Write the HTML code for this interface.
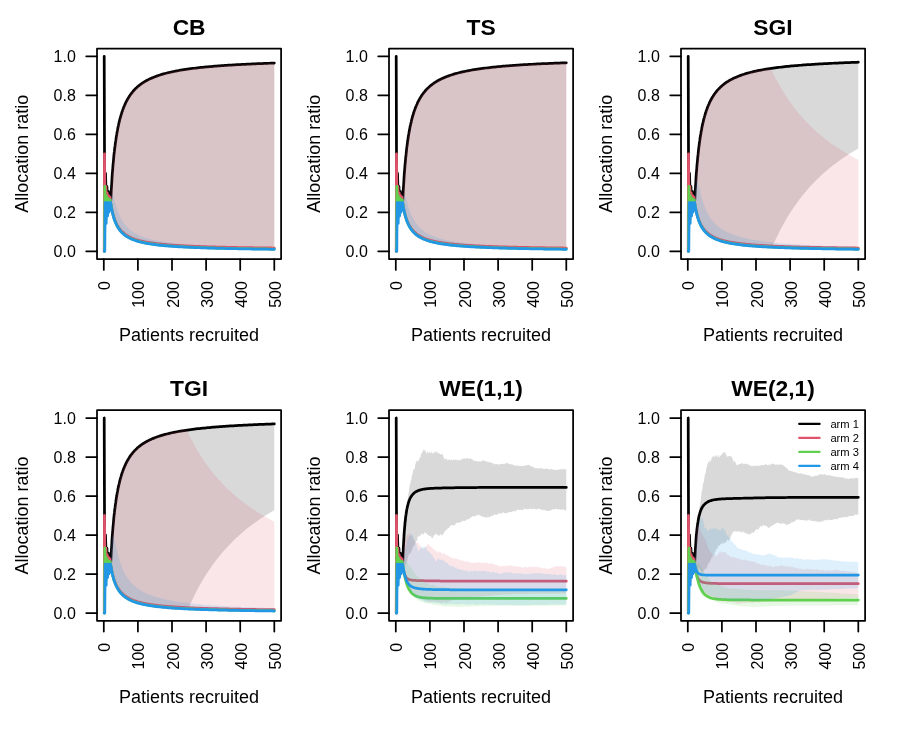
<!DOCTYPE html>
<html><head><meta charset="utf-8"><title>Allocation ratio</title>
<style>
html,body{margin:0;padding:0;background:#fff;}
svg{display:block;will-change:transform;}
text{font-family:"Liberation Sans",sans-serif;fill:#000;}
.ax{font-size:18px;}
.tk{font-size:16px;}
.ti{font-size:22.8px;font-weight:bold;}
.lg{font-size:11.2px;}
.tkl{stroke:#000;stroke-width:1.75;stroke-linecap:round;}
</style></head><body>
<svg width="897" height="734" viewBox="0 0 897 734">
<rect width="897" height="734" fill="#fff"/>
<g>
<clipPath id="cp0"><rect x="97" y="48.5" width="184.1" height="210.6"/></clipPath>
<g clip-path="url(#cp0)">
<polyline points="104.2,56.3 104.5,153.8 104.8,186.3 105.2,202.55 105.5,173.3 105.9,186.3 106.2,195.59 106.5,202.55 106.9,186.3 107.2,192.8 107.6,198.12 107.9,202.55 108.3,191.3 108.6,195.59 108.9,199.3 109.3,202.55 109.6,193.95 110,197.13 110.3,199.98 110.6,202.55 111,195.72 111.3,189.5 111.7,183.81 112,178.6 112.3,173.79 112.7,169.35 113,165.23 113.4,161.41 113.7,157.85 114,154.52 114.4,151.4 114.7,148.48 115.1,145.73 115.4,143.14 115.8,140.7 116.1,138.39 116.4,136.21 116.8,134.14 117.1,132.17 117.5,130.3 117.8,128.53 118.1,126.84 118.5,125.22 118.8,123.68 119.2,122.21 119.5,120.8 119.8,119.45 120.2,118.15 120.5,116.91 120.9,115.72 121.2,114.58 121.6,113.47 121.9,112.41 122.2,111.39 122.6,110.41 122.9,109.46 123.3,108.54 123.6,107.66 123.9,106.81 124.3,105.98 125,104.41 125.6,102.93 126.3,101.55 127,100.25 127.7,99.02 128.4,97.86 129.1,96.76 129.7,95.72 130.4,94.73 131.1,93.79 131.8,92.9 132.5,92.05 133.1,91.24 133.8,90.47 134.5,89.73 135.2,89.02 135.9,88.35 136.6,87.7 137.2,87.08 137.9,86.48 138.6,85.9 139.3,85.35 140,84.82 140.6,84.31 141.3,83.82 142,83.34 142.7,82.88 143.4,82.44 144.1,82.01 144.7,81.6 145.4,81.2 146.1,80.81 146.8,80.44 147.5,80.08 148.2,79.73 148.8,79.38 149.5,79.05 150.2,78.73 150.9,78.42 151.6,78.12 153.3,77.4 155,76.72 156.7,76.1 158.4,75.51 160.1,74.95 161.8,74.43 163.5,73.94 165.2,73.47 166.9,73.03 168.6,72.62 170.3,72.22 172,71.85 173.7,71.49 175.4,71.15 177.1,70.83 178.8,70.52 180.5,70.22 182.2,69.94 184,69.67 185.7,69.41 187.4,69.16 189.1,68.92 190.8,68.69 192.5,68.47 194.2,68.26 195.9,68.05 197.6,67.86 199.3,67.67 201,67.48 202.7,67.31 204.4,67.14 206.1,66.97 207.8,66.81 209.5,66.66 211.2,66.51 212.9,66.36 214.6,66.22 216.4,66.08 218.1,65.95 219.8,65.82 221.5,65.7 223.2,65.58 224.9,65.46 226.6,65.34 228.3,65.23 230,65.13 231.7,65.02 233.4,64.92 235.1,64.82 236.8,64.72 238.5,64.62 240.2,64.53 241.9,64.44 243.6,64.35 245.3,64.27 247,64.18 248.7,64.1 250.5,64.02 252.2,63.94 253.9,63.87 255.6,63.79 257.3,63.72 259,63.65 260.7,63.58 262.4,63.51 264.1,63.44 265.8,63.38 267.5,63.31 269.2,63.25 270.9,63.19 272.6,63.13 274.3,63.07" fill="none" stroke="#000000" stroke-width="2.75" stroke-linecap="round" stroke-linejoin="round"/>
<polygon points="110.6,202.6 111,195.7 111.3,189.5 111.7,183.8 112,178.6 112.3,173.8 112.7,169.3 113,165.2 113.4,161.4 113.7,157.8 114,154.5 114.4,151.4 114.7,148.5 115.1,145.7 115.4,143.1 115.8,140.7 116.1,138.4 116.4,136.2 116.8,134.1 117.1,132.2 117.5,130.3 117.8,128.5 118.1,126.8 118.5,125.2 118.8,123.7 119.2,122.2 119.5,120.8 119.8,119.4 120.2,118.2 120.5,116.9 120.9,115.7 121.2,114.6 121.6,113.5 121.9,112.4 122.2,111.4 122.6,110.4 122.9,109.5 123.3,108.5 123.6,107.7 123.9,106.8 124.3,106 125,104.4 125.6,102.9 126.3,101.5 127,100.2 127.7,99 128.4,97.9 129.1,96.8 129.7,95.7 130.4,94.7 131.1,93.8 131.8,92.9 132.5,92.1 133.1,91.2 133.8,90.5 134.5,89.7 135.2,89 135.9,88.3 136.6,87.7 137.2,87.1 137.9,86.5 138.6,85.9 139.3,85.4 140,84.8 140.6,84.3 141.3,83.8 142,83.3 142.7,82.9 143.4,82.4 144.1,82 144.7,81.6 145.4,81.2 146.1,80.8 146.8,80.4 147.5,80.1 148.2,79.7 148.8,79.4 149.5,79.1 150.2,78.7 150.9,78.4 151.6,78.1 153.3,77.4 155,76.7 156.7,76.1 158.4,75.5 160.1,75 161.8,74.4 163.5,73.9 165.2,73.5 166.9,73 168.6,72.6 170.3,72.2 172,71.8 173.7,71.5 175.4,71.2 177.1,70.8 178.8,70.5 180.5,70.2 182.2,69.9 184,69.7 185.7,69.4 187.4,69.2 189.1,68.9 190.8,68.7 192.5,68.5 194.2,68.3 195.9,68.1 197.6,67.9 199.3,67.7 201,67.5 202.7,67.3 204.4,67.1 206.1,67 207.8,66.8 209.5,66.7 211.2,66.5 212.9,66.4 214.6,66.2 216.4,66.1 218.1,66 219.8,65.8 221.5,65.7 223.2,65.6 224.9,65.5 226.6,65.3 228.3,65.2 230,65.1 231.7,65 233.4,64.9 235.1,64.8 236.8,64.7 238.5,64.6 240.2,64.5 241.9,64.4 243.6,64.4 245.3,64.3 247,64.2 248.7,64.1 250.5,64 252.2,63.9 253.9,63.9 255.6,63.8 257.3,63.7 259,63.6 260.7,63.6 262.4,63.5 264.1,63.4 265.8,63.4 267.5,63.3 269.2,63.2 270.9,63.2 272.6,63.1 274.3,63.1 274.3,249.4 272.6,249.3 270.9,249.3 269.2,249.3 267.5,249.3 265.8,249.2 264.1,249.2 262.4,249.2 260.7,249.2 259,249.2 257.3,249.1 255.6,249.1 253.9,249.1 252.2,249.1 250.5,249 248.7,249 247,249 245.3,249 243.6,248.9 241.9,248.9 240.2,248.9 238.5,248.8 236.8,248.8 235.1,248.8 233.4,248.7 231.7,248.7 230,248.7 228.3,248.6 226.6,248.6 224.9,248.6 223.2,248.5 221.5,248.5 219.8,248.4 218.1,248.4 216.4,248.3 214.6,248.3 212.9,248.3 211.2,248.2 209.5,248.2 207.8,248.1 206.1,248.1 204.4,248 202.7,247.9 201,247.9 199.3,247.8 197.6,247.8 195.9,247.7 194.2,247.6 192.5,247.6 190.8,247.5 189.1,247.4 187.4,247.3 185.7,247.2 184,247.2 182.2,247.1 180.5,247 178.8,246.9 177.1,246.8 175.4,246.7 173.7,246.5 172,246.4 170.3,246.3 168.6,246.2 166.9,246 165.2,245.9 163.5,245.7 161.8,245.6 160.1,245.4 158.4,245.2 156.7,245 155,244.8 153.3,244.6 151.6,244.3 150.9,244.2 150.2,244.1 149.5,244 148.8,243.9 148.2,243.8 147.5,243.7 146.8,243.6 146.1,243.4 145.4,243.3 144.7,243.2 144.1,243 143.4,242.9 142.7,242.7 142,242.6 141.3,242.4 140.6,242.3 140,242.1 139.3,241.9 138.6,241.7 137.9,241.6 137.2,241.4 136.6,241.1 135.9,240.9 135.2,240.7 134.5,240.5 133.8,240.2 133.1,240 132.5,239.7 131.8,239.4 131.1,239.1 130.4,238.8 129.7,238.5 129.1,238.1 128.4,237.8 127.7,237.4 127,237 126.3,236.5 125.6,236.1 125,235.6 124.3,235.1 123.9,234.8 123.6,234.5 123.3,234.2 122.9,233.9 122.6,233.6 122.2,233.2 121.9,232.9 121.6,232.6 121.2,232.2 120.9,231.8 120.5,231.4 120.2,231 119.8,230.6 119.5,230.1 119.2,229.6 118.8,229.1 118.5,228.6 118.1,228.1 117.8,227.5 117.5,226.9 117.1,226.3 116.8,225.6 116.4,224.9 116.1,224.2 115.8,223.4 115.4,222.6 115.1,221.8 114.7,220.8 114.4,219.8 114,218.8 113.7,217.7 113.4,216.5 113,215.2 112.7,213.8 112.3,212.3 112,210.7 111.7,208.9 111.3,207 111,204.9 110.6,202.6" fill="#000000" fill-opacity="0.15"/>
<polyline points="104.2,251.3 104.5,153.8 104.8,186.3 105.2,202.55 105.5,212.3 105.9,186.3 106.2,195.59 106.5,202.55 106.9,207.97 107.2,192.8 107.6,198.12 107.9,202.55 108.3,206.3 108.6,195.59 108.9,199.3 109.3,202.55 109.6,205.42 110,197.13 110.3,199.98 110.6,202.55 111,204.71 111.3,206.68 111.7,208.48 112,210.13 112.3,211.65 112.7,213.06 113,214.36 113.4,215.58 113.7,216.71 114,217.77 114.4,218.77 114.7,219.7 115.1,220.58 115.4,221.41 115.8,222.19 116.1,222.93 116.4,223.64 116.8,224.3 117.1,224.94 117.5,225.54 117.8,226.12 118.1,226.67 118.5,227.19 118.8,227.7 119.2,228.18 119.5,228.64 119.8,229.08 120.2,229.51 120.5,229.91 120.9,230.3 121.2,230.68 121.6,231.04 121.9,231.39 122.2,231.73 122.6,232.06 122.9,232.37 123.3,232.68 123.6,232.97 123.9,233.25 124.3,233.53 125,234.05 125.6,234.54 126.3,235 127,235.44 127.7,235.85 128.4,236.24 129.1,236.61 129.7,236.96 130.4,237.29 131.1,237.61 131.8,237.91 132.5,238.19 133.1,238.47 133.8,238.73 134.5,238.98 135.2,239.22 135.9,239.44 136.6,239.66 137.2,239.87 137.9,240.08 138.6,240.27 139.3,240.46 140,240.64 140.6,240.81 141.3,240.98 142,241.14 142.7,241.29 143.4,241.44 144.1,241.59 144.7,241.73 145.4,241.86 146.1,242 146.8,242.12 147.5,242.25 148.2,242.36 148.8,242.48 149.5,242.59 150.2,242.7 150.9,242.81 151.6,242.91 153.3,243.16 155,243.38 156.7,243.6 158.4,243.8 160.1,243.99 161.8,244.16 163.5,244.33 165.2,244.49 166.9,244.64 168.6,244.78 170.3,244.91 172,245.04 173.7,245.16 175.4,245.28 177.1,245.39 178.8,245.49 180.5,245.59 182.2,245.69 184,245.78 185.7,245.87 187.4,245.95 189.1,246.04 190.8,246.11 192.5,246.19 194.2,246.26 195.9,246.33 197.6,246.4 199.3,246.46 201,246.52 202.7,246.58 204.4,246.64 206.1,246.7 207.8,246.75 209.5,246.8 211.2,246.86 212.9,246.91 214.6,246.95 216.4,247 218.1,247.04 219.8,247.09 221.5,247.13 223.2,247.17 224.9,247.21 226.6,247.25 228.3,247.29 230,247.33 231.7,247.36 233.4,247.4 235.1,247.43 236.8,247.46 238.5,247.5 240.2,247.53 241.9,247.56 243.6,247.59 245.3,247.62 247,247.65 248.7,247.67 250.5,247.7 252.2,247.73 253.9,247.75 255.6,247.78 257.3,247.8 259,247.83 260.7,247.85 262.4,247.87 264.1,247.9 265.8,247.92 267.5,247.94 269.2,247.96 270.9,247.98 272.6,248 274.3,248.02" fill="none" stroke="#DF536B" stroke-width="2.75" stroke-linecap="round" stroke-linejoin="round"/>
<polygon points="110.6,202.6 111,195.7 111.3,189.5 111.7,183.8 112,178.6 112.3,173.8 112.7,169.3 113,165.2 113.4,161.4 113.7,157.8 114,154.5 114.4,151.4 114.7,148.5 115.1,145.7 115.4,143.1 115.8,140.7 116.1,138.4 116.4,136.2 116.8,134.1 117.1,132.2 117.5,130.3 117.8,128.5 118.1,126.8 118.5,125.2 118.8,123.7 119.2,122.2 119.5,120.8 119.8,119.4 120.2,118.2 120.5,116.9 120.9,115.7 121.2,114.6 121.6,113.5 121.9,112.4 122.2,111.4 122.6,110.4 122.9,109.5 123.3,108.5 123.6,107.7 123.9,106.8 124.3,106 125,104.4 125.6,102.9 126.3,101.5 127,100.2 127.7,99 128.4,97.9 129.1,96.8 129.7,95.7 130.4,94.7 131.1,93.8 131.8,92.9 132.5,92.1 133.1,91.2 133.8,90.5 134.5,89.7 135.2,89 135.9,88.3 136.6,87.7 137.2,87.1 137.9,86.5 138.6,85.9 139.3,85.4 140,84.8 140.6,84.3 141.3,83.8 142,83.3 142.7,82.9 143.4,82.4 144.1,82 144.7,81.6 145.4,81.2 146.1,80.8 146.8,80.4 147.5,80.1 148.2,79.7 148.8,79.4 149.5,79.1 150.2,78.7 150.9,78.4 151.6,78.1 153.3,77.4 155,76.7 156.7,76.1 158.4,75.5 160.1,75 161.8,74.4 163.5,73.9 165.2,73.5 166.9,73 168.6,72.6 170.3,72.2 172,71.8 173.7,71.5 175.4,71.2 177.1,70.8 178.8,70.5 180.5,70.2 182.2,69.9 184,69.7 185.7,69.4 187.4,69.2 189.1,68.9 190.8,68.7 192.5,68.5 194.2,68.3 195.9,68.1 197.6,67.9 199.3,67.7 201,67.5 202.7,67.3 204.4,67.1 206.1,67 207.8,66.8 209.5,66.7 211.2,66.5 212.9,66.4 214.6,66.2 216.4,66.1 218.1,66 219.8,65.8 221.5,65.7 223.2,65.6 224.9,65.5 226.6,65.3 228.3,65.2 230,65.1 231.7,65 233.4,64.9 235.1,64.8 236.8,64.7 238.5,64.6 240.2,64.5 241.9,64.4 243.6,64.4 245.3,64.3 247,64.2 248.7,64.1 250.5,64 252.2,63.9 253.9,63.9 255.6,63.8 257.3,63.7 259,63.6 260.7,63.6 262.4,63.5 264.1,63.4 265.8,63.4 267.5,63.3 269.2,63.2 270.9,63.2 272.6,63.1 274.3,63.1 274.3,249.4 272.6,249.3 270.9,249.3 269.2,249.3 267.5,249.3 265.8,249.2 264.1,249.2 262.4,249.2 260.7,249.2 259,249.2 257.3,249.1 255.6,249.1 253.9,249.1 252.2,249.1 250.5,249 248.7,249 247,249 245.3,249 243.6,248.9 241.9,248.9 240.2,248.9 238.5,248.8 236.8,248.8 235.1,248.8 233.4,248.7 231.7,248.7 230,248.7 228.3,248.6 226.6,248.6 224.9,248.6 223.2,248.5 221.5,248.5 219.8,248.4 218.1,248.4 216.4,248.3 214.6,248.3 212.9,248.3 211.2,248.2 209.5,248.2 207.8,248.1 206.1,248.1 204.4,248 202.7,247.9 201,247.9 199.3,247.8 197.6,247.8 195.9,247.7 194.2,247.6 192.5,247.6 190.8,247.5 189.1,247.4 187.4,247.3 185.7,247.2 184,247.2 182.2,247.1 180.5,247 178.8,246.9 177.1,246.8 175.4,246.7 173.7,246.5 172,246.4 170.3,246.3 168.6,246.2 166.9,246 165.2,245.9 163.5,245.7 161.8,245.6 160.1,245.4 158.4,245.2 156.7,245 155,244.8 153.3,244.6 151.6,244.3 150.9,244.2 150.2,244.1 149.5,244 148.8,243.9 148.2,243.8 147.5,243.7 146.8,243.6 146.1,243.4 145.4,243.3 144.7,243.2 144.1,243 143.4,242.9 142.7,242.7 142,242.6 141.3,242.4 140.6,242.3 140,242.1 139.3,241.9 138.6,241.7 137.9,241.6 137.2,241.4 136.6,241.1 135.9,240.9 135.2,240.7 134.5,240.5 133.8,240.2 133.1,240 132.5,239.7 131.8,239.4 131.1,239.1 130.4,238.8 129.7,238.5 129.1,238.1 128.4,237.8 127.7,237.4 127,237 126.3,236.5 125.6,236.1 125,235.6 124.3,235.1 123.9,234.8 123.6,234.5 123.3,234.2 122.9,233.9 122.6,233.6 122.2,233.2 121.9,232.9 121.6,232.6 121.2,232.2 120.9,231.8 120.5,231.4 120.2,231 119.8,230.6 119.5,230.1 119.2,229.6 118.8,229.1 118.5,228.6 118.1,228.1 117.8,227.5 117.5,226.9 117.1,226.3 116.8,225.6 116.4,224.9 116.1,224.2 115.8,223.4 115.4,222.6 115.1,221.8 114.7,220.8 114.4,219.8 114,218.8 113.7,217.7 113.4,216.5 113,215.2 112.7,213.8 112.3,212.3 112,210.7 111.7,208.9 111.3,207 111,204.9 110.6,202.6" fill="#DF536B" fill-opacity="0.15"/>
<polyline points="104.2,251.3 104.5,251.3 104.8,186.3 105.2,202.55 105.5,212.3 105.9,218.8 106.2,195.59 106.5,202.55 106.9,207.97 107.2,212.3 107.6,198.12 107.9,202.55 108.3,206.3 108.6,209.51 108.9,199.3 109.3,202.55 109.6,205.42 110,207.97 110.3,199.98 110.6,202.55 111,204.81 111.3,206.87 111.7,208.75 112,210.48 112.3,212.07 112.7,213.53 113,214.89 113.4,216.16 113.7,217.34 114,218.44 114.4,219.47 114.7,220.44 115.1,221.34 115.4,222.2 115.8,223.01 116.1,223.77 116.4,224.5 116.8,225.18 117.1,225.83 117.5,226.45 117.8,227.04 118.1,227.61 118.5,228.14 118.8,228.65 119.2,229.14 119.5,229.61 119.8,230.06 120.2,230.49 120.5,230.91 120.9,231.31 121.2,231.69 121.6,232.05 121.9,232.41 122.2,232.75 122.6,233.08 122.9,233.4 123.3,233.7 123.6,234 123.9,234.28 124.3,234.56 125,235.09 125.6,235.58 126.3,236.05 127,236.48 127.7,236.9 128.4,237.29 129.1,237.66 129.7,238.01 130.4,238.34 131.1,238.66 131.8,238.96 132.5,239.25 133.1,239.52 133.8,239.78 134.5,240.03 135.2,240.27 135.9,240.5 136.6,240.72 137.2,240.93 137.9,241.13 138.6,241.32 139.3,241.51 140,241.69 140.6,241.86 141.3,242.03 142,242.19 142.7,242.35 143.4,242.5 144.1,242.64 144.7,242.78 145.4,242.92 146.1,243.05 146.8,243.18 147.5,243.3 148.2,243.42 148.8,243.53 149.5,243.65 150.2,243.75 150.9,243.86 151.6,243.96 153.3,244.21 155,244.44 156.7,244.65 158.4,244.85 160.1,245.04 161.8,245.22 163.5,245.38 165.2,245.54 166.9,245.69 168.6,245.83 170.3,245.97 172,246.09 173.7,246.21 175.4,246.33 177.1,246.44 178.8,246.55 180.5,246.65 182.2,246.74 184,246.83 185.7,246.92 187.4,247.01 189.1,247.09 190.8,247.17 192.5,247.24 194.2,247.31 195.9,247.38 197.6,247.45 199.3,247.51 201,247.58 202.7,247.64 204.4,247.69 206.1,247.75 207.8,247.81 209.5,247.86 211.2,247.91 212.9,247.96 214.6,248.01 216.4,248.05 218.1,248.1 219.8,248.14 221.5,248.18 223.2,248.22 224.9,248.26 226.6,248.3 228.3,248.34 230,248.38 231.7,248.41 233.4,248.45 235.1,248.48 236.8,248.52 238.5,248.55 240.2,248.58 241.9,248.61 243.6,248.64 245.3,248.67 247,248.7 248.7,248.73 250.5,248.75 252.2,248.78 253.9,248.81 255.6,248.83 257.3,248.86 259,248.88 260.7,248.9 262.4,248.93 264.1,248.95 265.8,248.97 267.5,248.99 269.2,249.02 270.9,249.04 272.6,249.06 274.3,249.08" fill="none" stroke="#61D04F" stroke-width="2.75" stroke-linecap="round" stroke-linejoin="round"/>
<polygon points="110.6,202.6 111,203.9 111.3,205.2 111.7,206.6 112,208 112.3,209.3 112.7,210.7 113,211.9 113.4,213.1 113.7,214.3 114,215.4 114.4,216.5 114.7,217.5 115.1,218.5 115.4,219.4 115.8,220.3 116.1,221.1 116.4,221.9 116.8,222.6 117.1,223.4 117.5,224.1 117.8,224.7 118.1,225.3 118.5,225.9 118.8,226.5 119.2,227.1 119.5,227.6 119.8,228.1 120.2,228.6 120.5,229 120.9,229.5 121.2,229.9 121.6,230.3 121.9,230.7 122.2,231.1 122.6,231.4 122.9,231.8 123.3,232.1 123.6,232.5 123.9,232.8 124.3,233.1 125,233.7 125.6,234.2 126.3,234.8 127,235.2 127.7,235.7 128.4,236.1 129.1,236.5 129.7,236.9 130.4,237.3 131.1,237.7 131.8,238 132.5,238.3 133.1,238.6 133.8,238.9 134.5,239.2 135.2,239.4 135.9,239.7 136.6,239.9 137.2,240.2 137.9,240.4 138.6,240.6 139.3,240.8 140,241 140.6,241.2 141.3,241.4 142,241.6 142.7,241.7 143.4,241.9 144.1,242 144.7,242.2 145.4,242.3 146.1,242.5 146.8,242.6 147.5,242.8 148.2,242.9 148.8,243 149.5,243.2 150.2,243.3 150.9,243.4 151.6,243.5 153.3,243.8 155,244 156.7,244.3 158.4,244.5 160.1,244.7 161.8,244.9 163.5,245.1 165.2,245.2 166.9,245.4 168.6,245.6 170.3,245.7 172,245.8 173.7,246 175.4,246.1 177.1,246.2 178.8,246.3 180.5,246.4 182.2,246.6 184,246.7 185.7,246.8 187.4,246.8 189.1,246.9 190.8,247 192.5,247.1 194.2,247.2 195.9,247.3 197.6,247.3 199.3,247.4 201,247.5 202.7,247.5 204.4,247.6 206.1,247.7 207.8,247.7 209.5,247.8 211.2,247.8 212.9,247.9 214.6,247.9 216.4,248 218.1,248 219.8,248.1 221.5,248.1 223.2,248.2 224.9,248.2 226.6,248.3 228.3,248.3 230,248.3 231.7,248.4 233.4,248.4 235.1,248.5 236.8,248.5 238.5,248.5 240.2,248.6 241.9,248.6 243.6,248.6 245.3,248.7 247,248.7 248.7,248.7 250.5,248.8 252.2,248.8 253.9,248.8 255.6,248.8 257.3,248.9 259,248.9 260.7,248.9 262.4,249 264.1,249 265.8,249 267.5,249 269.2,249 270.9,249.1 272.6,249.1 274.3,249.1 274.3,249.4 272.6,249.3 270.9,249.3 269.2,249.3 267.5,249.3 265.8,249.2 264.1,249.2 262.4,249.2 260.7,249.2 259,249.2 257.3,249.1 255.6,249.1 253.9,249.1 252.2,249.1 250.5,249 248.7,249 247,249 245.3,249 243.6,248.9 241.9,248.9 240.2,248.9 238.5,248.8 236.8,248.8 235.1,248.8 233.4,248.7 231.7,248.7 230,248.7 228.3,248.6 226.6,248.6 224.9,248.6 223.2,248.5 221.5,248.5 219.8,248.4 218.1,248.4 216.4,248.3 214.6,248.3 212.9,248.3 211.2,248.2 209.5,248.2 207.8,248.1 206.1,248.1 204.4,248 202.7,247.9 201,247.9 199.3,247.8 197.6,247.8 195.9,247.7 194.2,247.6 192.5,247.6 190.8,247.5 189.1,247.4 187.4,247.3 185.7,247.2 184,247.2 182.2,247.1 180.5,247 178.8,246.9 177.1,246.8 175.4,246.7 173.7,246.5 172,246.4 170.3,246.3 168.6,246.2 166.9,246 165.2,245.9 163.5,245.7 161.8,245.6 160.1,245.4 158.4,245.2 156.7,245 155,244.8 153.3,244.6 151.6,244.3 150.9,244.2 150.2,244.1 149.5,244 148.8,243.9 148.2,243.8 147.5,243.7 146.8,243.6 146.1,243.4 145.4,243.3 144.7,243.2 144.1,243 143.4,242.9 142.7,242.7 142,242.6 141.3,242.4 140.6,242.3 140,242.1 139.3,241.9 138.6,241.7 137.9,241.6 137.2,241.4 136.6,241.1 135.9,240.9 135.2,240.7 134.5,240.5 133.8,240.2 133.1,240 132.5,239.7 131.8,239.4 131.1,239.1 130.4,238.8 129.7,238.5 129.1,238.1 128.4,237.8 127.7,237.4 127,237 126.3,236.5 125.6,236.1 125,235.6 124.3,235.1 123.9,234.8 123.6,234.5 123.3,234.2 122.9,233.9 122.6,233.6 122.2,233.2 121.9,232.9 121.6,232.6 121.2,232.2 120.9,231.8 120.5,231.4 120.2,231 119.8,230.6 119.5,230.1 119.2,229.6 118.8,229.1 118.5,228.6 118.1,228.1 117.8,227.5 117.5,226.9 117.1,226.3 116.8,225.6 116.4,224.9 116.1,224.2 115.8,223.4 115.4,222.6 115.1,221.8 114.7,220.8 114.4,219.8 114,218.8 113.7,217.7 113.4,216.5 113,215.2 112.7,213.8 112.3,212.3 112,210.7 111.7,208.9 111.3,207 111,204.9 110.6,202.6" fill="#61D04F" fill-opacity="0.15"/>
<polyline points="104.2,251.3 104.5,251.3 104.8,251.3 105.2,202.55 105.5,212.3 105.9,218.8 106.2,223.44 106.5,202.55 106.9,207.97 107.2,212.3 107.6,215.85 107.9,202.55 108.3,206.3 108.6,209.51 108.9,212.3 109.3,202.55 109.6,205.42 110,207.97 110.3,210.25 110.6,202.55 111,204.84 111.3,206.91 111.7,208.81 112,210.55 112.3,212.16 112.7,213.64 113,215.01 113.4,216.29 113.7,217.48 114,218.59 114.4,219.62 114.7,220.6 115.1,221.51 115.4,222.38 115.8,223.19 116.1,223.96 116.4,224.69 116.8,225.38 117.1,226.03 117.5,226.66 117.8,227.25 118.1,227.81 118.5,228.35 118.8,228.87 119.2,229.36 119.5,229.83 119.8,230.28 120.2,230.71 120.5,231.13 120.9,231.53 121.2,231.91 121.6,232.28 121.9,232.63 122.2,232.98 122.6,233.31 122.9,233.62 123.3,233.93 123.6,234.23 123.9,234.51 124.3,234.79 125,235.32 125.6,235.81 126.3,236.28 127,236.72 127.7,237.13 128.4,237.52 129.1,237.89 129.7,238.24 130.4,238.57 131.1,238.89 131.8,239.19 132.5,239.48 133.1,239.75 133.8,240.01 134.5,240.26 135.2,240.5 135.9,240.73 136.6,240.95 137.2,241.16 137.9,241.36 138.6,241.56 139.3,241.74 140,241.92 140.6,242.1 141.3,242.26 142,242.42 142.7,242.58 143.4,242.73 144.1,242.88 144.7,243.02 145.4,243.15 146.1,243.28 146.8,243.41 147.5,243.53 148.2,243.65 148.8,243.77 149.5,243.88 150.2,243.99 150.9,244.09 151.6,244.2 153.3,244.44 155,244.67 156.7,244.88 158.4,245.08 160.1,245.27 161.8,245.45 163.5,245.62 165.2,245.78 166.9,245.92 168.6,246.07 170.3,246.2 172,246.33 173.7,246.45 175.4,246.56 177.1,246.67 178.8,246.78 180.5,246.88 182.2,246.98 184,247.07 185.7,247.16 187.4,247.24 189.1,247.32 190.8,247.4 192.5,247.48 194.2,247.55 195.9,247.62 197.6,247.68 199.3,247.75 201,247.81 202.7,247.87 204.4,247.93 206.1,247.99 207.8,248.04 209.5,248.09 211.2,248.14 212.9,248.19 214.6,248.24 216.4,248.29 218.1,248.33 219.8,248.38 221.5,248.42 223.2,248.46 224.9,248.5 226.6,248.54 228.3,248.58 230,248.61 231.7,248.65 233.4,248.68 235.1,248.72 236.8,248.75 238.5,248.78 240.2,248.81 241.9,248.84 243.6,248.87 245.3,248.9 247,248.93 248.7,248.96 250.5,248.99 252.2,249.01 253.9,249.04 255.6,249.07 257.3,249.09 259,249.11 260.7,249.14 262.4,249.16 264.1,249.18 265.8,249.21 267.5,249.23 269.2,249.25 270.9,249.27 272.6,249.29 274.3,249.31" fill="none" stroke="#2297E6" stroke-width="2.75" stroke-linecap="round" stroke-linejoin="round"/>
<polygon points="110.6,202.6 111,199 111.3,196.8 111.7,195.5 112,195 112.3,195 112.7,195.5 113,196.1 113.4,197 113.7,198 114,199.1 114.4,200.3 114.7,201.4 115.1,202.6 115.4,203.8 115.8,204.9 116.1,206 116.4,207.1 116.8,208.2 117.1,209.2 117.5,210.2 117.8,211.1 118.1,212 118.5,212.9 118.8,213.8 119.2,214.6 119.5,215.3 119.8,216.1 120.2,216.8 120.5,217.5 120.9,218.2 121.2,218.8 121.6,219.4 121.9,220 122.2,220.6 122.6,221.2 122.9,221.7 123.3,222.2 123.6,222.7 123.9,223.2 124.3,223.7 125,224.6 125.6,225.4 126.3,226.2 127,226.9 127.7,227.6 128.4,228.3 129.1,228.9 129.7,229.5 130.4,230.1 131.1,230.6 131.8,231.1 132.5,231.6 133.1,232 133.8,232.5 134.5,232.9 135.2,233.3 135.9,233.7 136.6,234 137.2,234.4 137.9,234.7 138.6,235.1 139.3,235.4 140,235.7 140.6,236 141.3,236.2 142,236.5 142.7,236.8 143.4,237 144.1,237.3 144.7,237.5 145.4,237.7 146.1,237.9 146.8,238.1 147.5,238.4 148.2,238.6 148.8,238.7 149.5,238.9 150.2,239.1 150.9,239.3 151.6,239.5 153.3,239.9 155,240.3 156.7,240.6 158.4,240.9 160.1,241.3 161.8,241.6 163.5,241.8 165.2,242.1 166.9,242.3 168.6,242.6 170.3,242.8 172,243 173.7,243.2 175.4,243.4 177.1,243.6 178.8,243.8 180.5,243.9 182.2,244.1 184,244.2 185.7,244.4 187.4,244.5 189.1,244.7 190.8,244.8 192.5,244.9 194.2,245 195.9,245.2 197.6,245.3 199.3,245.4 201,245.5 202.7,245.6 204.4,245.7 206.1,245.8 207.8,245.9 209.5,246 211.2,246 212.9,246.1 214.6,246.2 216.4,246.3 218.1,246.4 219.8,246.4 221.5,246.5 223.2,246.6 224.9,246.6 226.6,246.7 228.3,246.8 230,246.8 231.7,246.9 233.4,246.9 235.1,247 236.8,247.1 238.5,247.1 240.2,247.2 241.9,247.2 243.6,247.3 245.3,247.3 247,247.4 248.7,247.4 250.5,247.4 252.2,247.5 253.9,247.5 255.6,247.6 257.3,247.6 259,247.7 260.7,247.7 262.4,247.7 264.1,247.8 265.8,247.8 267.5,247.8 269.2,247.9 270.9,247.9 272.6,248 274.3,248 274.3,249.4 272.6,249.3 270.9,249.3 269.2,249.3 267.5,249.3 265.8,249.2 264.1,249.2 262.4,249.2 260.7,249.2 259,249.2 257.3,249.1 255.6,249.1 253.9,249.1 252.2,249.1 250.5,249 248.7,249 247,249 245.3,249 243.6,248.9 241.9,248.9 240.2,248.9 238.5,248.8 236.8,248.8 235.1,248.8 233.4,248.7 231.7,248.7 230,248.7 228.3,248.6 226.6,248.6 224.9,248.6 223.2,248.5 221.5,248.5 219.8,248.4 218.1,248.4 216.4,248.3 214.6,248.3 212.9,248.3 211.2,248.2 209.5,248.2 207.8,248.1 206.1,248.1 204.4,248 202.7,247.9 201,247.9 199.3,247.8 197.6,247.8 195.9,247.7 194.2,247.6 192.5,247.6 190.8,247.5 189.1,247.4 187.4,247.3 185.7,247.2 184,247.2 182.2,247.1 180.5,247 178.8,246.9 177.1,246.8 175.4,246.7 173.7,246.5 172,246.4 170.3,246.3 168.6,246.2 166.9,246 165.2,245.9 163.5,245.7 161.8,245.6 160.1,245.4 158.4,245.2 156.7,245 155,244.8 153.3,244.6 151.6,244.3 150.9,244.2 150.2,244.1 149.5,244 148.8,243.9 148.2,243.8 147.5,243.7 146.8,243.6 146.1,243.4 145.4,243.3 144.7,243.2 144.1,243 143.4,242.9 142.7,242.7 142,242.6 141.3,242.4 140.6,242.3 140,242.1 139.3,241.9 138.6,241.7 137.9,241.6 137.2,241.4 136.6,241.1 135.9,240.9 135.2,240.7 134.5,240.5 133.8,240.2 133.1,240 132.5,239.7 131.8,239.4 131.1,239.1 130.4,238.8 129.7,238.5 129.1,238.1 128.4,237.8 127.7,237.4 127,237 126.3,236.5 125.6,236.1 125,235.6 124.3,235.1 123.9,234.8 123.6,234.5 123.3,234.2 122.9,233.9 122.6,233.6 122.2,233.2 121.9,232.9 121.6,232.6 121.2,232.2 120.9,231.8 120.5,231.4 120.2,231 119.8,230.6 119.5,230.1 119.2,229.6 118.8,229.1 118.5,228.6 118.1,228.1 117.8,227.5 117.5,226.9 117.1,226.3 116.8,225.6 116.4,224.9 116.1,224.2 115.8,223.4 115.4,222.6 115.1,221.8 114.7,220.8 114.4,219.8 114,218.8 113.7,217.7 113.4,216.5 113,215.2 112.7,213.8 112.3,212.3 112,210.7 111.7,208.9 111.3,207 111,204.9 110.6,202.6" fill="#2297E6" fill-opacity="0.15"/>
</g>
<rect x="97" y="48.5" width="184.1" height="210.6" fill="none" stroke="#000" stroke-width="1.75" stroke-linejoin="round"/>
<line x1="97" y1="251.3" x2="86.2" y2="251.3" class="tkl"/>
<text x="75.8" y="257.4" text-anchor="end" class="tk">0.0</text>
<line x1="97" y1="212.3" x2="86.2" y2="212.3" class="tkl"/>
<text x="75.8" y="218.4" text-anchor="end" class="tk">0.2</text>
<line x1="97" y1="173.3" x2="86.2" y2="173.3" class="tkl"/>
<text x="75.8" y="179.4" text-anchor="end" class="tk">0.4</text>
<line x1="97" y1="134.3" x2="86.2" y2="134.3" class="tkl"/>
<text x="75.8" y="140.4" text-anchor="end" class="tk">0.6</text>
<line x1="97" y1="95.3" x2="86.2" y2="95.3" class="tkl"/>
<text x="75.8" y="101.4" text-anchor="end" class="tk">0.8</text>
<line x1="97" y1="56.3" x2="86.2" y2="56.3" class="tkl"/>
<text x="75.8" y="62.4" text-anchor="end" class="tk">1.0</text>
<line x1="103.8" y1="259.1" x2="103.8" y2="269.9" class="tkl"/>
<text transform="translate(110.3,281.1) rotate(-90)" text-anchor="end" class="tk">0</text>
<line x1="137.9" y1="259.1" x2="137.9" y2="269.9" class="tkl"/>
<text transform="translate(144.4,281.1) rotate(-90)" text-anchor="end" class="tk">100</text>
<line x1="172" y1="259.1" x2="172" y2="269.9" class="tkl"/>
<text transform="translate(178.5,281.1) rotate(-90)" text-anchor="end" class="tk">200</text>
<line x1="206.1" y1="259.1" x2="206.1" y2="269.9" class="tkl"/>
<text transform="translate(212.6,281.1) rotate(-90)" text-anchor="end" class="tk">300</text>
<line x1="240.2" y1="259.1" x2="240.2" y2="269.9" class="tkl"/>
<text transform="translate(246.7,281.1) rotate(-90)" text-anchor="end" class="tk">400</text>
<line x1="274.3" y1="259.1" x2="274.3" y2="269.9" class="tkl"/>
<text transform="translate(280.8,281.1) rotate(-90)" text-anchor="end" class="tk">500</text>
<text x="189.1" y="34.5" text-anchor="middle" class="ti">CB</text>
<text x="189.1" y="341.3" text-anchor="middle" class="ax">Patients recruited</text>
<text transform="translate(27.6,153.8) rotate(-90)" text-anchor="middle" class="ax">Allocation ratio</text>
</g>
<g>
<clipPath id="cp1"><rect x="389" y="48.5" width="184.1" height="210.6"/></clipPath>
<g clip-path="url(#cp1)">
<polyline points="396.2,56.3 396.5,153.8 396.8,186.3 397.2,202.55 397.5,173.3 397.9,186.3 398.2,195.59 398.5,202.55 398.9,186.3 399.2,192.8 399.6,198.12 399.9,202.55 400.3,191.3 400.6,195.59 400.9,199.3 401.3,202.55 401.6,193.95 402,197.13 402.3,199.98 402.6,202.55 403,195.7 403.3,189.47 403.7,183.78 404,178.55 404.3,173.73 404.7,169.28 405,165.16 405.4,161.33 405.7,157.75 406.1,154.42 406.4,151.3 406.7,148.37 407.1,145.61 407.4,143.02 407.8,140.57 408.1,138.26 408.4,136.07 408.8,134 409.1,132.03 409.5,130.16 409.8,128.38 410.1,126.68 410.5,125.07 410.8,123.52 411.2,122.04 411.5,120.63 411.8,119.28 412.2,117.98 412.5,116.74 412.9,115.54 413.2,114.4 413.6,113.29 413.9,112.23 414.2,111.21 414.6,110.22 414.9,109.27 415.3,108.35 415.6,107.47 415.9,106.61 416.3,105.79 417,104.21 417.6,102.73 418.3,101.35 419,100.04 419.7,98.81 420.4,97.65 421.1,96.54 421.7,95.5 422.4,94.51 423.1,93.57 423.8,92.68 424.5,91.83 425.1,91.02 425.8,90.24 426.5,89.5 427.2,88.79 427.9,88.12 428.6,87.47 429.2,86.84 429.9,86.24 430.6,85.67 431.3,85.12 432,84.58 432.6,84.07 433.3,83.58 434,83.1 434.7,82.64 435.4,82.2 436.1,81.77 436.7,81.36 437.4,80.96 438.1,80.57 438.8,80.19 439.5,79.83 440.1,79.48 440.8,79.14 441.5,78.8 442.2,78.48 442.9,78.17 443.6,77.87 445.3,77.14 447,76.47 448.7,75.84 450.4,75.25 452.1,74.69 453.8,74.17 455.5,73.68 457.2,73.21 458.9,72.77 460.6,72.36 462.3,71.96 464,71.58 465.7,71.23 467.4,70.89 469.1,70.56 470.8,70.25 472.5,69.96 474.2,69.67 476,69.4 477.7,69.14 479.4,68.89 481.1,68.65 482.8,68.42 484.5,68.2 486.2,67.99 487.9,67.78 489.6,67.59 491.3,67.4 493,67.21 494.7,67.03 496.4,66.86 498.1,66.7 499.8,66.54 501.5,66.38 503.2,66.23 504.9,66.09 506.6,65.95 508.4,65.81 510.1,65.68 511.8,65.55 513.5,65.42 515.2,65.3 516.9,65.18 518.6,65.07 520.3,64.96 522,64.85 523.7,64.74 525.4,64.64 527.1,64.54 528.8,64.44 530.5,64.35 532.2,64.25 533.9,64.16 535.6,64.08 537.3,63.99 539,63.91 540.7,63.82 542.5,63.74 544.2,63.66 545.9,63.59 547.6,63.51 549.3,63.44 551,63.37 552.7,63.3 554.4,63.23 556.1,63.16 557.8,63.1 559.5,63.03 561.2,62.97 562.9,62.91 564.6,62.85 566.3,62.79" fill="none" stroke="#000000" stroke-width="2.75" stroke-linecap="round" stroke-linejoin="round"/>
<polygon points="402.6,202.6 403,195.7 403.3,189.5 403.7,183.8 404,178.5 404.3,173.7 404.7,169.3 405,165.2 405.4,161.3 405.7,157.8 406.1,154.4 406.4,151.3 406.7,148.4 407.1,145.6 407.4,143 407.8,140.6 408.1,138.3 408.4,136.1 408.8,134 409.1,132 409.5,130.2 409.8,128.4 410.1,126.7 410.5,125.1 410.8,123.5 411.2,122 411.5,120.6 411.8,119.3 412.2,118 412.5,116.7 412.9,115.5 413.2,114.4 413.6,113.3 413.9,112.2 414.2,111.2 414.6,110.2 414.9,109.3 415.3,108.4 415.6,107.5 415.9,106.6 416.3,105.8 417,104.2 417.6,102.7 418.3,101.3 419,100 419.7,98.8 420.4,97.6 421.1,96.5 421.7,95.5 422.4,94.5 423.1,93.6 423.8,92.7 424.5,91.8 425.1,91 425.8,90.2 426.5,89.5 427.2,88.8 427.9,88.1 428.6,87.5 429.2,86.8 429.9,86.2 430.6,85.7 431.3,85.1 432,84.6 432.6,84.1 433.3,83.6 434,83.1 434.7,82.6 435.4,82.2 436.1,81.8 436.7,81.4 437.4,81 438.1,80.6 438.8,80.2 439.5,79.8 440.1,79.5 440.8,79.1 441.5,78.8 442.2,78.5 442.9,78.2 443.6,77.9 445.3,77.1 447,76.5 448.7,75.8 450.4,75.2 452.1,74.7 453.8,74.2 455.5,73.7 457.2,73.2 458.9,72.8 460.6,72.4 462.3,72 464,71.6 465.7,71.2 467.4,70.9 469.1,70.6 470.8,70.3 472.5,70 474.2,69.7 476,69.4 477.7,69.1 479.4,68.9 481.1,68.7 482.8,68.4 484.5,68.2 486.2,68 487.9,67.8 489.6,67.6 491.3,67.4 493,67.2 494.7,67 496.4,66.9 498.1,66.7 499.8,66.5 501.5,66.4 503.2,66.2 504.9,66.1 506.6,65.9 508.4,65.8 510.1,65.7 511.8,65.5 513.5,65.4 515.2,65.3 516.9,65.2 518.6,65.1 520.3,65 522,64.8 523.7,64.7 525.4,64.6 527.1,64.5 528.8,64.4 530.5,64.3 532.2,64.3 533.9,64.2 535.6,64.1 537.3,64 539,63.9 540.7,63.8 542.5,63.7 544.2,63.7 545.9,63.6 547.6,63.5 549.3,63.4 551,63.4 552.7,63.3 554.4,63.2 556.1,63.2 557.8,63.1 559.5,63 561.2,63 562.9,62.9 564.6,62.8 566.3,62.8 566.3,249.4 564.6,249.3 562.9,249.3 561.2,249.3 559.5,249.3 557.8,249.2 556.1,249.2 554.4,249.2 552.7,249.2 551,249.2 549.3,249.1 547.6,249.1 545.9,249.1 544.2,249.1 542.5,249 540.7,249 539,249 537.3,249 535.6,248.9 533.9,248.9 532.2,248.9 530.5,248.8 528.8,248.8 527.1,248.8 525.4,248.7 523.7,248.7 522,248.7 520.3,248.6 518.6,248.6 516.9,248.6 515.2,248.5 513.5,248.5 511.8,248.4 510.1,248.4 508.4,248.3 506.6,248.3 504.9,248.3 503.2,248.2 501.5,248.2 499.8,248.1 498.1,248.1 496.4,248 494.7,247.9 493,247.9 491.3,247.8 489.6,247.8 487.9,247.7 486.2,247.6 484.5,247.6 482.8,247.5 481.1,247.4 479.4,247.3 477.7,247.2 476,247.2 474.2,247.1 472.5,247 470.8,246.9 469.1,246.8 467.4,246.7 465.7,246.5 464,246.4 462.3,246.3 460.6,246.2 458.9,246 457.2,245.9 455.5,245.7 453.8,245.6 452.1,245.4 450.4,245.2 448.7,245 447,244.8 445.3,244.6 443.6,244.3 442.9,244.2 442.2,244.1 441.5,244 440.8,243.9 440.1,243.8 439.5,243.7 438.8,243.6 438.1,243.4 437.4,243.3 436.7,243.2 436.1,243 435.4,242.9 434.7,242.7 434,242.6 433.3,242.4 432.6,242.3 432,242.1 431.3,241.9 430.6,241.7 429.9,241.6 429.2,241.4 428.6,241.1 427.9,240.9 427.2,240.7 426.5,240.5 425.8,240.2 425.1,240 424.5,239.7 423.8,239.4 423.1,239.1 422.4,238.8 421.7,238.5 421.1,238.1 420.4,237.8 419.7,237.4 419,237 418.3,236.5 417.6,236.1 417,235.6 416.3,235.1 415.9,234.8 415.6,234.5 415.3,234.2 414.9,233.9 414.6,233.6 414.2,233.2 413.9,232.9 413.6,232.6 413.2,232.2 412.9,231.8 412.5,231.4 412.2,231 411.8,230.6 411.5,230.1 411.2,229.6 410.8,229.1 410.5,228.6 410.1,228.1 409.8,227.5 409.5,226.9 409.1,226.3 408.8,225.6 408.4,224.9 408.1,224.2 407.8,223.4 407.4,222.6 407.1,221.8 406.7,220.8 406.4,219.8 406.1,218.8 405.7,217.7 405.4,216.5 405,215.2 404.7,213.8 404.3,212.3 404,210.7 403.7,208.9 403.3,207 403,204.9 402.6,202.6" fill="#000000" fill-opacity="0.15"/>
<polyline points="396.2,251.3 396.5,153.8 396.8,186.3 397.2,202.55 397.5,212.3 397.9,186.3 398.2,195.59 398.5,202.55 398.9,207.97 399.2,192.8 399.6,198.12 399.9,202.55 400.3,206.3 400.6,195.59 400.9,199.3 401.3,202.55 401.6,205.42 402,197.13 402.3,199.98 402.6,202.55 403,204.71 403.3,206.68 403.7,208.48 404,210.13 404.3,211.65 404.7,213.06 405,214.36 405.4,215.58 405.7,216.71 406.1,217.77 406.4,218.77 406.7,219.7 407.1,220.58 407.4,221.41 407.8,222.19 408.1,222.93 408.4,223.64 408.8,224.3 409.1,224.94 409.5,225.54 409.8,226.12 410.1,226.67 410.5,227.19 410.8,227.7 411.2,228.18 411.5,228.64 411.8,229.08 412.2,229.51 412.5,229.91 412.9,230.3 413.2,230.68 413.6,231.04 413.9,231.39 414.2,231.73 414.6,232.06 414.9,232.37 415.3,232.68 415.6,232.97 415.9,233.25 416.3,233.53 417,234.05 417.6,234.54 418.3,235 419,235.44 419.7,235.85 420.4,236.24 421.1,236.61 421.7,236.96 422.4,237.29 423.1,237.61 423.8,237.91 424.5,238.19 425.1,238.47 425.8,238.73 426.5,238.98 427.2,239.22 427.9,239.44 428.6,239.66 429.2,239.87 429.9,240.08 430.6,240.27 431.3,240.46 432,240.64 432.6,240.81 433.3,240.98 434,241.14 434.7,241.29 435.4,241.44 436.1,241.59 436.7,241.73 437.4,241.86 438.1,242 438.8,242.12 439.5,242.25 440.1,242.36 440.8,242.48 441.5,242.59 442.2,242.7 442.9,242.81 443.6,242.91 445.3,243.16 447,243.38 448.7,243.6 450.4,243.8 452.1,243.99 453.8,244.16 455.5,244.33 457.2,244.49 458.9,244.64 460.6,244.78 462.3,244.91 464,245.04 465.7,245.16 467.4,245.28 469.1,245.39 470.8,245.49 472.5,245.59 474.2,245.69 476,245.78 477.7,245.87 479.4,245.95 481.1,246.04 482.8,246.11 484.5,246.19 486.2,246.26 487.9,246.33 489.6,246.4 491.3,246.46 493,246.52 494.7,246.58 496.4,246.64 498.1,246.7 499.8,246.75 501.5,246.8 503.2,246.86 504.9,246.91 506.6,246.95 508.4,247 510.1,247.04 511.8,247.09 513.5,247.13 515.2,247.17 516.9,247.21 518.6,247.25 520.3,247.29 522,247.33 523.7,247.36 525.4,247.4 527.1,247.43 528.8,247.46 530.5,247.5 532.2,247.53 533.9,247.56 535.6,247.59 537.3,247.62 539,247.65 540.7,247.67 542.5,247.7 544.2,247.73 545.9,247.75 547.6,247.78 549.3,247.8 551,247.83 552.7,247.85 554.4,247.87 556.1,247.9 557.8,247.92 559.5,247.94 561.2,247.96 562.9,247.98 564.6,248 566.3,248.02" fill="none" stroke="#DF536B" stroke-width="2.75" stroke-linecap="round" stroke-linejoin="round"/>
<polygon points="402.6,202.6 403,195.7 403.3,189.5 403.7,183.8 404,178.5 404.3,173.7 404.7,169.3 405,165.2 405.4,161.3 405.7,157.8 406.1,154.4 406.4,151.3 406.7,148.4 407.1,145.6 407.4,143 407.8,140.6 408.1,138.3 408.4,136.1 408.8,134 409.1,132 409.5,130.2 409.8,128.4 410.1,126.7 410.5,125.1 410.8,123.5 411.2,122 411.5,120.6 411.8,119.3 412.2,118 412.5,116.7 412.9,115.5 413.2,114.4 413.6,113.3 413.9,112.2 414.2,111.2 414.6,110.2 414.9,109.3 415.3,108.4 415.6,107.5 415.9,106.6 416.3,105.8 417,104.2 417.6,102.7 418.3,101.3 419,100 419.7,98.8 420.4,97.6 421.1,96.5 421.7,95.5 422.4,94.5 423.1,93.6 423.8,92.7 424.5,91.8 425.1,91 425.8,90.2 426.5,89.5 427.2,88.8 427.9,88.1 428.6,87.5 429.2,86.8 429.9,86.2 430.6,85.7 431.3,85.1 432,84.6 432.6,84.1 433.3,83.6 434,83.1 434.7,82.6 435.4,82.2 436.1,81.8 436.7,81.4 437.4,81 438.1,80.6 438.8,80.2 439.5,79.8 440.1,79.5 440.8,79.1 441.5,78.8 442.2,78.5 442.9,78.2 443.6,77.9 445.3,77.1 447,76.5 448.7,75.8 450.4,75.2 452.1,74.7 453.8,74.2 455.5,73.7 457.2,73.2 458.9,72.8 460.6,72.4 462.3,72 464,71.6 465.7,71.2 467.4,70.9 469.1,70.6 470.8,70.3 472.5,70 474.2,69.7 476,69.4 477.7,69.1 479.4,68.9 481.1,68.7 482.8,68.4 484.5,68.2 486.2,68 487.9,67.8 489.6,67.6 491.3,67.4 493,67.2 494.7,67 496.4,66.9 498.1,66.7 499.8,66.5 501.5,66.4 503.2,66.2 504.9,66.1 506.6,65.9 508.4,65.8 510.1,65.7 511.8,65.5 513.5,65.4 515.2,65.3 516.9,65.2 518.6,65.1 520.3,65 522,64.8 523.7,64.7 525.4,64.6 527.1,64.5 528.8,64.4 530.5,64.3 532.2,64.3 533.9,64.2 535.6,64.1 537.3,64 539,63.9 540.7,63.8 542.5,63.7 544.2,63.7 545.9,63.6 547.6,63.5 549.3,63.4 551,63.4 552.7,63.3 554.4,63.2 556.1,63.2 557.8,63.1 559.5,63 561.2,63 562.9,62.9 564.6,62.8 566.3,62.8 566.3,249.4 564.6,249.3 562.9,249.3 561.2,249.3 559.5,249.3 557.8,249.2 556.1,249.2 554.4,249.2 552.7,249.2 551,249.2 549.3,249.1 547.6,249.1 545.9,249.1 544.2,249.1 542.5,249 540.7,249 539,249 537.3,249 535.6,248.9 533.9,248.9 532.2,248.9 530.5,248.8 528.8,248.8 527.1,248.8 525.4,248.7 523.7,248.7 522,248.7 520.3,248.6 518.6,248.6 516.9,248.6 515.2,248.5 513.5,248.5 511.8,248.4 510.1,248.4 508.4,248.3 506.6,248.3 504.9,248.3 503.2,248.2 501.5,248.2 499.8,248.1 498.1,248.1 496.4,248 494.7,247.9 493,247.9 491.3,247.8 489.6,247.8 487.9,247.7 486.2,247.6 484.5,247.6 482.8,247.5 481.1,247.4 479.4,247.3 477.7,247.2 476,247.2 474.2,247.1 472.5,247 470.8,246.9 469.1,246.8 467.4,246.7 465.7,246.5 464,246.4 462.3,246.3 460.6,246.2 458.9,246 457.2,245.9 455.5,245.7 453.8,245.6 452.1,245.4 450.4,245.2 448.7,245 447,244.8 445.3,244.6 443.6,244.3 442.9,244.2 442.2,244.1 441.5,244 440.8,243.9 440.1,243.8 439.5,243.7 438.8,243.6 438.1,243.4 437.4,243.3 436.7,243.2 436.1,243 435.4,242.9 434.7,242.7 434,242.6 433.3,242.4 432.6,242.3 432,242.1 431.3,241.9 430.6,241.7 429.9,241.6 429.2,241.4 428.6,241.1 427.9,240.9 427.2,240.7 426.5,240.5 425.8,240.2 425.1,240 424.5,239.7 423.8,239.4 423.1,239.1 422.4,238.8 421.7,238.5 421.1,238.1 420.4,237.8 419.7,237.4 419,237 418.3,236.5 417.6,236.1 417,235.6 416.3,235.1 415.9,234.8 415.6,234.5 415.3,234.2 414.9,233.9 414.6,233.6 414.2,233.2 413.9,232.9 413.6,232.6 413.2,232.2 412.9,231.8 412.5,231.4 412.2,231 411.8,230.6 411.5,230.1 411.2,229.6 410.8,229.1 410.5,228.6 410.1,228.1 409.8,227.5 409.5,226.9 409.1,226.3 408.8,225.6 408.4,224.9 408.1,224.2 407.8,223.4 407.4,222.6 407.1,221.8 406.7,220.8 406.4,219.8 406.1,218.8 405.7,217.7 405.4,216.5 405,215.2 404.7,213.8 404.3,212.3 404,210.7 403.7,208.9 403.3,207 403,204.9 402.6,202.6" fill="#DF536B" fill-opacity="0.15"/>
<polyline points="396.2,251.3 396.5,251.3 396.8,186.3 397.2,202.55 397.5,212.3 397.9,218.8 398.2,195.59 398.5,202.55 398.9,207.97 399.2,212.3 399.6,198.12 399.9,202.55 400.3,206.3 400.6,209.51 400.9,199.3 401.3,202.55 401.6,205.42 402,207.97 402.3,199.98 402.6,202.55 403,204.81 403.3,206.87 403.7,208.75 404,210.48 404.3,212.07 404.7,213.53 405,214.89 405.4,216.16 405.7,217.34 406.1,218.44 406.4,219.47 406.7,220.44 407.1,221.34 407.4,222.2 407.8,223.01 408.1,223.77 408.4,224.5 408.8,225.18 409.1,225.83 409.5,226.45 409.8,227.04 410.1,227.61 410.5,228.14 410.8,228.65 411.2,229.14 411.5,229.61 411.8,230.06 412.2,230.49 412.5,230.91 412.9,231.31 413.2,231.69 413.6,232.05 413.9,232.41 414.2,232.75 414.6,233.08 414.9,233.4 415.3,233.7 415.6,234 415.9,234.28 416.3,234.56 417,235.09 417.6,235.58 418.3,236.05 419,236.48 419.7,236.9 420.4,237.29 421.1,237.66 421.7,238.01 422.4,238.34 423.1,238.66 423.8,238.96 424.5,239.25 425.1,239.52 425.8,239.78 426.5,240.03 427.2,240.27 427.9,240.5 428.6,240.72 429.2,240.93 429.9,241.13 430.6,241.32 431.3,241.51 432,241.69 432.6,241.86 433.3,242.03 434,242.19 434.7,242.35 435.4,242.5 436.1,242.64 436.7,242.78 437.4,242.92 438.1,243.05 438.8,243.18 439.5,243.3 440.1,243.42 440.8,243.53 441.5,243.65 442.2,243.75 442.9,243.86 443.6,243.96 445.3,244.21 447,244.44 448.7,244.65 450.4,244.85 452.1,245.04 453.8,245.22 455.5,245.38 457.2,245.54 458.9,245.69 460.6,245.83 462.3,245.97 464,246.09 465.7,246.21 467.4,246.33 469.1,246.44 470.8,246.55 472.5,246.65 474.2,246.74 476,246.83 477.7,246.92 479.4,247.01 481.1,247.09 482.8,247.17 484.5,247.24 486.2,247.31 487.9,247.38 489.6,247.45 491.3,247.51 493,247.58 494.7,247.64 496.4,247.69 498.1,247.75 499.8,247.81 501.5,247.86 503.2,247.91 504.9,247.96 506.6,248.01 508.4,248.05 510.1,248.1 511.8,248.14 513.5,248.18 515.2,248.22 516.9,248.26 518.6,248.3 520.3,248.34 522,248.38 523.7,248.41 525.4,248.45 527.1,248.48 528.8,248.52 530.5,248.55 532.2,248.58 533.9,248.61 535.6,248.64 537.3,248.67 539,248.7 540.7,248.73 542.5,248.75 544.2,248.78 545.9,248.81 547.6,248.83 549.3,248.86 551,248.88 552.7,248.9 554.4,248.93 556.1,248.95 557.8,248.97 559.5,248.99 561.2,249.02 562.9,249.04 564.6,249.06 566.3,249.08" fill="none" stroke="#61D04F" stroke-width="2.75" stroke-linecap="round" stroke-linejoin="round"/>
<polygon points="402.6,202.6 403,203.9 403.3,205.2 403.7,206.6 404,208 404.3,209.3 404.7,210.7 405,211.9 405.4,213.1 405.7,214.3 406.1,215.4 406.4,216.5 406.7,217.5 407.1,218.5 407.4,219.4 407.8,220.3 408.1,221.1 408.4,221.9 408.8,222.6 409.1,223.4 409.5,224.1 409.8,224.7 410.1,225.3 410.5,225.9 410.8,226.5 411.2,227.1 411.5,227.6 411.8,228.1 412.2,228.6 412.5,229 412.9,229.5 413.2,229.9 413.6,230.3 413.9,230.7 414.2,231.1 414.6,231.4 414.9,231.8 415.3,232.1 415.6,232.5 415.9,232.8 416.3,233.1 417,233.7 417.6,234.2 418.3,234.8 419,235.2 419.7,235.7 420.4,236.1 421.1,236.5 421.7,236.9 422.4,237.3 423.1,237.7 423.8,238 424.5,238.3 425.1,238.6 425.8,238.9 426.5,239.2 427.2,239.4 427.9,239.7 428.6,239.9 429.2,240.2 429.9,240.4 430.6,240.6 431.3,240.8 432,241 432.6,241.2 433.3,241.4 434,241.6 434.7,241.7 435.4,241.9 436.1,242 436.7,242.2 437.4,242.3 438.1,242.5 438.8,242.6 439.5,242.8 440.1,242.9 440.8,243 441.5,243.2 442.2,243.3 442.9,243.4 443.6,243.5 445.3,243.8 447,244 448.7,244.3 450.4,244.5 452.1,244.7 453.8,244.9 455.5,245.1 457.2,245.2 458.9,245.4 460.6,245.6 462.3,245.7 464,245.8 465.7,246 467.4,246.1 469.1,246.2 470.8,246.3 472.5,246.4 474.2,246.6 476,246.7 477.7,246.8 479.4,246.8 481.1,246.9 482.8,247 484.5,247.1 486.2,247.2 487.9,247.3 489.6,247.3 491.3,247.4 493,247.5 494.7,247.5 496.4,247.6 498.1,247.7 499.8,247.7 501.5,247.8 503.2,247.8 504.9,247.9 506.6,247.9 508.4,248 510.1,248 511.8,248.1 513.5,248.1 515.2,248.2 516.9,248.2 518.6,248.3 520.3,248.3 522,248.3 523.7,248.4 525.4,248.4 527.1,248.5 528.8,248.5 530.5,248.5 532.2,248.6 533.9,248.6 535.6,248.6 537.3,248.7 539,248.7 540.7,248.7 542.5,248.8 544.2,248.8 545.9,248.8 547.6,248.8 549.3,248.9 551,248.9 552.7,248.9 554.4,249 556.1,249 557.8,249 559.5,249 561.2,249 562.9,249.1 564.6,249.1 566.3,249.1 566.3,249.4 564.6,249.3 562.9,249.3 561.2,249.3 559.5,249.3 557.8,249.2 556.1,249.2 554.4,249.2 552.7,249.2 551,249.2 549.3,249.1 547.6,249.1 545.9,249.1 544.2,249.1 542.5,249 540.7,249 539,249 537.3,249 535.6,248.9 533.9,248.9 532.2,248.9 530.5,248.8 528.8,248.8 527.1,248.8 525.4,248.7 523.7,248.7 522,248.7 520.3,248.6 518.6,248.6 516.9,248.6 515.2,248.5 513.5,248.5 511.8,248.4 510.1,248.4 508.4,248.3 506.6,248.3 504.9,248.3 503.2,248.2 501.5,248.2 499.8,248.1 498.1,248.1 496.4,248 494.7,247.9 493,247.9 491.3,247.8 489.6,247.8 487.9,247.7 486.2,247.6 484.5,247.6 482.8,247.5 481.1,247.4 479.4,247.3 477.7,247.2 476,247.2 474.2,247.1 472.5,247 470.8,246.9 469.1,246.8 467.4,246.7 465.7,246.5 464,246.4 462.3,246.3 460.6,246.2 458.9,246 457.2,245.9 455.5,245.7 453.8,245.6 452.1,245.4 450.4,245.2 448.7,245 447,244.8 445.3,244.6 443.6,244.3 442.9,244.2 442.2,244.1 441.5,244 440.8,243.9 440.1,243.8 439.5,243.7 438.8,243.6 438.1,243.4 437.4,243.3 436.7,243.2 436.1,243 435.4,242.9 434.7,242.7 434,242.6 433.3,242.4 432.6,242.3 432,242.1 431.3,241.9 430.6,241.7 429.9,241.6 429.2,241.4 428.6,241.1 427.9,240.9 427.2,240.7 426.5,240.5 425.8,240.2 425.1,240 424.5,239.7 423.8,239.4 423.1,239.1 422.4,238.8 421.7,238.5 421.1,238.1 420.4,237.8 419.7,237.4 419,237 418.3,236.5 417.6,236.1 417,235.6 416.3,235.1 415.9,234.8 415.6,234.5 415.3,234.2 414.9,233.9 414.6,233.6 414.2,233.2 413.9,232.9 413.6,232.6 413.2,232.2 412.9,231.8 412.5,231.4 412.2,231 411.8,230.6 411.5,230.1 411.2,229.6 410.8,229.1 410.5,228.6 410.1,228.1 409.8,227.5 409.5,226.9 409.1,226.3 408.8,225.6 408.4,224.9 408.1,224.2 407.8,223.4 407.4,222.6 407.1,221.8 406.7,220.8 406.4,219.8 406.1,218.8 405.7,217.7 405.4,216.5 405,215.2 404.7,213.8 404.3,212.3 404,210.7 403.7,208.9 403.3,207 403,204.9 402.6,202.6" fill="#61D04F" fill-opacity="0.15"/>
<polyline points="396.2,251.3 396.5,251.3 396.8,251.3 397.2,202.55 397.5,212.3 397.9,218.8 398.2,223.44 398.5,202.55 398.9,207.97 399.2,212.3 399.6,215.85 399.9,202.55 400.3,206.3 400.6,209.51 400.9,212.3 401.3,202.55 401.6,205.42 402,207.97 402.3,210.25 402.6,202.55 403,204.84 403.3,206.91 403.7,208.81 404,210.55 404.3,212.16 404.7,213.64 405,215.01 405.4,216.29 405.7,217.48 406.1,218.59 406.4,219.62 406.7,220.6 407.1,221.51 407.4,222.38 407.8,223.19 408.1,223.96 408.4,224.69 408.8,225.38 409.1,226.03 409.5,226.66 409.8,227.25 410.1,227.81 410.5,228.35 410.8,228.87 411.2,229.36 411.5,229.83 411.8,230.28 412.2,230.71 412.5,231.13 412.9,231.53 413.2,231.91 413.6,232.28 413.9,232.63 414.2,232.98 414.6,233.31 414.9,233.62 415.3,233.93 415.6,234.23 415.9,234.51 416.3,234.79 417,235.32 417.6,235.81 418.3,236.28 419,236.72 419.7,237.13 420.4,237.52 421.1,237.89 421.7,238.24 422.4,238.57 423.1,238.89 423.8,239.19 424.5,239.48 425.1,239.75 425.8,240.01 426.5,240.26 427.2,240.5 427.9,240.73 428.6,240.95 429.2,241.16 429.9,241.36 430.6,241.56 431.3,241.74 432,241.92 432.6,242.1 433.3,242.26 434,242.42 434.7,242.58 435.4,242.73 436.1,242.88 436.7,243.02 437.4,243.15 438.1,243.28 438.8,243.41 439.5,243.53 440.1,243.65 440.8,243.77 441.5,243.88 442.2,243.99 442.9,244.09 443.6,244.2 445.3,244.44 447,244.67 448.7,244.88 450.4,245.08 452.1,245.27 453.8,245.45 455.5,245.62 457.2,245.78 458.9,245.92 460.6,246.07 462.3,246.2 464,246.33 465.7,246.45 467.4,246.56 469.1,246.67 470.8,246.78 472.5,246.88 474.2,246.98 476,247.07 477.7,247.16 479.4,247.24 481.1,247.32 482.8,247.4 484.5,247.48 486.2,247.55 487.9,247.62 489.6,247.68 491.3,247.75 493,247.81 494.7,247.87 496.4,247.93 498.1,247.99 499.8,248.04 501.5,248.09 503.2,248.14 504.9,248.19 506.6,248.24 508.4,248.29 510.1,248.33 511.8,248.38 513.5,248.42 515.2,248.46 516.9,248.5 518.6,248.54 520.3,248.58 522,248.61 523.7,248.65 525.4,248.68 527.1,248.72 528.8,248.75 530.5,248.78 532.2,248.81 533.9,248.84 535.6,248.87 537.3,248.9 539,248.93 540.7,248.96 542.5,248.99 544.2,249.01 545.9,249.04 547.6,249.07 549.3,249.09 551,249.11 552.7,249.14 554.4,249.16 556.1,249.18 557.8,249.21 559.5,249.23 561.2,249.25 562.9,249.27 564.6,249.29 566.3,249.31" fill="none" stroke="#2297E6" stroke-width="2.75" stroke-linecap="round" stroke-linejoin="round"/>
<polygon points="402.6,202.6 403,199 403.3,196.8 403.7,195.5 404,195 404.3,195 404.7,195.5 405,196.1 405.4,197 405.7,198 406.1,199.1 406.4,200.3 406.7,201.4 407.1,202.6 407.4,203.8 407.8,204.9 408.1,206 408.4,207.1 408.8,208.2 409.1,209.2 409.5,210.2 409.8,211.1 410.1,212 410.5,212.9 410.8,213.8 411.2,214.6 411.5,215.3 411.8,216.1 412.2,216.8 412.5,217.5 412.9,218.2 413.2,218.8 413.6,219.4 413.9,220 414.2,220.6 414.6,221.2 414.9,221.7 415.3,222.2 415.6,222.7 415.9,223.2 416.3,223.7 417,224.6 417.6,225.4 418.3,226.2 419,226.9 419.7,227.6 420.4,228.3 421.1,228.9 421.7,229.5 422.4,230.1 423.1,230.6 423.8,231.1 424.5,231.6 425.1,232 425.8,232.5 426.5,232.9 427.2,233.3 427.9,233.7 428.6,234 429.2,234.4 429.9,234.7 430.6,235.1 431.3,235.4 432,235.7 432.6,236 433.3,236.2 434,236.5 434.7,236.8 435.4,237 436.1,237.3 436.7,237.5 437.4,237.7 438.1,237.9 438.8,238.1 439.5,238.4 440.1,238.6 440.8,238.7 441.5,238.9 442.2,239.1 442.9,239.3 443.6,239.5 445.3,239.9 447,240.3 448.7,240.6 450.4,240.9 452.1,241.3 453.8,241.6 455.5,241.8 457.2,242.1 458.9,242.3 460.6,242.6 462.3,242.8 464,243 465.7,243.2 467.4,243.4 469.1,243.6 470.8,243.8 472.5,243.9 474.2,244.1 476,244.2 477.7,244.4 479.4,244.5 481.1,244.7 482.8,244.8 484.5,244.9 486.2,245 487.9,245.2 489.6,245.3 491.3,245.4 493,245.5 494.7,245.6 496.4,245.7 498.1,245.8 499.8,245.9 501.5,246 503.2,246 504.9,246.1 506.6,246.2 508.4,246.3 510.1,246.4 511.8,246.4 513.5,246.5 515.2,246.6 516.9,246.6 518.6,246.7 520.3,246.8 522,246.8 523.7,246.9 525.4,246.9 527.1,247 528.8,247.1 530.5,247.1 532.2,247.2 533.9,247.2 535.6,247.3 537.3,247.3 539,247.4 540.7,247.4 542.5,247.4 544.2,247.5 545.9,247.5 547.6,247.6 549.3,247.6 551,247.7 552.7,247.7 554.4,247.7 556.1,247.8 557.8,247.8 559.5,247.8 561.2,247.9 562.9,247.9 564.6,248 566.3,248 566.3,249.4 564.6,249.3 562.9,249.3 561.2,249.3 559.5,249.3 557.8,249.2 556.1,249.2 554.4,249.2 552.7,249.2 551,249.2 549.3,249.1 547.6,249.1 545.9,249.1 544.2,249.1 542.5,249 540.7,249 539,249 537.3,249 535.6,248.9 533.9,248.9 532.2,248.9 530.5,248.8 528.8,248.8 527.1,248.8 525.4,248.7 523.7,248.7 522,248.7 520.3,248.6 518.6,248.6 516.9,248.6 515.2,248.5 513.5,248.5 511.8,248.4 510.1,248.4 508.4,248.3 506.6,248.3 504.9,248.3 503.2,248.2 501.5,248.2 499.8,248.1 498.1,248.1 496.4,248 494.7,247.9 493,247.9 491.3,247.8 489.6,247.8 487.9,247.7 486.2,247.6 484.5,247.6 482.8,247.5 481.1,247.4 479.4,247.3 477.7,247.2 476,247.2 474.2,247.1 472.5,247 470.8,246.9 469.1,246.8 467.4,246.7 465.7,246.5 464,246.4 462.3,246.3 460.6,246.2 458.9,246 457.2,245.9 455.5,245.7 453.8,245.6 452.1,245.4 450.4,245.2 448.7,245 447,244.8 445.3,244.6 443.6,244.3 442.9,244.2 442.2,244.1 441.5,244 440.8,243.9 440.1,243.8 439.5,243.7 438.8,243.6 438.1,243.4 437.4,243.3 436.7,243.2 436.1,243 435.4,242.9 434.7,242.7 434,242.6 433.3,242.4 432.6,242.3 432,242.1 431.3,241.9 430.6,241.7 429.9,241.6 429.2,241.4 428.6,241.1 427.9,240.9 427.2,240.7 426.5,240.5 425.8,240.2 425.1,240 424.5,239.7 423.8,239.4 423.1,239.1 422.4,238.8 421.7,238.5 421.1,238.1 420.4,237.8 419.7,237.4 419,237 418.3,236.5 417.6,236.1 417,235.6 416.3,235.1 415.9,234.8 415.6,234.5 415.3,234.2 414.9,233.9 414.6,233.6 414.2,233.2 413.9,232.9 413.6,232.6 413.2,232.2 412.9,231.8 412.5,231.4 412.2,231 411.8,230.6 411.5,230.1 411.2,229.6 410.8,229.1 410.5,228.6 410.1,228.1 409.8,227.5 409.5,226.9 409.1,226.3 408.8,225.6 408.4,224.9 408.1,224.2 407.8,223.4 407.4,222.6 407.1,221.8 406.7,220.8 406.4,219.8 406.1,218.8 405.7,217.7 405.4,216.5 405,215.2 404.7,213.8 404.3,212.3 404,210.7 403.7,208.9 403.3,207 403,204.9 402.6,202.6" fill="#2297E6" fill-opacity="0.15"/>
</g>
<rect x="389" y="48.5" width="184.1" height="210.6" fill="none" stroke="#000" stroke-width="1.75" stroke-linejoin="round"/>
<line x1="389" y1="251.3" x2="378.2" y2="251.3" class="tkl"/>
<text x="367.8" y="257.4" text-anchor="end" class="tk">0.0</text>
<line x1="389" y1="212.3" x2="378.2" y2="212.3" class="tkl"/>
<text x="367.8" y="218.4" text-anchor="end" class="tk">0.2</text>
<line x1="389" y1="173.3" x2="378.2" y2="173.3" class="tkl"/>
<text x="367.8" y="179.4" text-anchor="end" class="tk">0.4</text>
<line x1="389" y1="134.3" x2="378.2" y2="134.3" class="tkl"/>
<text x="367.8" y="140.4" text-anchor="end" class="tk">0.6</text>
<line x1="389" y1="95.3" x2="378.2" y2="95.3" class="tkl"/>
<text x="367.8" y="101.4" text-anchor="end" class="tk">0.8</text>
<line x1="389" y1="56.3" x2="378.2" y2="56.3" class="tkl"/>
<text x="367.8" y="62.4" text-anchor="end" class="tk">1.0</text>
<line x1="395.8" y1="259.1" x2="395.8" y2="269.9" class="tkl"/>
<text transform="translate(402.3,281.1) rotate(-90)" text-anchor="end" class="tk">0</text>
<line x1="429.9" y1="259.1" x2="429.9" y2="269.9" class="tkl"/>
<text transform="translate(436.4,281.1) rotate(-90)" text-anchor="end" class="tk">100</text>
<line x1="464" y1="259.1" x2="464" y2="269.9" class="tkl"/>
<text transform="translate(470.5,281.1) rotate(-90)" text-anchor="end" class="tk">200</text>
<line x1="498.1" y1="259.1" x2="498.1" y2="269.9" class="tkl"/>
<text transform="translate(504.6,281.1) rotate(-90)" text-anchor="end" class="tk">300</text>
<line x1="532.2" y1="259.1" x2="532.2" y2="269.9" class="tkl"/>
<text transform="translate(538.7,281.1) rotate(-90)" text-anchor="end" class="tk">400</text>
<line x1="566.3" y1="259.1" x2="566.3" y2="269.9" class="tkl"/>
<text transform="translate(572.8,281.1) rotate(-90)" text-anchor="end" class="tk">500</text>
<text x="481.1" y="34.5" text-anchor="middle" class="ti">TS</text>
<text x="481.1" y="341.3" text-anchor="middle" class="ax">Patients recruited</text>
<text transform="translate(319.6,153.8) rotate(-90)" text-anchor="middle" class="ax">Allocation ratio</text>
</g>
<g>
<clipPath id="cp2"><rect x="681" y="48.5" width="184.1" height="210.6"/></clipPath>
<g clip-path="url(#cp2)">
<polyline points="688.2,56.3 688.5,153.8 688.8,186.3 689.2,202.55 689.5,173.3 689.9,186.3 690.2,195.59 690.5,202.55 690.9,186.3 691.2,192.8 691.6,198.12 691.9,202.55 692.3,191.3 692.6,195.59 692.9,199.3 693.3,202.55 693.6,193.95 694,197.13 694.3,199.98 694.6,202.55 695,195.72 695.3,189.5 695.7,183.8 696,178.58 696.3,173.76 696.7,169.31 697,165.18 697.4,161.34 697.7,157.76 698.1,154.42 698.4,151.28 698.7,148.35 699.1,145.58 699.4,142.98 699.8,140.52 700.1,138.2 700.4,136 700.8,133.92 701.1,131.94 701.5,130.06 701.8,128.27 702.1,126.56 702.5,124.94 702.8,123.38 703.2,121.9 703.5,120.48 703.8,119.11 704.2,117.81 704.5,116.56 704.9,115.36 705.2,114.2 705.6,113.09 705.9,112.02 706.2,110.99 706.6,110 706.9,109.04 707.3,108.12 707.6,107.22 707.9,106.36 708.3,105.53 709,103.94 709.6,102.45 710.3,101.06 711,99.74 711.7,98.5 712.4,97.33 713.1,96.22 713.7,95.17 714.4,94.17 715.1,93.23 715.8,92.33 716.5,91.47 717.1,90.65 717.8,89.87 718.5,89.12 719.2,88.41 719.9,87.73 720.6,87.07 721.2,86.45 721.9,85.84 722.6,85.26 723.3,84.71 724,84.17 724.6,83.65 725.3,83.16 726,82.68 726.7,82.21 727.4,81.77 728.1,81.34 728.7,80.92 729.4,80.52 730.1,80.12 730.8,79.75 731.5,79.38 732.2,79.02 732.8,78.68 733.5,78.35 734.2,78.02 734.9,77.71 735.6,77.4 737.3,76.67 739,75.99 740.7,75.36 742.4,74.76 744.1,74.2 745.8,73.68 747.5,73.18 749.2,72.71 750.9,72.27 752.6,71.85 754.3,71.45 756,71.07 757.7,70.71 759.4,70.37 761.1,70.04 762.8,69.73 764.5,69.43 766.2,69.14 768,68.87 769.7,68.61 771.4,68.36 773.1,68.12 774.8,67.89 776.5,67.66 778.2,67.45 779.9,67.24 781.6,67.04 783.3,66.85 785,66.67 786.7,66.49 788.4,66.31 790.1,66.15 791.8,65.99 793.5,65.83 795.2,65.68 796.9,65.53 798.6,65.39 800.4,65.25 802.1,65.12 803.8,64.99 805.5,64.86 807.2,64.74 808.9,64.62 810.6,64.51 812.3,64.39 814,64.28 815.7,64.18 817.4,64.07 819.1,63.97 820.8,63.88 822.5,63.78 824.2,63.69 825.9,63.59 827.6,63.51 829.3,63.42 831,63.33 832.7,63.25 834.5,63.17 836.2,63.09 837.9,63.01 839.6,62.94 841.3,62.87 843,62.79 844.7,62.72 846.4,62.65 848.1,62.59 849.8,62.52 851.5,62.45 853.2,62.39 854.9,62.33 856.6,62.27 858.3,62.21" fill="none" stroke="#000000" stroke-width="2.75" stroke-linecap="round" stroke-linejoin="round"/>
<polygon points="694.6,202.6 695,195.7 695.3,189.5 695.7,183.8 696,178.6 696.3,173.8 696.7,169.3 697,165.2 697.4,161.3 697.7,157.8 698.1,154.4 698.4,151.3 698.7,148.3 699.1,145.6 699.4,143 699.8,140.5 700.1,138.2 700.4,136 700.8,133.9 701.1,131.9 701.5,130.1 701.8,128.3 702.1,126.6 702.5,124.9 702.8,123.4 703.2,121.9 703.5,120.5 703.8,119.1 704.2,117.8 704.5,116.6 704.9,115.4 705.2,114.2 705.6,113.1 705.9,112 706.2,111 706.6,110 706.9,109 707.3,108.1 707.6,107.2 707.9,106.4 708.3,105.5 709,103.9 709.6,102.5 710.3,101.1 711,99.7 711.7,98.5 712.4,97.3 713.1,96.2 713.7,95.2 714.4,94.2 715.1,93.2 715.8,92.3 716.5,91.5 717.1,90.7 717.8,89.9 718.5,89.1 719.2,88.4 719.9,87.7 720.6,87.1 721.2,86.4 721.9,85.8 722.6,85.3 723.3,84.7 724,84.2 724.6,83.7 725.3,83.2 726,82.7 726.7,82.2 727.4,81.8 728.1,81.3 728.7,80.9 729.4,80.5 730.1,80.1 730.8,79.7 731.5,79.4 732.2,79 732.8,78.7 733.5,78.3 734.2,78 734.9,77.7 735.6,77.4 737.3,76.7 739,76 740.7,75.4 742.4,74.8 744.1,74.2 745.8,73.7 747.5,73.2 749.2,72.7 750.9,72.3 752.6,71.8 754.3,71.4 756,71.1 757.7,70.7 759.4,70.4 761.1,70 762.8,69.7 764.5,69.4 766.2,69.1 768,68.9 769.7,68.6 771.4,68.4 773.1,68.1 774.8,67.9 776.5,67.7 778.2,67.4 779.9,67.2 781.6,67 783.3,66.9 785,66.7 786.7,66.5 788.4,66.3 790.1,66.1 791.8,66 793.5,65.8 795.2,65.7 796.9,65.5 798.6,65.4 800.4,65.3 802.1,65.1 803.8,65 805.5,64.9 807.2,64.7 808.9,64.6 810.6,64.5 812.3,64.4 814,64.3 815.7,64.2 817.4,64.1 819.1,64 820.8,63.9 822.5,63.8 824.2,63.7 825.9,63.6 827.6,63.5 829.3,63.4 831,63.3 832.7,63.3 834.5,63.2 836.2,63.1 837.9,63 839.6,62.9 841.3,62.9 843,62.8 844.7,62.7 846.4,62.7 848.1,62.6 849.8,62.5 851.5,62.5 853.2,62.4 854.9,62.3 856.6,62.3 858.3,62.2 858.3,148.5 856.6,149.5 854.9,150.5 853.2,151.5 851.5,152.6 849.8,153.6 848.1,154.7 846.4,155.8 844.7,156.9 843,158.1 841.3,159.3 839.6,160.5 837.9,161.7 836.2,163 834.5,164.3 832.7,165.6 831,166.9 829.3,168.3 827.6,169.7 825.9,171.2 824.2,172.7 822.5,174.2 820.8,175.8 819.1,177.4 817.4,179 815.7,180.7 814,182.5 812.3,184.3 810.6,186.1 808.9,188 807.2,189.9 805.5,191.9 803.8,194 802.1,196.1 800.4,198.3 798.6,200.5 796.9,202.9 795.2,205.2 793.5,207.7 791.8,210.3 790.1,212.9 788.4,215.6 786.7,218.5 785,221.4 783.3,224.4 781.6,227.5 779.9,230.8 778.2,234.2 776.5,237.7 774.8,241.3 773.1,245.1 771.4,247.3 769.7,247.2 768,247.2 766.2,247.1 764.5,247 762.8,246.9 761.1,246.8 759.4,246.7 757.7,246.5 756,246.4 754.3,246.3 752.6,246.2 750.9,246 749.2,245.9 747.5,245.7 745.8,245.6 744.1,245.4 742.4,245.2 740.7,245 739,244.8 737.3,244.6 735.6,244.3 734.9,244.2 734.2,244.1 733.5,244 732.8,243.9 732.2,243.8 731.5,243.7 730.8,243.6 730.1,243.4 729.4,243.3 728.7,243.2 728.1,243 727.4,242.9 726.7,242.7 726,242.6 725.3,242.4 724.6,242.3 724,242.1 723.3,241.9 722.6,241.7 721.9,241.6 721.2,241.4 720.6,241.1 719.9,240.9 719.2,240.7 718.5,240.5 717.8,240.2 717.1,240 716.5,239.7 715.8,239.4 715.1,239.1 714.4,238.8 713.7,238.5 713.1,238.1 712.4,237.8 711.7,237.4 711,237 710.3,236.5 709.6,236.1 709,235.6 708.3,235.1 707.9,234.8 707.6,234.5 707.3,234.2 706.9,233.9 706.6,233.6 706.2,233.2 705.9,232.9 705.6,232.6 705.2,232.2 704.9,231.8 704.5,231.4 704.2,231 703.8,230.6 703.5,230.1 703.2,229.6 702.8,229.1 702.5,228.6 702.1,228.1 701.8,227.5 701.5,226.9 701.1,226.3 700.8,225.6 700.4,224.9 700.1,224.2 699.8,223.4 699.4,222.6 699.1,221.8 698.7,220.8 698.4,219.8 698.1,218.8 697.7,217.7 697.4,216.5 697,215.2 696.7,213.8 696.3,212.3 696,210.7 695.7,208.9 695.3,207 695,204.9 694.6,202.6" fill="#000000" fill-opacity="0.15"/>
<polyline points="688.2,251.3 688.5,153.8 688.8,186.3 689.2,202.55 689.5,212.3 689.9,186.3 690.2,195.59 690.5,202.55 690.9,207.97 691.2,192.8 691.6,198.12 691.9,202.55 692.3,206.3 692.6,195.59 692.9,199.3 693.3,202.55 693.6,205.42 694,197.13 694.3,199.98 694.6,202.55 695,204.71 695.3,206.68 695.7,208.48 696,210.13 696.3,211.65 696.7,213.06 697,214.36 697.4,215.58 697.7,216.71 698.1,217.77 698.4,218.77 698.7,219.7 699.1,220.58 699.4,221.41 699.8,222.19 700.1,222.93 700.4,223.64 700.8,224.3 701.1,224.94 701.5,225.54 701.8,226.12 702.1,226.67 702.5,227.19 702.8,227.7 703.2,228.18 703.5,228.64 703.8,229.08 704.2,229.51 704.5,229.91 704.9,230.3 705.2,230.68 705.6,231.04 705.9,231.39 706.2,231.73 706.6,232.06 706.9,232.37 707.3,232.68 707.6,232.97 707.9,233.25 708.3,233.53 709,234.05 709.6,234.54 710.3,235 711,235.44 711.7,235.85 712.4,236.24 713.1,236.61 713.7,236.96 714.4,237.29 715.1,237.61 715.8,237.91 716.5,238.19 717.1,238.47 717.8,238.73 718.5,238.98 719.2,239.22 719.9,239.44 720.6,239.66 721.2,239.87 721.9,240.08 722.6,240.27 723.3,240.46 724,240.64 724.6,240.81 725.3,240.98 726,241.14 726.7,241.29 727.4,241.44 728.1,241.59 728.7,241.73 729.4,241.86 730.1,242 730.8,242.12 731.5,242.25 732.2,242.36 732.8,242.48 733.5,242.59 734.2,242.7 734.9,242.81 735.6,242.91 737.3,243.16 739,243.38 740.7,243.6 742.4,243.8 744.1,243.99 745.8,244.16 747.5,244.33 749.2,244.49 750.9,244.64 752.6,244.78 754.3,244.91 756,245.04 757.7,245.16 759.4,245.28 761.1,245.39 762.8,245.49 764.5,245.59 766.2,245.69 768,245.78 769.7,245.87 771.4,245.95 773.1,246.04 774.8,246.11 776.5,246.19 778.2,246.26 779.9,246.33 781.6,246.4 783.3,246.46 785,246.52 786.7,246.58 788.4,246.64 790.1,246.7 791.8,246.75 793.5,246.8 795.2,246.86 796.9,246.91 798.6,246.95 800.4,247 802.1,247.04 803.8,247.09 805.5,247.13 807.2,247.17 808.9,247.21 810.6,247.25 812.3,247.29 814,247.33 815.7,247.36 817.4,247.4 819.1,247.43 820.8,247.46 822.5,247.5 824.2,247.53 825.9,247.56 827.6,247.59 829.3,247.62 831,247.65 832.7,247.67 834.5,247.7 836.2,247.73 837.9,247.75 839.6,247.78 841.3,247.8 843,247.83 844.7,247.85 846.4,247.87 848.1,247.9 849.8,247.92 851.5,247.94 853.2,247.96 854.9,247.98 856.6,248 858.3,248.02" fill="none" stroke="#DF536B" stroke-width="2.75" stroke-linecap="round" stroke-linejoin="round"/>
<polygon points="694.6,202.6 695,195.7 695.3,189.5 695.7,183.8 696,178.6 696.3,173.8 696.7,169.3 697,165.2 697.4,161.3 697.7,157.8 698.1,154.4 698.4,151.3 698.7,148.3 699.1,145.6 699.4,143 699.8,140.5 700.1,138.2 700.4,136 700.8,133.9 701.1,131.9 701.5,130.1 701.8,128.3 702.1,126.6 702.5,124.9 702.8,123.4 703.2,121.9 703.5,120.5 703.8,119.1 704.2,117.8 704.5,116.6 704.9,115.4 705.2,114.2 705.6,113.1 705.9,112 706.2,111 706.6,110 706.9,109 707.3,108.1 707.6,107.2 707.9,106.4 708.3,105.5 709,103.9 709.6,102.5 710.3,101.1 711,99.7 711.7,98.5 712.4,97.3 713.1,96.2 713.7,95.2 714.4,94.2 715.1,93.2 715.8,92.3 716.5,91.5 717.1,90.7 717.8,89.9 718.5,89.1 719.2,88.4 719.9,87.7 720.6,87.1 721.2,86.4 721.9,85.8 722.6,85.3 723.3,84.7 724,84.2 724.6,83.7 725.3,83.2 726,82.7 726.7,82.2 727.4,81.8 728.1,81.3 728.7,80.9 729.4,80.5 730.1,80.1 730.8,79.7 731.5,79.4 732.2,79 732.8,78.7 733.5,78.3 734.2,78 734.9,77.7 735.6,77.4 737.3,76.7 739,76 740.7,75.4 742.4,74.8 744.1,74.2 745.8,73.7 747.5,73.2 749.2,72.7 750.9,72.3 752.6,71.8 754.3,71.4 756,71.1 757.7,70.7 759.4,70.4 761.1,70 762.8,69.7 764.5,69.4 766.2,69.1 768,68.9 769.7,68.6 771.4,69.7 773.1,73.3 774.8,76.7 776.5,79.9 778.2,83.1 779.9,86.1 781.6,89 783.3,91.8 785,94.5 786.7,97.1 788.4,99.7 790.1,102.1 791.8,104.5 793.5,106.8 795.2,109 796.9,111.1 798.6,113.2 800.4,115.2 802.1,117.2 803.8,119.1 805.5,120.9 807.2,122.7 808.9,124.5 810.6,126.2 812.3,127.8 814,129.4 815.7,131 817.4,132.5 819.1,134 820.8,135.4 822.5,136.8 824.2,138.2 825.9,139.5 827.6,140.8 829.3,142.1 831,143.4 832.7,144.6 834.5,145.8 836.2,146.9 837.9,148 839.6,149.1 841.3,150.2 843,151.3 844.7,152.3 846.4,153.3 848.1,154.3 849.8,155.3 851.5,156.2 853.2,157.2 854.9,158.1 856.6,159 858.3,159.8 858.3,249.4 856.6,249.3 854.9,249.3 853.2,249.3 851.5,249.3 849.8,249.2 848.1,249.2 846.4,249.2 844.7,249.2 843,249.2 841.3,249.1 839.6,249.1 837.9,249.1 836.2,249.1 834.5,249 832.7,249 831,249 829.3,249 827.6,248.9 825.9,248.9 824.2,248.9 822.5,248.8 820.8,248.8 819.1,248.8 817.4,248.7 815.7,248.7 814,248.7 812.3,248.6 810.6,248.6 808.9,248.6 807.2,248.5 805.5,248.5 803.8,248.4 802.1,248.4 800.4,248.3 798.6,248.3 796.9,248.3 795.2,248.2 793.5,248.2 791.8,248.1 790.1,248.1 788.4,248 786.7,247.9 785,247.9 783.3,247.8 781.6,247.8 779.9,247.7 778.2,247.6 776.5,247.6 774.8,247.5 773.1,247.4 771.4,247.3 769.7,247.2 768,247.2 766.2,247.1 764.5,247 762.8,246.9 761.1,246.8 759.4,246.7 757.7,246.5 756,246.4 754.3,246.3 752.6,246.2 750.9,246 749.2,245.9 747.5,245.7 745.8,245.6 744.1,245.4 742.4,245.2 740.7,245 739,244.8 737.3,244.6 735.6,244.3 734.9,244.2 734.2,244.1 733.5,244 732.8,243.9 732.2,243.8 731.5,243.7 730.8,243.6 730.1,243.4 729.4,243.3 728.7,243.2 728.1,243 727.4,242.9 726.7,242.7 726,242.6 725.3,242.4 724.6,242.3 724,242.1 723.3,241.9 722.6,241.7 721.9,241.6 721.2,241.4 720.6,241.1 719.9,240.9 719.2,240.7 718.5,240.5 717.8,240.2 717.1,240 716.5,239.7 715.8,239.4 715.1,239.1 714.4,238.8 713.7,238.5 713.1,238.1 712.4,237.8 711.7,237.4 711,237 710.3,236.5 709.6,236.1 709,235.6 708.3,235.1 707.9,234.8 707.6,234.5 707.3,234.2 706.9,233.9 706.6,233.6 706.2,233.2 705.9,232.9 705.6,232.6 705.2,232.2 704.9,231.8 704.5,231.4 704.2,231 703.8,230.6 703.5,230.1 703.2,229.6 702.8,229.1 702.5,228.6 702.1,228.1 701.8,227.5 701.5,226.9 701.1,226.3 700.8,225.6 700.4,224.9 700.1,224.2 699.8,223.4 699.4,222.6 699.1,221.8 698.7,220.8 698.4,219.8 698.1,218.8 697.7,217.7 697.4,216.5 697,215.2 696.7,213.8 696.3,212.3 696,210.7 695.7,208.9 695.3,207 695,204.9 694.6,202.6" fill="#DF536B" fill-opacity="0.15"/>
<polyline points="688.2,251.3 688.5,251.3 688.8,186.3 689.2,202.55 689.5,212.3 689.9,218.8 690.2,195.59 690.5,202.55 690.9,207.97 691.2,212.3 691.6,198.12 691.9,202.55 692.3,206.3 692.6,209.51 692.9,199.3 693.3,202.55 693.6,205.42 694,207.97 694.3,199.98 694.6,202.55 695,204.81 695.3,206.87 695.7,208.75 696,210.48 696.3,212.07 696.7,213.53 697,214.89 697.4,216.16 697.7,217.34 698.1,218.44 698.4,219.47 698.7,220.44 699.1,221.34 699.4,222.2 699.8,223.01 700.1,223.77 700.4,224.5 700.8,225.18 701.1,225.83 701.5,226.45 701.8,227.04 702.1,227.61 702.5,228.14 702.8,228.65 703.2,229.14 703.5,229.61 703.8,230.06 704.2,230.49 704.5,230.91 704.9,231.31 705.2,231.69 705.6,232.05 705.9,232.41 706.2,232.75 706.6,233.08 706.9,233.4 707.3,233.7 707.6,234 707.9,234.28 708.3,234.56 709,235.09 709.6,235.58 710.3,236.05 711,236.48 711.7,236.9 712.4,237.29 713.1,237.66 713.7,238.01 714.4,238.34 715.1,238.66 715.8,238.96 716.5,239.25 717.1,239.52 717.8,239.78 718.5,240.03 719.2,240.27 719.9,240.5 720.6,240.72 721.2,240.93 721.9,241.13 722.6,241.32 723.3,241.51 724,241.69 724.6,241.86 725.3,242.03 726,242.19 726.7,242.35 727.4,242.5 728.1,242.64 728.7,242.78 729.4,242.92 730.1,243.05 730.8,243.18 731.5,243.3 732.2,243.42 732.8,243.53 733.5,243.65 734.2,243.75 734.9,243.86 735.6,243.96 737.3,244.21 739,244.44 740.7,244.65 742.4,244.85 744.1,245.04 745.8,245.22 747.5,245.38 749.2,245.54 750.9,245.69 752.6,245.83 754.3,245.97 756,246.09 757.7,246.21 759.4,246.33 761.1,246.44 762.8,246.55 764.5,246.65 766.2,246.74 768,246.83 769.7,246.92 771.4,247.01 773.1,247.09 774.8,247.17 776.5,247.24 778.2,247.31 779.9,247.38 781.6,247.45 783.3,247.51 785,247.58 786.7,247.64 788.4,247.69 790.1,247.75 791.8,247.81 793.5,247.86 795.2,247.91 796.9,247.96 798.6,248.01 800.4,248.05 802.1,248.1 803.8,248.14 805.5,248.18 807.2,248.22 808.9,248.26 810.6,248.3 812.3,248.34 814,248.38 815.7,248.41 817.4,248.45 819.1,248.48 820.8,248.52 822.5,248.55 824.2,248.58 825.9,248.61 827.6,248.64 829.3,248.67 831,248.7 832.7,248.73 834.5,248.75 836.2,248.78 837.9,248.81 839.6,248.83 841.3,248.86 843,248.88 844.7,248.9 846.4,248.93 848.1,248.95 849.8,248.97 851.5,248.99 853.2,249.02 854.9,249.04 856.6,249.06 858.3,249.08" fill="none" stroke="#61D04F" stroke-width="2.75" stroke-linecap="round" stroke-linejoin="round"/>
<polygon points="694.6,202.6 695,203.9 695.3,205.2 695.7,206.6 696,208 696.3,209.3 696.7,210.7 697,211.9 697.4,213.1 697.7,214.3 698.1,215.4 698.4,216.5 698.7,217.5 699.1,218.5 699.4,219.4 699.8,220.3 700.1,221.1 700.4,221.9 700.8,222.6 701.1,223.4 701.5,224.1 701.8,224.7 702.1,225.3 702.5,225.9 702.8,226.5 703.2,227.1 703.5,227.6 703.8,228.1 704.2,228.6 704.5,229 704.9,229.5 705.2,229.9 705.6,230.3 705.9,230.7 706.2,231.1 706.6,231.4 706.9,231.8 707.3,232.1 707.6,232.5 707.9,232.8 708.3,233.1 709,233.7 709.6,234.2 710.3,234.8 711,235.2 711.7,235.7 712.4,236.1 713.1,236.5 713.7,236.9 714.4,237.3 715.1,237.7 715.8,238 716.5,238.3 717.1,238.6 717.8,238.9 718.5,239.2 719.2,239.4 719.9,239.7 720.6,239.9 721.2,240.2 721.9,240.4 722.6,240.6 723.3,240.8 724,241 724.6,241.2 725.3,241.4 726,241.6 726.7,241.7 727.4,241.9 728.1,242 728.7,242.2 729.4,242.3 730.1,242.5 730.8,242.6 731.5,242.8 732.2,242.9 732.8,243 733.5,243.2 734.2,243.3 734.9,243.4 735.6,243.5 737.3,243.8 739,244 740.7,244.3 742.4,244.5 744.1,244.7 745.8,244.9 747.5,245.1 749.2,245.2 750.9,245.4 752.6,245.6 754.3,245.7 756,245.8 757.7,246 759.4,246.1 761.1,246.2 762.8,246.3 764.5,246.4 766.2,246.6 768,246.7 769.7,246.8 771.4,246.8 773.1,246.9 774.8,247 776.5,247.1 778.2,247.2 779.9,247.3 781.6,247.3 783.3,247.4 785,247.5 786.7,247.5 788.4,247.6 790.1,247.7 791.8,247.7 793.5,247.8 795.2,247.8 796.9,247.9 798.6,247.9 800.4,248 802.1,248 803.8,248.1 805.5,248.1 807.2,248.2 808.9,248.2 810.6,248.3 812.3,248.3 814,248.3 815.7,248.4 817.4,248.4 819.1,248.5 820.8,248.5 822.5,248.5 824.2,248.6 825.9,248.6 827.6,248.6 829.3,248.7 831,248.7 832.7,248.7 834.5,248.8 836.2,248.8 837.9,248.8 839.6,248.8 841.3,248.9 843,248.9 844.7,248.9 846.4,249 848.1,249 849.8,249 851.5,249 853.2,249 854.9,249.1 856.6,249.1 858.3,249.1 858.3,249.4 856.6,249.3 854.9,249.3 853.2,249.3 851.5,249.3 849.8,249.2 848.1,249.2 846.4,249.2 844.7,249.2 843,249.2 841.3,249.1 839.6,249.1 837.9,249.1 836.2,249.1 834.5,249 832.7,249 831,249 829.3,249 827.6,248.9 825.9,248.9 824.2,248.9 822.5,248.8 820.8,248.8 819.1,248.8 817.4,248.7 815.7,248.7 814,248.7 812.3,248.6 810.6,248.6 808.9,248.6 807.2,248.5 805.5,248.5 803.8,248.4 802.1,248.4 800.4,248.3 798.6,248.3 796.9,248.3 795.2,248.2 793.5,248.2 791.8,248.1 790.1,248.1 788.4,248 786.7,247.9 785,247.9 783.3,247.8 781.6,247.8 779.9,247.7 778.2,247.6 776.5,247.6 774.8,247.5 773.1,247.4 771.4,247.3 769.7,247.2 768,247.2 766.2,247.1 764.5,247 762.8,246.9 761.1,246.8 759.4,246.7 757.7,246.5 756,246.4 754.3,246.3 752.6,246.2 750.9,246 749.2,245.9 747.5,245.7 745.8,245.6 744.1,245.4 742.4,245.2 740.7,245 739,244.8 737.3,244.6 735.6,244.3 734.9,244.2 734.2,244.1 733.5,244 732.8,243.9 732.2,243.8 731.5,243.7 730.8,243.6 730.1,243.4 729.4,243.3 728.7,243.2 728.1,243 727.4,242.9 726.7,242.7 726,242.6 725.3,242.4 724.6,242.3 724,242.1 723.3,241.9 722.6,241.7 721.9,241.6 721.2,241.4 720.6,241.1 719.9,240.9 719.2,240.7 718.5,240.5 717.8,240.2 717.1,240 716.5,239.7 715.8,239.4 715.1,239.1 714.4,238.8 713.7,238.5 713.1,238.1 712.4,237.8 711.7,237.4 711,237 710.3,236.5 709.6,236.1 709,235.6 708.3,235.1 707.9,234.8 707.6,234.5 707.3,234.2 706.9,233.9 706.6,233.6 706.2,233.2 705.9,232.9 705.6,232.6 705.2,232.2 704.9,231.8 704.5,231.4 704.2,231 703.8,230.6 703.5,230.1 703.2,229.6 702.8,229.1 702.5,228.6 702.1,228.1 701.8,227.5 701.5,226.9 701.1,226.3 700.8,225.6 700.4,224.9 700.1,224.2 699.8,223.4 699.4,222.6 699.1,221.8 698.7,220.8 698.4,219.8 698.1,218.8 697.7,217.7 697.4,216.5 697,215.2 696.7,213.8 696.3,212.3 696,210.7 695.7,208.9 695.3,207 695,204.9 694.6,202.6" fill="#61D04F" fill-opacity="0.15"/>
<polyline points="688.2,251.3 688.5,251.3 688.8,251.3 689.2,202.55 689.5,212.3 689.9,218.8 690.2,223.44 690.5,202.55 690.9,207.97 691.2,212.3 691.6,215.85 691.9,202.55 692.3,206.3 692.6,209.51 692.9,212.3 693.3,202.55 693.6,205.42 694,207.97 694.3,210.25 694.6,202.55 695,204.84 695.3,206.91 695.7,208.81 696,210.55 696.3,212.16 696.7,213.64 697,215.01 697.4,216.29 697.7,217.48 698.1,218.59 698.4,219.62 698.7,220.6 699.1,221.51 699.4,222.38 699.8,223.19 700.1,223.96 700.4,224.69 700.8,225.38 701.1,226.03 701.5,226.66 701.8,227.25 702.1,227.81 702.5,228.35 702.8,228.87 703.2,229.36 703.5,229.83 703.8,230.28 704.2,230.71 704.5,231.13 704.9,231.53 705.2,231.91 705.6,232.28 705.9,232.63 706.2,232.98 706.6,233.31 706.9,233.62 707.3,233.93 707.6,234.23 707.9,234.51 708.3,234.79 709,235.32 709.6,235.81 710.3,236.28 711,236.72 711.7,237.13 712.4,237.52 713.1,237.89 713.7,238.24 714.4,238.57 715.1,238.89 715.8,239.19 716.5,239.48 717.1,239.75 717.8,240.01 718.5,240.26 719.2,240.5 719.9,240.73 720.6,240.95 721.2,241.16 721.9,241.36 722.6,241.56 723.3,241.74 724,241.92 724.6,242.1 725.3,242.26 726,242.42 726.7,242.58 727.4,242.73 728.1,242.88 728.7,243.02 729.4,243.15 730.1,243.28 730.8,243.41 731.5,243.53 732.2,243.65 732.8,243.77 733.5,243.88 734.2,243.99 734.9,244.09 735.6,244.2 737.3,244.44 739,244.67 740.7,244.88 742.4,245.08 744.1,245.27 745.8,245.45 747.5,245.62 749.2,245.78 750.9,245.92 752.6,246.07 754.3,246.2 756,246.33 757.7,246.45 759.4,246.56 761.1,246.67 762.8,246.78 764.5,246.88 766.2,246.98 768,247.07 769.7,247.16 771.4,247.24 773.1,247.32 774.8,247.4 776.5,247.48 778.2,247.55 779.9,247.62 781.6,247.68 783.3,247.75 785,247.81 786.7,247.87 788.4,247.93 790.1,247.99 791.8,248.04 793.5,248.09 795.2,248.14 796.9,248.19 798.6,248.24 800.4,248.29 802.1,248.33 803.8,248.38 805.5,248.42 807.2,248.46 808.9,248.5 810.6,248.54 812.3,248.58 814,248.61 815.7,248.65 817.4,248.68 819.1,248.72 820.8,248.75 822.5,248.78 824.2,248.81 825.9,248.84 827.6,248.87 829.3,248.9 831,248.93 832.7,248.96 834.5,248.99 836.2,249.01 837.9,249.04 839.6,249.07 841.3,249.09 843,249.11 844.7,249.14 846.4,249.16 848.1,249.18 849.8,249.21 851.5,249.23 853.2,249.25 854.9,249.27 856.6,249.29 858.3,249.31" fill="none" stroke="#2297E6" stroke-width="2.75" stroke-linecap="round" stroke-linejoin="round"/>
<polygon points="694.6,202.6 695,194.3 695.3,188.6 695.7,184.8 696,182.5 696.3,181.2 696.7,180.8 697,180.9 697.4,181.5 697.7,182.3 698.1,183.4 698.4,184.6 698.7,185.9 699.1,187.3 699.4,188.7 699.8,190.1 700.1,191.5 700.4,192.9 700.8,194.2 701.1,195.5 701.5,196.8 701.8,198 702.1,199.2 702.5,200.3 702.8,201.5 703.2,202.5 703.5,203.5 703.8,204.5 704.2,205.5 704.5,206.4 704.9,207.3 705.2,208.1 705.6,209 705.9,209.8 706.2,210.5 706.6,211.3 706.9,212 707.3,212.7 707.6,213.3 707.9,214 708.3,214.6 709,215.8 709.6,216.9 710.3,217.9 711,218.9 711.7,219.8 712.4,220.7 713.1,221.5 713.7,222.3 714.4,223.1 715.1,223.8 715.8,224.4 716.5,225.1 717.1,225.7 717.8,226.3 718.5,226.8 719.2,227.3 719.9,227.9 720.6,228.3 721.2,228.8 721.9,229.3 722.6,229.7 723.3,230.1 724,230.5 724.6,230.9 725.3,231.3 726,231.6 726.7,232 727.4,232.3 728.1,232.6 728.7,232.9 729.4,233.2 730.1,233.5 730.8,233.8 731.5,234.1 732.2,234.4 732.8,234.6 733.5,234.9 734.2,235.1 734.9,235.3 735.6,235.6 737.3,236.1 739,236.6 740.7,237.1 742.4,237.5 744.1,237.9 745.8,238.3 747.5,238.7 749.2,239.1 750.9,239.4 752.6,239.7 754.3,240 756,240.3 757.7,240.6 759.4,240.8 761.1,241.1 762.8,241.3 764.5,241.5 766.2,241.7 768,241.9 769.7,242.1 771.4,242.3 773.1,242.5 774.8,242.7 776.5,242.8 778.2,243 779.9,243.1 781.6,243.3 783.3,243.4 785,243.6 786.7,243.7 788.4,243.8 790.1,244 791.8,244.1 793.5,244.2 795.2,244.3 796.9,244.4 798.6,244.5 800.4,244.6 802.1,244.7 803.8,244.8 805.5,244.9 807.2,245 808.9,245.1 810.6,245.2 812.3,245.3 814,245.3 815.7,245.4 817.4,245.5 819.1,245.6 820.8,245.7 822.5,245.7 824.2,245.8 825.9,245.9 827.6,245.9 829.3,246 831,246.1 832.7,246.1 834.5,246.2 836.2,246.2 837.9,246.3 839.6,246.3 841.3,246.4 843,246.5 844.7,246.5 846.4,246.6 848.1,246.6 849.8,246.7 851.5,246.7 853.2,246.8 854.9,246.8 856.6,246.8 858.3,246.9 858.3,249.4 856.6,249.3 854.9,249.3 853.2,249.3 851.5,249.3 849.8,249.2 848.1,249.2 846.4,249.2 844.7,249.2 843,249.2 841.3,249.1 839.6,249.1 837.9,249.1 836.2,249.1 834.5,249 832.7,249 831,249 829.3,249 827.6,248.9 825.9,248.9 824.2,248.9 822.5,248.8 820.8,248.8 819.1,248.8 817.4,248.7 815.7,248.7 814,248.7 812.3,248.6 810.6,248.6 808.9,248.6 807.2,248.5 805.5,248.5 803.8,248.4 802.1,248.4 800.4,248.3 798.6,248.3 796.9,248.3 795.2,248.2 793.5,248.2 791.8,248.1 790.1,248.1 788.4,248 786.7,247.9 785,247.9 783.3,247.8 781.6,247.8 779.9,247.7 778.2,247.6 776.5,247.6 774.8,247.5 773.1,247.4 771.4,247.3 769.7,247.2 768,247.2 766.2,247.1 764.5,247 762.8,246.9 761.1,246.8 759.4,246.7 757.7,246.5 756,246.4 754.3,246.3 752.6,246.2 750.9,246 749.2,245.9 747.5,245.7 745.8,245.6 744.1,245.4 742.4,245.2 740.7,245 739,244.8 737.3,244.6 735.6,244.3 734.9,244.2 734.2,244.1 733.5,244 732.8,243.9 732.2,243.8 731.5,243.7 730.8,243.6 730.1,243.4 729.4,243.3 728.7,243.2 728.1,243 727.4,242.9 726.7,242.7 726,242.6 725.3,242.4 724.6,242.3 724,242.1 723.3,241.9 722.6,241.7 721.9,241.6 721.2,241.4 720.6,241.1 719.9,240.9 719.2,240.7 718.5,240.5 717.8,240.2 717.1,240 716.5,239.7 715.8,239.4 715.1,239.1 714.4,238.8 713.7,238.5 713.1,238.1 712.4,237.8 711.7,237.4 711,237 710.3,236.5 709.6,236.1 709,235.6 708.3,235.1 707.9,234.8 707.6,234.5 707.3,234.2 706.9,233.9 706.6,233.6 706.2,233.2 705.9,232.9 705.6,232.6 705.2,232.2 704.9,231.8 704.5,231.4 704.2,231 703.8,230.6 703.5,230.1 703.2,229.6 702.8,229.1 702.5,228.6 702.1,228.1 701.8,227.5 701.5,226.9 701.1,226.3 700.8,225.6 700.4,224.9 700.1,224.2 699.8,223.4 699.4,222.6 699.1,221.8 698.7,220.8 698.4,219.8 698.1,218.8 697.7,217.7 697.4,216.5 697,215.2 696.7,213.8 696.3,212.3 696,210.7 695.7,208.9 695.3,207 695,204.9 694.6,202.6" fill="#2297E6" fill-opacity="0.15"/>
</g>
<rect x="681" y="48.5" width="184.1" height="210.6" fill="none" stroke="#000" stroke-width="1.75" stroke-linejoin="round"/>
<line x1="681" y1="251.3" x2="670.2" y2="251.3" class="tkl"/>
<text x="659.8" y="257.4" text-anchor="end" class="tk">0.0</text>
<line x1="681" y1="212.3" x2="670.2" y2="212.3" class="tkl"/>
<text x="659.8" y="218.4" text-anchor="end" class="tk">0.2</text>
<line x1="681" y1="173.3" x2="670.2" y2="173.3" class="tkl"/>
<text x="659.8" y="179.4" text-anchor="end" class="tk">0.4</text>
<line x1="681" y1="134.3" x2="670.2" y2="134.3" class="tkl"/>
<text x="659.8" y="140.4" text-anchor="end" class="tk">0.6</text>
<line x1="681" y1="95.3" x2="670.2" y2="95.3" class="tkl"/>
<text x="659.8" y="101.4" text-anchor="end" class="tk">0.8</text>
<line x1="681" y1="56.3" x2="670.2" y2="56.3" class="tkl"/>
<text x="659.8" y="62.4" text-anchor="end" class="tk">1.0</text>
<line x1="687.8" y1="259.1" x2="687.8" y2="269.9" class="tkl"/>
<text transform="translate(694.3,281.1) rotate(-90)" text-anchor="end" class="tk">0</text>
<line x1="721.9" y1="259.1" x2="721.9" y2="269.9" class="tkl"/>
<text transform="translate(728.4,281.1) rotate(-90)" text-anchor="end" class="tk">100</text>
<line x1="756" y1="259.1" x2="756" y2="269.9" class="tkl"/>
<text transform="translate(762.5,281.1) rotate(-90)" text-anchor="end" class="tk">200</text>
<line x1="790.1" y1="259.1" x2="790.1" y2="269.9" class="tkl"/>
<text transform="translate(796.6,281.1) rotate(-90)" text-anchor="end" class="tk">300</text>
<line x1="824.2" y1="259.1" x2="824.2" y2="269.9" class="tkl"/>
<text transform="translate(830.7,281.1) rotate(-90)" text-anchor="end" class="tk">400</text>
<line x1="858.3" y1="259.1" x2="858.3" y2="269.9" class="tkl"/>
<text transform="translate(864.8,281.1) rotate(-90)" text-anchor="end" class="tk">500</text>
<text x="773" y="34.5" text-anchor="middle" class="ti">SGI</text>
<text x="773" y="341.3" text-anchor="middle" class="ax">Patients recruited</text>
<text transform="translate(611.6,153.8) rotate(-90)" text-anchor="middle" class="ax">Allocation ratio</text>
</g>
<g>
<clipPath id="cp3"><rect x="97" y="410.2" width="184.1" height="210.6"/></clipPath>
<g clip-path="url(#cp3)">
<polyline points="104.2,418 104.5,515.5 104.8,548 105.2,564.25 105.5,535 105.9,548 106.2,557.29 106.5,564.25 106.9,548 107.2,554.5 107.6,559.82 107.9,564.25 108.3,553 108.6,557.29 108.9,561 109.3,564.25 109.6,555.65 110,558.83 110.3,561.68 110.6,564.25 111,557.42 111.3,551.2 111.7,545.5 112,540.28 112.3,535.46 112.7,531.01 113,526.88 113.4,523.04 113.7,519.46 114,516.12 114.4,512.98 114.7,510.05 115.1,507.28 115.4,504.68 115.8,502.22 116.1,499.9 116.4,497.7 116.8,495.62 117.1,493.64 117.5,491.76 117.8,489.97 118.1,488.26 118.5,486.64 118.8,485.08 119.2,483.6 119.5,482.18 119.8,480.81 120.2,479.51 120.5,478.26 120.9,477.06 121.2,475.9 121.6,474.79 121.9,473.72 122.2,472.69 122.6,471.7 122.9,470.74 123.3,469.82 123.6,468.92 123.9,468.06 124.3,467.23 125,465.64 125.6,464.15 126.3,462.76 127,461.44 127.7,460.2 128.4,459.03 129.1,457.92 129.7,456.87 130.4,455.87 131.1,454.93 131.8,454.03 132.5,453.17 133.1,452.35 133.8,451.57 134.5,450.82 135.2,450.11 135.9,449.43 136.6,448.77 137.2,448.15 137.9,447.54 138.6,446.96 139.3,446.41 140,445.87 140.6,445.35 141.3,444.86 142,444.38 142.7,443.91 143.4,443.47 144.1,443.04 144.7,442.62 145.4,442.22 146.1,441.82 146.8,441.45 147.5,441.08 148.2,440.72 148.8,440.38 149.5,440.05 150.2,439.72 150.9,439.41 151.6,439.1 153.3,438.37 155,437.69 156.7,437.06 158.4,436.46 160.1,435.9 161.8,435.38 163.5,434.88 165.2,434.41 166.9,433.97 168.6,433.55 170.3,433.15 172,432.77 173.7,432.41 175.4,432.07 177.1,431.74 178.8,431.43 180.5,431.13 182.2,430.84 184,430.57 185.7,430.31 187.4,430.06 189.1,429.82 190.8,429.59 192.5,429.36 194.2,429.15 195.9,428.94 197.6,428.74 199.3,428.55 201,428.37 202.7,428.19 204.4,428.01 206.1,427.85 207.8,427.69 209.5,427.53 211.2,427.38 212.9,427.23 214.6,427.09 216.4,426.95 218.1,426.82 219.8,426.69 221.5,426.56 223.2,426.44 224.9,426.32 226.6,426.21 228.3,426.09 230,425.98 231.7,425.88 233.4,425.77 235.1,425.67 236.8,425.58 238.5,425.48 240.2,425.39 241.9,425.29 243.6,425.21 245.3,425.12 247,425.03 248.7,424.95 250.5,424.87 252.2,424.79 253.9,424.71 255.6,424.64 257.3,424.56 259,424.49 260.7,424.42 262.4,424.35 264.1,424.29 265.8,424.22 267.5,424.15 269.2,424.09 270.9,424.03 272.6,423.97 274.3,423.91" fill="none" stroke="#000000" stroke-width="2.75" stroke-linecap="round" stroke-linejoin="round"/>
<polygon points="110.6,564.2 111,557.4 111.3,551.2 111.7,545.5 112,540.3 112.3,535.5 112.7,531 113,526.9 113.4,523 113.7,519.5 114,516.1 114.4,513 114.7,510 115.1,507.3 115.4,504.7 115.8,502.2 116.1,499.9 116.4,497.7 116.8,495.6 117.1,493.6 117.5,491.8 117.8,490 118.1,488.3 118.5,486.6 118.8,485.1 119.2,483.6 119.5,482.2 119.8,480.8 120.2,479.5 120.5,478.3 120.9,477.1 121.2,475.9 121.6,474.8 121.9,473.7 122.2,472.7 122.6,471.7 122.9,470.7 123.3,469.8 123.6,468.9 123.9,468.1 124.3,467.2 125,465.6 125.6,464.2 126.3,462.8 127,461.4 127.7,460.2 128.4,459 129.1,457.9 129.7,456.9 130.4,455.9 131.1,454.9 131.8,454 132.5,453.2 133.1,452.4 133.8,451.6 134.5,450.8 135.2,450.1 135.9,449.4 136.6,448.8 137.2,448.1 137.9,447.5 138.6,447 139.3,446.4 140,445.9 140.6,445.4 141.3,444.9 142,444.4 142.7,443.9 143.4,443.5 144.1,443 144.7,442.6 145.4,442.2 146.1,441.8 146.8,441.4 147.5,441.1 148.2,440.7 148.8,440.4 149.5,440 150.2,439.7 150.9,439.4 151.6,439.1 153.3,438.4 155,437.7 156.7,437.1 158.4,436.5 160.1,435.9 161.8,435.4 163.5,434.9 165.2,434.4 166.9,434 168.6,433.5 170.3,433.1 172,432.8 173.7,432.4 175.4,432.1 177.1,431.7 178.8,431.4 180.5,431.1 182.2,430.8 184,430.6 185.7,430.3 187.4,430.1 189.1,429.8 190.8,429.6 192.5,429.4 194.2,429.1 195.9,428.9 197.6,428.7 199.3,428.6 201,428.4 202.7,428.2 204.4,428 206.1,427.8 207.8,427.7 209.5,427.5 211.2,427.4 212.9,427.2 214.6,427.1 216.4,427 218.1,426.8 219.8,426.7 221.5,426.6 223.2,426.4 224.9,426.3 226.6,426.2 228.3,426.1 230,426 231.7,425.9 233.4,425.8 235.1,425.7 236.8,425.6 238.5,425.5 240.2,425.4 241.9,425.3 243.6,425.2 245.3,425.1 247,425 248.7,425 250.5,424.9 252.2,424.8 253.9,424.7 255.6,424.6 257.3,424.6 259,424.5 260.7,424.4 262.4,424.4 264.1,424.3 265.8,424.2 267.5,424.2 269.2,424.1 270.9,424 272.6,424 274.3,423.9 274.3,510.2 272.6,511.2 270.9,512.2 269.2,513.2 267.5,514.3 265.8,515.3 264.1,516.4 262.4,517.5 260.7,518.6 259,519.8 257.3,521 255.6,522.2 253.9,523.4 252.2,524.7 250.5,526 248.7,527.3 247,528.6 245.3,530 243.6,531.4 241.9,532.9 240.2,534.4 238.5,535.9 236.8,537.5 235.1,539.1 233.4,540.7 231.7,542.4 230,544.2 228.3,546 226.6,547.8 224.9,549.7 223.2,551.6 221.5,553.6 219.8,555.7 218.1,557.8 216.4,560 214.6,562.2 212.9,564.6 211.2,566.9 209.5,569.4 207.8,572 206.1,574.6 204.4,577.3 202.7,580.2 201,583.1 199.3,586.1 197.6,589.2 195.9,592.5 194.2,595.9 192.5,599.4 190.8,603 189.1,606.8 187.4,609 185.7,608.9 184,608.9 182.2,608.8 180.5,608.7 178.8,608.6 177.1,608.5 175.4,608.4 173.7,608.2 172,608.1 170.3,608 168.6,607.9 166.9,607.7 165.2,607.6 163.5,607.4 161.8,607.3 160.1,607.1 158.4,606.9 156.7,606.7 155,606.5 153.3,606.3 151.6,606 150.9,605.9 150.2,605.8 149.5,605.7 148.8,605.6 148.2,605.5 147.5,605.4 146.8,605.3 146.1,605.1 145.4,605 144.7,604.9 144.1,604.7 143.4,604.6 142.7,604.4 142,604.3 141.3,604.1 140.6,604 140,603.8 139.3,603.6 138.6,603.4 137.9,603.2 137.2,603.1 136.6,602.8 135.9,602.6 135.2,602.4 134.5,602.2 133.8,601.9 133.1,601.7 132.5,601.4 131.8,601.1 131.1,600.8 130.4,600.5 129.7,600.2 129.1,599.8 128.4,599.5 127.7,599.1 127,598.7 126.3,598.2 125.6,597.8 125,597.3 124.3,596.8 123.9,596.5 123.6,596.2 123.3,595.9 122.9,595.6 122.6,595.3 122.2,594.9 121.9,594.6 121.6,594.2 121.2,593.9 120.9,593.5 120.5,593.1 120.2,592.7 119.8,592.3 119.5,591.8 119.2,591.3 118.8,590.8 118.5,590.3 118.1,589.8 117.8,589.2 117.5,588.6 117.1,588 116.8,587.3 116.4,586.6 116.1,585.9 115.8,585.1 115.4,584.3 115.1,583.5 114.7,582.5 114.4,581.5 114,580.5 113.7,579.4 113.4,578.2 113,576.9 112.7,575.5 112.3,574 112,572.4 111.7,570.6 111.3,568.7 111,566.6 110.6,564.2" fill="#000000" fill-opacity="0.15"/>
<polyline points="104.2,613 104.5,515.5 104.8,548 105.2,564.25 105.5,574 105.9,548 106.2,557.29 106.5,564.25 106.9,569.67 107.2,554.5 107.6,559.82 107.9,564.25 108.3,568 108.6,557.29 108.9,561 109.3,564.25 109.6,567.12 110,558.83 110.3,561.68 110.6,564.25 111,566.41 111.3,568.38 111.7,570.18 112,571.83 112.3,573.35 112.7,574.76 113,576.06 113.4,577.28 113.7,578.41 114,579.47 114.4,580.47 114.7,581.4 115.1,582.28 115.4,583.11 115.8,583.89 116.1,584.63 116.4,585.34 116.8,586 117.1,586.64 117.5,587.24 117.8,587.82 118.1,588.37 118.5,588.89 118.8,589.4 119.2,589.88 119.5,590.34 119.8,590.78 120.2,591.21 120.5,591.61 120.9,592 121.2,592.38 121.6,592.74 121.9,593.09 122.2,593.43 122.6,593.76 122.9,594.07 123.3,594.38 123.6,594.67 123.9,594.95 124.3,595.23 125,595.75 125.6,596.24 126.3,596.7 127,597.14 127.7,597.55 128.4,597.94 129.1,598.31 129.7,598.66 130.4,598.99 131.1,599.31 131.8,599.61 132.5,599.89 133.1,600.17 133.8,600.43 134.5,600.68 135.2,600.92 135.9,601.14 136.6,601.36 137.2,601.57 137.9,601.78 138.6,601.97 139.3,602.16 140,602.34 140.6,602.51 141.3,602.68 142,602.84 142.7,602.99 143.4,603.14 144.1,603.29 144.7,603.43 145.4,603.56 146.1,603.7 146.8,603.82 147.5,603.95 148.2,604.06 148.8,604.18 149.5,604.29 150.2,604.4 150.9,604.51 151.6,604.61 153.3,604.86 155,605.08 156.7,605.3 158.4,605.5 160.1,605.69 161.8,605.86 163.5,606.03 165.2,606.19 166.9,606.34 168.6,606.48 170.3,606.61 172,606.74 173.7,606.86 175.4,606.98 177.1,607.09 178.8,607.19 180.5,607.29 182.2,607.39 184,607.48 185.7,607.57 187.4,607.65 189.1,607.74 190.8,607.81 192.5,607.89 194.2,607.96 195.9,608.03 197.6,608.1 199.3,608.16 201,608.22 202.7,608.28 204.4,608.34 206.1,608.4 207.8,608.45 209.5,608.5 211.2,608.56 212.9,608.61 214.6,608.65 216.4,608.7 218.1,608.74 219.8,608.79 221.5,608.83 223.2,608.87 224.9,608.91 226.6,608.95 228.3,608.99 230,609.03 231.7,609.06 233.4,609.1 235.1,609.13 236.8,609.16 238.5,609.2 240.2,609.23 241.9,609.26 243.6,609.29 245.3,609.32 247,609.35 248.7,609.37 250.5,609.4 252.2,609.43 253.9,609.45 255.6,609.48 257.3,609.5 259,609.53 260.7,609.55 262.4,609.57 264.1,609.6 265.8,609.62 267.5,609.64 269.2,609.66 270.9,609.68 272.6,609.7 274.3,609.72" fill="none" stroke="#DF536B" stroke-width="2.75" stroke-linecap="round" stroke-linejoin="round"/>
<polygon points="110.6,564.2 111,557.4 111.3,551.2 111.7,545.5 112,540.3 112.3,535.5 112.7,531 113,526.9 113.4,523 113.7,519.5 114,516.1 114.4,513 114.7,510 115.1,507.3 115.4,504.7 115.8,502.2 116.1,499.9 116.4,497.7 116.8,495.6 117.1,493.6 117.5,491.8 117.8,490 118.1,488.3 118.5,486.6 118.8,485.1 119.2,483.6 119.5,482.2 119.8,480.8 120.2,479.5 120.5,478.3 120.9,477.1 121.2,475.9 121.6,474.8 121.9,473.7 122.2,472.7 122.6,471.7 122.9,470.7 123.3,469.8 123.6,468.9 123.9,468.1 124.3,467.2 125,465.6 125.6,464.2 126.3,462.8 127,461.4 127.7,460.2 128.4,459 129.1,457.9 129.7,456.9 130.4,455.9 131.1,454.9 131.8,454 132.5,453.2 133.1,452.4 133.8,451.6 134.5,450.8 135.2,450.1 135.9,449.4 136.6,448.8 137.2,448.1 137.9,447.5 138.6,447 139.3,446.4 140,445.9 140.6,445.4 141.3,444.9 142,444.4 142.7,443.9 143.4,443.5 144.1,443 144.7,442.6 145.4,442.2 146.1,441.8 146.8,441.4 147.5,441.1 148.2,440.7 148.8,440.4 149.5,440 150.2,439.7 150.9,439.4 151.6,439.1 153.3,438.4 155,437.7 156.7,437.1 158.4,436.5 160.1,435.9 161.8,435.4 163.5,434.9 165.2,434.4 166.9,434 168.6,433.5 170.3,433.1 172,432.8 173.7,432.4 175.4,432.1 177.1,431.7 178.8,431.4 180.5,431.1 182.2,430.8 184,430.6 185.7,430.3 187.4,431.4 189.1,435 190.8,438.4 192.5,441.6 194.2,444.8 195.9,447.8 197.6,450.7 199.3,453.5 201,456.2 202.7,458.8 204.4,461.4 206.1,463.8 207.8,466.2 209.5,468.5 211.2,470.7 212.9,472.8 214.6,474.9 216.4,476.9 218.1,478.9 219.8,480.8 221.5,482.6 223.2,484.4 224.9,486.2 226.6,487.9 228.3,489.5 230,491.1 231.7,492.7 233.4,494.2 235.1,495.7 236.8,497.1 238.5,498.5 240.2,499.9 241.9,501.2 243.6,502.5 245.3,503.8 247,505.1 248.7,506.3 250.5,507.5 252.2,508.6 253.9,509.7 255.6,510.8 257.3,511.9 259,513 260.7,514 262.4,515 264.1,516 265.8,517 267.5,517.9 269.2,518.9 270.9,519.8 272.6,520.7 274.3,521.5 274.3,611 272.6,611 270.9,611 269.2,611 267.5,611 265.8,610.9 264.1,610.9 262.4,610.9 260.7,610.9 259,610.9 257.3,610.8 255.6,610.8 253.9,610.8 252.2,610.8 250.5,610.7 248.7,610.7 247,610.7 245.3,610.7 243.6,610.6 241.9,610.6 240.2,610.6 238.5,610.5 236.8,610.5 235.1,610.5 233.4,610.4 231.7,610.4 230,610.4 228.3,610.3 226.6,610.3 224.9,610.3 223.2,610.2 221.5,610.2 219.8,610.1 218.1,610.1 216.4,610 214.6,610 212.9,610 211.2,609.9 209.5,609.9 207.8,609.8 206.1,609.8 204.4,609.7 202.7,609.6 201,609.6 199.3,609.5 197.6,609.5 195.9,609.4 194.2,609.3 192.5,609.2 190.8,609.2 189.1,609.1 187.4,609 185.7,608.9 184,608.9 182.2,608.8 180.5,608.7 178.8,608.6 177.1,608.5 175.4,608.4 173.7,608.2 172,608.1 170.3,608 168.6,607.9 166.9,607.7 165.2,607.6 163.5,607.4 161.8,607.3 160.1,607.1 158.4,606.9 156.7,606.7 155,606.5 153.3,606.3 151.6,606 150.9,605.9 150.2,605.8 149.5,605.7 148.8,605.6 148.2,605.5 147.5,605.4 146.8,605.3 146.1,605.1 145.4,605 144.7,604.9 144.1,604.7 143.4,604.6 142.7,604.4 142,604.3 141.3,604.1 140.6,604 140,603.8 139.3,603.6 138.6,603.4 137.9,603.2 137.2,603.1 136.6,602.8 135.9,602.6 135.2,602.4 134.5,602.2 133.8,601.9 133.1,601.7 132.5,601.4 131.8,601.1 131.1,600.8 130.4,600.5 129.7,600.2 129.1,599.8 128.4,599.5 127.7,599.1 127,598.7 126.3,598.2 125.6,597.8 125,597.3 124.3,596.8 123.9,596.5 123.6,596.2 123.3,595.9 122.9,595.6 122.6,595.3 122.2,594.9 121.9,594.6 121.6,594.2 121.2,593.9 120.9,593.5 120.5,593.1 120.2,592.7 119.8,592.3 119.5,591.8 119.2,591.3 118.8,590.8 118.5,590.3 118.1,589.8 117.8,589.2 117.5,588.6 117.1,588 116.8,587.3 116.4,586.6 116.1,585.9 115.8,585.1 115.4,584.3 115.1,583.5 114.7,582.5 114.4,581.5 114,580.5 113.7,579.4 113.4,578.2 113,576.9 112.7,575.5 112.3,574 112,572.4 111.7,570.6 111.3,568.7 111,566.6 110.6,564.2" fill="#DF536B" fill-opacity="0.15"/>
<polyline points="104.2,613 104.5,613 104.8,548 105.2,564.25 105.5,574 105.9,580.5 106.2,557.29 106.5,564.25 106.9,569.67 107.2,574 107.6,559.82 107.9,564.25 108.3,568 108.6,571.21 108.9,561 109.3,564.25 109.6,567.12 110,569.67 110.3,561.68 110.6,564.25 111,566.51 111.3,568.57 111.7,570.45 112,572.18 112.3,573.77 112.7,575.23 113,576.59 113.4,577.86 113.7,579.04 114,580.14 114.4,581.17 114.7,582.14 115.1,583.04 115.4,583.9 115.8,584.71 116.1,585.47 116.4,586.2 116.8,586.88 117.1,587.53 117.5,588.15 117.8,588.74 118.1,589.31 118.5,589.84 118.8,590.35 119.2,590.84 119.5,591.31 119.8,591.76 120.2,592.19 120.5,592.61 120.9,593.01 121.2,593.39 121.6,593.75 121.9,594.11 122.2,594.45 122.6,594.78 122.9,595.1 123.3,595.4 123.6,595.7 123.9,595.98 124.3,596.26 125,596.79 125.6,597.28 126.3,597.75 127,598.18 127.7,598.6 128.4,598.99 129.1,599.36 129.7,599.71 130.4,600.04 131.1,600.36 131.8,600.66 132.5,600.95 133.1,601.22 133.8,601.48 134.5,601.73 135.2,601.97 135.9,602.2 136.6,602.42 137.2,602.63 137.9,602.83 138.6,603.02 139.3,603.21 140,603.39 140.6,603.56 141.3,603.73 142,603.89 142.7,604.05 143.4,604.2 144.1,604.34 144.7,604.48 145.4,604.62 146.1,604.75 146.8,604.88 147.5,605 148.2,605.12 148.8,605.23 149.5,605.35 150.2,605.45 150.9,605.56 151.6,605.66 153.3,605.91 155,606.14 156.7,606.35 158.4,606.55 160.1,606.74 161.8,606.92 163.5,607.08 165.2,607.24 166.9,607.39 168.6,607.53 170.3,607.67 172,607.79 173.7,607.91 175.4,608.03 177.1,608.14 178.8,608.25 180.5,608.35 182.2,608.44 184,608.53 185.7,608.62 187.4,608.71 189.1,608.79 190.8,608.87 192.5,608.94 194.2,609.01 195.9,609.08 197.6,609.15 199.3,609.21 201,609.28 202.7,609.34 204.4,609.39 206.1,609.45 207.8,609.51 209.5,609.56 211.2,609.61 212.9,609.66 214.6,609.71 216.4,609.75 218.1,609.8 219.8,609.84 221.5,609.88 223.2,609.92 224.9,609.96 226.6,610 228.3,610.04 230,610.08 231.7,610.11 233.4,610.15 235.1,610.18 236.8,610.22 238.5,610.25 240.2,610.28 241.9,610.31 243.6,610.34 245.3,610.37 247,610.4 248.7,610.43 250.5,610.45 252.2,610.48 253.9,610.51 255.6,610.53 257.3,610.56 259,610.58 260.7,610.6 262.4,610.63 264.1,610.65 265.8,610.67 267.5,610.69 269.2,610.72 270.9,610.74 272.6,610.76 274.3,610.78" fill="none" stroke="#61D04F" stroke-width="2.75" stroke-linecap="round" stroke-linejoin="round"/>
<polygon points="110.6,564.2 111,565.6 111.3,566.9 111.7,568.3 112,569.7 112.3,571 112.7,572.4 113,573.6 113.4,574.8 113.7,576 114,577.1 114.4,578.2 114.7,579.2 115.1,580.2 115.4,581.1 115.8,582 116.1,582.8 116.4,583.6 116.8,584.3 117.1,585.1 117.5,585.8 117.8,586.4 118.1,587 118.5,587.6 118.8,588.2 119.2,588.8 119.5,589.3 119.8,589.8 120.2,590.3 120.5,590.7 120.9,591.2 121.2,591.6 121.6,592 121.9,592.4 122.2,592.8 122.6,593.1 122.9,593.5 123.3,593.8 123.6,594.2 123.9,594.5 124.3,594.8 125,595.4 125.6,595.9 126.3,596.5 127,596.9 127.7,597.4 128.4,597.8 129.1,598.2 129.7,598.6 130.4,599 131.1,599.4 131.8,599.7 132.5,600 133.1,600.3 133.8,600.6 134.5,600.9 135.2,601.1 135.9,601.4 136.6,601.6 137.2,601.9 137.9,602.1 138.6,602.3 139.3,602.5 140,602.7 140.6,602.9 141.3,603.1 142,603.3 142.7,603.4 143.4,603.6 144.1,603.7 144.7,603.9 145.4,604 146.1,604.2 146.8,604.3 147.5,604.5 148.2,604.6 148.8,604.7 149.5,604.9 150.2,605 150.9,605.1 151.6,605.2 153.3,605.5 155,605.7 156.7,606 158.4,606.2 160.1,606.4 161.8,606.6 163.5,606.8 165.2,606.9 166.9,607.1 168.6,607.3 170.3,607.4 172,607.5 173.7,607.7 175.4,607.8 177.1,607.9 178.8,608 180.5,608.1 182.2,608.3 184,608.4 185.7,608.5 187.4,608.5 189.1,608.6 190.8,608.7 192.5,608.8 194.2,608.9 195.9,609 197.6,609 199.3,609.1 201,609.2 202.7,609.2 204.4,609.3 206.1,609.4 207.8,609.4 209.5,609.5 211.2,609.5 212.9,609.6 214.6,609.6 216.4,609.7 218.1,609.7 219.8,609.8 221.5,609.8 223.2,609.9 224.9,609.9 226.6,610 228.3,610 230,610 231.7,610.1 233.4,610.1 235.1,610.2 236.8,610.2 238.5,610.2 240.2,610.3 241.9,610.3 243.6,610.3 245.3,610.4 247,610.4 248.7,610.4 250.5,610.5 252.2,610.5 253.9,610.5 255.6,610.5 257.3,610.6 259,610.6 260.7,610.6 262.4,610.7 264.1,610.7 265.8,610.7 267.5,610.7 269.2,610.7 270.9,610.8 272.6,610.8 274.3,610.8 274.3,611 272.6,611 270.9,611 269.2,611 267.5,611 265.8,610.9 264.1,610.9 262.4,610.9 260.7,610.9 259,610.9 257.3,610.8 255.6,610.8 253.9,610.8 252.2,610.8 250.5,610.7 248.7,610.7 247,610.7 245.3,610.7 243.6,610.6 241.9,610.6 240.2,610.6 238.5,610.5 236.8,610.5 235.1,610.5 233.4,610.4 231.7,610.4 230,610.4 228.3,610.3 226.6,610.3 224.9,610.3 223.2,610.2 221.5,610.2 219.8,610.1 218.1,610.1 216.4,610 214.6,610 212.9,610 211.2,609.9 209.5,609.9 207.8,609.8 206.1,609.8 204.4,609.7 202.7,609.6 201,609.6 199.3,609.5 197.6,609.5 195.9,609.4 194.2,609.3 192.5,609.2 190.8,609.2 189.1,609.1 187.4,609 185.7,608.9 184,608.9 182.2,608.8 180.5,608.7 178.8,608.6 177.1,608.5 175.4,608.4 173.7,608.2 172,608.1 170.3,608 168.6,607.9 166.9,607.7 165.2,607.6 163.5,607.4 161.8,607.3 160.1,607.1 158.4,606.9 156.7,606.7 155,606.5 153.3,606.3 151.6,606 150.9,605.9 150.2,605.8 149.5,605.7 148.8,605.6 148.2,605.5 147.5,605.4 146.8,605.3 146.1,605.1 145.4,605 144.7,604.9 144.1,604.7 143.4,604.6 142.7,604.4 142,604.3 141.3,604.1 140.6,604 140,603.8 139.3,603.6 138.6,603.4 137.9,603.2 137.2,603.1 136.6,602.8 135.9,602.6 135.2,602.4 134.5,602.2 133.8,601.9 133.1,601.7 132.5,601.4 131.8,601.1 131.1,600.8 130.4,600.5 129.7,600.2 129.1,599.8 128.4,599.5 127.7,599.1 127,598.7 126.3,598.2 125.6,597.8 125,597.3 124.3,596.8 123.9,596.5 123.6,596.2 123.3,595.9 122.9,595.6 122.6,595.3 122.2,594.9 121.9,594.6 121.6,594.2 121.2,593.9 120.9,593.5 120.5,593.1 120.2,592.7 119.8,592.3 119.5,591.8 119.2,591.3 118.8,590.8 118.5,590.3 118.1,589.8 117.8,589.2 117.5,588.6 117.1,588 116.8,587.3 116.4,586.6 116.1,585.9 115.8,585.1 115.4,584.3 115.1,583.5 114.7,582.5 114.4,581.5 114,580.5 113.7,579.4 113.4,578.2 113,576.9 112.7,575.5 112.3,574 112,572.4 111.7,570.6 111.3,568.7 111,566.6 110.6,564.2" fill="#61D04F" fill-opacity="0.15"/>
<polyline points="104.2,613 104.5,613 104.8,613 105.2,564.25 105.5,574 105.9,580.5 106.2,585.14 106.5,564.25 106.9,569.67 107.2,574 107.6,577.55 107.9,564.25 108.3,568 108.6,571.21 108.9,574 109.3,564.25 109.6,567.12 110,569.67 110.3,571.95 110.6,564.25 111,566.54 111.3,568.61 111.7,570.51 112,572.25 112.3,573.86 112.7,575.34 113,576.71 113.4,577.99 113.7,579.18 114,580.29 114.4,581.32 114.7,582.3 115.1,583.21 115.4,584.08 115.8,584.89 116.1,585.66 116.4,586.39 116.8,587.08 117.1,587.73 117.5,588.36 117.8,588.95 118.1,589.51 118.5,590.05 118.8,590.57 119.2,591.06 119.5,591.53 119.8,591.98 120.2,592.41 120.5,592.83 120.9,593.23 121.2,593.61 121.6,593.98 121.9,594.33 122.2,594.68 122.6,595.01 122.9,595.32 123.3,595.63 123.6,595.93 123.9,596.21 124.3,596.49 125,597.02 125.6,597.51 126.3,597.98 127,598.42 127.7,598.83 128.4,599.22 129.1,599.59 129.7,599.94 130.4,600.27 131.1,600.59 131.8,600.89 132.5,601.18 133.1,601.45 133.8,601.71 134.5,601.96 135.2,602.2 135.9,602.43 136.6,602.65 137.2,602.86 137.9,603.06 138.6,603.26 139.3,603.44 140,603.62 140.6,603.8 141.3,603.96 142,604.12 142.7,604.28 143.4,604.43 144.1,604.58 144.7,604.72 145.4,604.85 146.1,604.98 146.8,605.11 147.5,605.23 148.2,605.35 148.8,605.47 149.5,605.58 150.2,605.69 150.9,605.79 151.6,605.9 153.3,606.14 155,606.37 156.7,606.58 158.4,606.78 160.1,606.97 161.8,607.15 163.5,607.32 165.2,607.48 166.9,607.62 168.6,607.77 170.3,607.9 172,608.03 173.7,608.15 175.4,608.26 177.1,608.37 178.8,608.48 180.5,608.58 182.2,608.68 184,608.77 185.7,608.86 187.4,608.94 189.1,609.02 190.8,609.1 192.5,609.18 194.2,609.25 195.9,609.32 197.6,609.38 199.3,609.45 201,609.51 202.7,609.57 204.4,609.63 206.1,609.69 207.8,609.74 209.5,609.79 211.2,609.84 212.9,609.89 214.6,609.94 216.4,609.99 218.1,610.03 219.8,610.08 221.5,610.12 223.2,610.16 224.9,610.2 226.6,610.24 228.3,610.28 230,610.31 231.7,610.35 233.4,610.38 235.1,610.42 236.8,610.45 238.5,610.48 240.2,610.51 241.9,610.54 243.6,610.57 245.3,610.6 247,610.63 248.7,610.66 250.5,610.69 252.2,610.71 253.9,610.74 255.6,610.77 257.3,610.79 259,610.81 260.7,610.84 262.4,610.86 264.1,610.88 265.8,610.91 267.5,610.93 269.2,610.95 270.9,610.97 272.6,610.99 274.3,611.01" fill="none" stroke="#2297E6" stroke-width="2.75" stroke-linecap="round" stroke-linejoin="round"/>
<polygon points="110.6,564.2 111,553.9 111.3,546.8 111.7,541.9 112,538.8 112.3,537 112.7,536.2 113,536.1 113.4,536.5 113.7,537.3 114,538.3 114.4,539.6 114.7,541 115.1,542.4 115.4,543.9 115.8,545.4 116.1,546.9 116.4,548.4 116.8,549.9 117.1,551.3 117.5,552.7 117.8,554.1 118.1,555.4 118.5,556.7 118.8,557.9 119.2,559.1 119.5,560.2 119.8,561.3 120.2,562.3 120.5,563.3 120.9,564.3 121.2,565.3 121.6,566.2 121.9,567 122.2,567.9 122.6,568.7 122.9,569.5 123.3,570.3 123.6,571 123.9,571.7 124.3,572.4 125,573.7 125.6,574.9 126.3,576.1 127,577.2 127.7,578.2 128.4,579.1 129.1,580.1 129.7,580.9 130.4,581.8 131.1,582.5 131.8,583.3 132.5,584 133.1,584.7 133.8,585.3 134.5,585.9 135.2,586.5 135.9,587.1 136.6,587.6 137.2,588.1 137.9,588.6 138.6,589.1 139.3,589.6 140,590 140.6,590.4 141.3,590.8 142,591.2 142.7,591.6 143.4,592 144.1,592.3 144.7,592.7 145.4,593 146.1,593.3 146.8,593.7 147.5,594 148.2,594.3 148.8,594.5 149.5,594.8 150.2,595.1 150.9,595.3 151.6,595.6 153.3,596.2 155,596.8 156.7,597.3 158.4,597.8 160.1,598.2 161.8,598.7 163.5,599.1 165.2,599.5 166.9,599.8 168.6,600.2 170.3,600.5 172,600.8 173.7,601.1 175.4,601.4 177.1,601.7 178.8,601.9 180.5,602.2 182.2,602.4 184,602.6 185.7,602.8 187.4,603.1 189.1,603.2 190.8,603.4 192.5,603.6 194.2,603.8 195.9,604 197.6,604.1 199.3,604.3 201,604.4 202.7,604.6 204.4,604.7 206.1,604.9 207.8,605 209.5,605.1 211.2,605.3 212.9,605.4 214.6,605.5 216.4,605.6 218.1,605.7 219.8,605.8 221.5,605.9 223.2,606 224.9,606.1 226.6,606.2 228.3,606.3 230,606.4 231.7,606.5 233.4,606.6 235.1,606.7 236.8,606.8 238.5,606.8 240.2,606.9 241.9,607 243.6,607.1 245.3,607.1 247,607.2 248.7,607.3 250.5,607.3 252.2,607.4 253.9,607.5 255.6,607.5 257.3,607.6 259,607.6 260.7,607.7 262.4,607.8 264.1,607.8 265.8,607.9 267.5,607.9 269.2,608 270.9,608 272.6,608.1 274.3,608.1 274.3,611 272.6,611 270.9,611 269.2,611 267.5,611 265.8,610.9 264.1,610.9 262.4,610.9 260.7,610.9 259,610.9 257.3,610.8 255.6,610.8 253.9,610.8 252.2,610.8 250.5,610.7 248.7,610.7 247,610.7 245.3,610.7 243.6,610.6 241.9,610.6 240.2,610.6 238.5,610.5 236.8,610.5 235.1,610.5 233.4,610.4 231.7,610.4 230,610.4 228.3,610.3 226.6,610.3 224.9,610.3 223.2,610.2 221.5,610.2 219.8,610.1 218.1,610.1 216.4,610 214.6,610 212.9,610 211.2,609.9 209.5,609.9 207.8,609.8 206.1,609.8 204.4,609.7 202.7,609.6 201,609.6 199.3,609.5 197.6,609.5 195.9,609.4 194.2,609.3 192.5,609.2 190.8,609.2 189.1,609.1 187.4,609 185.7,608.9 184,608.9 182.2,608.8 180.5,608.7 178.8,608.6 177.1,608.5 175.4,608.4 173.7,608.2 172,608.1 170.3,608 168.6,607.9 166.9,607.7 165.2,607.6 163.5,607.4 161.8,607.3 160.1,607.1 158.4,606.9 156.7,606.7 155,606.5 153.3,606.3 151.6,606 150.9,605.9 150.2,605.8 149.5,605.7 148.8,605.6 148.2,605.5 147.5,605.4 146.8,605.3 146.1,605.1 145.4,605 144.7,604.9 144.1,604.7 143.4,604.6 142.7,604.4 142,604.3 141.3,604.1 140.6,604 140,603.8 139.3,603.6 138.6,603.4 137.9,603.2 137.2,603.1 136.6,602.8 135.9,602.6 135.2,602.4 134.5,602.2 133.8,601.9 133.1,601.7 132.5,601.4 131.8,601.1 131.1,600.8 130.4,600.5 129.7,600.2 129.1,599.8 128.4,599.5 127.7,599.1 127,598.7 126.3,598.2 125.6,597.8 125,597.3 124.3,596.8 123.9,596.5 123.6,596.2 123.3,595.9 122.9,595.6 122.6,595.3 122.2,594.9 121.9,594.6 121.6,594.2 121.2,593.9 120.9,593.5 120.5,593.1 120.2,592.7 119.8,592.3 119.5,591.8 119.2,591.3 118.8,590.8 118.5,590.3 118.1,589.8 117.8,589.2 117.5,588.6 117.1,588 116.8,587.3 116.4,586.6 116.1,585.9 115.8,585.1 115.4,584.3 115.1,583.5 114.7,582.5 114.4,581.5 114,580.5 113.7,579.4 113.4,578.2 113,576.9 112.7,575.5 112.3,574 112,572.4 111.7,570.6 111.3,568.7 111,566.6 110.6,564.2" fill="#2297E6" fill-opacity="0.15"/>
</g>
<rect x="97" y="410.2" width="184.1" height="210.6" fill="none" stroke="#000" stroke-width="1.75" stroke-linejoin="round"/>
<line x1="97" y1="613" x2="86.2" y2="613" class="tkl"/>
<text x="75.8" y="619.1" text-anchor="end" class="tk">0.0</text>
<line x1="97" y1="574" x2="86.2" y2="574" class="tkl"/>
<text x="75.8" y="580.1" text-anchor="end" class="tk">0.2</text>
<line x1="97" y1="535" x2="86.2" y2="535" class="tkl"/>
<text x="75.8" y="541.1" text-anchor="end" class="tk">0.4</text>
<line x1="97" y1="496" x2="86.2" y2="496" class="tkl"/>
<text x="75.8" y="502.1" text-anchor="end" class="tk">0.6</text>
<line x1="97" y1="457" x2="86.2" y2="457" class="tkl"/>
<text x="75.8" y="463.1" text-anchor="end" class="tk">0.8</text>
<line x1="97" y1="418" x2="86.2" y2="418" class="tkl"/>
<text x="75.8" y="424.1" text-anchor="end" class="tk">1.0</text>
<line x1="103.8" y1="620.8" x2="103.8" y2="631.6" class="tkl"/>
<text transform="translate(110.3,642.8) rotate(-90)" text-anchor="end" class="tk">0</text>
<line x1="137.9" y1="620.8" x2="137.9" y2="631.6" class="tkl"/>
<text transform="translate(144.4,642.8) rotate(-90)" text-anchor="end" class="tk">100</text>
<line x1="172" y1="620.8" x2="172" y2="631.6" class="tkl"/>
<text transform="translate(178.5,642.8) rotate(-90)" text-anchor="end" class="tk">200</text>
<line x1="206.1" y1="620.8" x2="206.1" y2="631.6" class="tkl"/>
<text transform="translate(212.6,642.8) rotate(-90)" text-anchor="end" class="tk">300</text>
<line x1="240.2" y1="620.8" x2="240.2" y2="631.6" class="tkl"/>
<text transform="translate(246.7,642.8) rotate(-90)" text-anchor="end" class="tk">400</text>
<line x1="274.3" y1="620.8" x2="274.3" y2="631.6" class="tkl"/>
<text transform="translate(280.8,642.8) rotate(-90)" text-anchor="end" class="tk">500</text>
<text x="189.1" y="396.2" text-anchor="middle" class="ti">TGI</text>
<text x="189.1" y="703" text-anchor="middle" class="ax">Patients recruited</text>
<text transform="translate(27.6,515.5) rotate(-90)" text-anchor="middle" class="ax">Allocation ratio</text>
</g>
<g>
<clipPath id="cp4"><rect x="389" y="410.2" width="184.1" height="210.6"/></clipPath>
<g clip-path="url(#cp4)">
<polyline points="396.2,418 396.5,515.5 396.8,548 397.2,564.25 397.5,535 397.9,548 398.2,557.29 398.5,564.25 398.9,548 399.2,554.5 399.6,559.82 399.9,564.25 400.3,553 400.6,557.29 400.9,561 401.3,564.25 401.6,555.65 402,558.83 402.3,561.68 402.6,564.25 403,555.6 403.3,548.12 403.7,541.63 404,535.99 404.3,531.07 404.7,526.78 405,523.03 405.4,519.73 405.7,516.83 406.1,514.27 406.4,512.01 406.7,509.99 407.1,508.2 407.4,506.6 407.8,505.17 408.1,503.88 408.4,502.71 408.8,501.66 409.1,500.71 409.5,499.84 409.8,499.05 410.1,498.33 410.5,497.66 410.8,497.05 411.2,496.49 411.5,495.97 411.8,495.49 412.2,495.05 412.5,494.64 412.9,494.25 413.2,493.9 413.6,493.56 413.9,493.25 414.2,492.96 414.6,492.69 414.9,492.43 415.3,492.19 415.6,491.97 415.9,491.75 416.3,491.55 417,491.19 417.6,490.87 418.3,490.58 419,490.33 419.7,490.1 420.4,489.89 421.1,489.71 421.7,489.55 422.4,489.4 423.1,489.27 423.8,489.15 424.5,489.04 425.1,488.94 425.8,488.86 426.5,488.78 427.2,488.7 427.9,488.64 428.6,488.58 429.2,488.52 429.9,488.48 430.6,488.43 431.3,488.39 432,488.35 432.6,488.31 433.3,488.28 434,488.25 434.7,488.22 435.4,488.19 436.1,488.17 436.7,488.15 437.4,488.12 438.1,488.1 438.8,488.08 439.5,488.06 440.1,488.04 440.8,488.02 441.5,488.01 442.2,487.99 442.9,487.97 443.6,487.96 445.3,487.92 447,487.89 448.7,487.85 450.4,487.82 452.1,487.79 453.8,487.76 455.5,487.74 457.2,487.71 458.9,487.69 460.6,487.66 462.3,487.64 464,487.62 465.7,487.6 467.4,487.58 469.1,487.57 470.8,487.55 472.5,487.54 474.2,487.53 476,487.51 477.7,487.5 479.4,487.49 481.1,487.48 482.8,487.48 484.5,487.47 486.2,487.46 487.9,487.46 489.6,487.45 491.3,487.45 493,487.44 494.7,487.44 496.4,487.44 498.1,487.43 499.8,487.43 501.5,487.43 503.2,487.43 504.9,487.43 506.6,487.43 508.4,487.42 510.1,487.42 511.8,487.42 513.5,487.42 515.2,487.42 516.9,487.42 518.6,487.42 520.3,487.42 522,487.42 523.7,487.42 525.4,487.42 527.1,487.42 528.8,487.42 530.5,487.42 532.2,487.42 533.9,487.42 535.6,487.42 537.3,487.42 539,487.42 540.7,487.42 542.5,487.42 544.2,487.42 545.9,487.42 547.6,487.42 549.3,487.42 551,487.42 552.7,487.42 554.4,487.42 556.1,487.42 557.8,487.42 559.5,487.42 561.2,487.42 562.9,487.42 564.6,487.42 566.3,487.42" fill="none" stroke="#000000" stroke-width="2.75" stroke-linecap="round" stroke-linejoin="round"/>
<polygon points="402.6,564.2 403,558.3 403.3,552.2 403.7,546.3 404,540.4 404.3,534 404.7,530 405,526.4 405.4,520.7 405.7,517.1 406.1,512.3 406.4,509.9 406.7,506.7 407.1,504.8 407.4,499.8 407.8,499 408.1,496.7 408.4,493.8 408.8,491.7 409.1,489.3 409.5,486.4 409.8,484 410.1,484.6 410.5,482.6 410.8,480.7 411.2,479.6 411.5,479.4 411.8,475.3 412.2,475 412.5,474.1 412.9,472 413.2,469.7 413.6,469.4 413.9,469.2 414.2,469.3 414.6,468.5 414.9,467 415.3,464.4 415.6,463.7 415.9,462.4 416.3,461.8 416.6,461 417,460 417.3,461.5 417.6,461.5 418,461.6 418.3,461 418.7,460.4 419,459.8 419.3,459.1 419.7,457.5 420,457 420.4,457.3 420.7,457 421.1,454.2 421.4,453.6 421.7,452.5 422.1,453.2 422.4,451.7 422.8,451.3 423.1,450.2 423.4,450 423.8,449.8 424.1,449.5 424.5,451.3 424.8,450.1 425.1,449.8 425.5,450.7 425.8,452.1 426.2,452.4 426.5,453.5 426.9,454.2 427.2,452.4 427.5,451.9 427.9,451.6 428.2,453.2 428.6,452.6 428.9,451.8 429.2,452.6 429.6,452.4 429.9,451.9 430.3,452.3 430.6,453 430.9,453.3 431.3,453.2 431.6,450.7 432,453 432.3,453.3 432.6,452.7 433,454 433.3,452.5 433.7,453.8 434,452 434.4,452.5 434.7,452 435,451.3 435.4,450.7 435.7,452.1 436.1,453.3 436.4,453 436.7,451.9 437.4,451.2 438.1,453.3 438.8,453.2 439.5,453.4 440.1,454 440.8,454.5 441.5,454.5 442.2,453.8 442.9,454.9 443.6,456.9 444.2,459.3 444.9,459.1 445.6,458.6 446.3,459.3 447,458.5 447.7,460.9 448.3,459.8 449,459.8 449.7,459.4 450.4,460 451.1,460.3 451.7,459.3 452.4,460.5 453.1,459.4 453.8,459.3 454.5,460.4 455.2,459.5 455.8,459.2 456.5,459.9 457.2,460 457.9,460.5 458.6,459.9 459.2,460.2 459.9,459.9 460.6,460.3 461.3,459.9 462,458.4 462.7,458.8 463.3,458.4 464,458.9 464.7,458 465.4,459.1 466.1,458.4 466.7,458.1 467.4,457.9 468.1,458.5 468.8,459.2 469.5,458.3 470.2,458.6 470.8,458.8 471.5,459.1 472.2,459.2 472.9,460.1 473.6,460.5 474.2,461 474.9,460.5 475.6,460.9 476.3,460.8 477,461.6 477.7,462 478.3,461 479,461.2 479.7,461.2 480.4,461.8 481.1,461.2 481.8,461.2 482.4,460.3 483.1,460.3 483.8,460.8 484.5,460.7 485.2,460.9 485.8,461.3 486.5,461.4 487.2,461.7 487.9,462 488.6,462.5 489.3,461.4 489.9,462.3 490.6,462.7 491.3,462.4 492,463.3 492.7,462.9 493.3,463.9 494,463.6 494.7,464.7 495.4,463.7 496.1,464 496.8,464 497.4,464.4 498.1,464 498.8,464.7 499.5,464.3 500.2,464.2 500.8,463.9 501.5,464.1 502.2,464 502.9,463.7 503.6,463.7 504.3,463.7 504.9,464.3 505.6,463.1 506.3,463.2 507,462.7 507.7,463.2 508.4,463.7 509,463.7 509.7,464.2 510.4,464 511.1,464.4 511.8,464.3 512.4,464.6 513.1,464.7 513.8,465.2 514.5,465.6 515.2,465.4 515.9,465.4 516.5,466 517.2,465.3 517.9,465.6 518.6,465.7 519.3,466 519.9,466.2 520.6,466.1 521.3,466.1 522,465.9 522.7,465.9 523.4,466.2 524,465.6 524.7,465.6 525.4,465.5 526.1,465.7 526.8,465.1 527.4,465.1 528.1,464.6 528.8,465 529.5,465.1 530.2,465.8 530.9,466.1 531.5,466.7 532.2,466.6 532.9,467.1 533.6,467 534.3,467.6 534.9,468.3 535.6,468.4 536.3,468.1 537,468.3 537.7,468.6 538.4,468.4 539,467.9 539.7,468.4 540.4,468.3 541.1,468.4 541.8,468.2 542.5,468.5 543.1,469.2 543.8,468.6 544.5,469 545.2,468.7 545.9,468.7 546.5,468.7 547.2,468.3 547.9,469 548.6,469.5 549.3,469.4 550,469 550.6,469.3 551.3,469 552,469.3 552.7,469.7 553.4,469.5 554,469.3 554.7,470 555.4,469.9 556.1,470.2 556.8,469.7 557.5,469.9 558.1,469.6 558.8,469.4 559.5,469.6 560.2,469.3 560.9,469.1 561.5,469.6 562.2,468.8 562.9,469.5 563.6,469.1 564.3,469.4 565,469 565.6,469.3 566.3,469.2 566.3,510 565.6,510.5 565,510.5 564.3,510.1 563.6,509.6 562.9,509.2 562.2,509.6 561.5,510.1 560.9,509.8 560.2,509.3 559.5,509.2 558.8,509.4 558.1,509.5 557.5,509.3 556.8,508.7 556.1,509.1 555.4,509 554.7,509.2 554,509.4 553.4,509.6 552.7,508.9 552,509.6 551.3,510.3 550.6,510.2 550,510.4 549.3,510.7 548.6,511 547.9,510.9 547.2,510.8 546.5,510.6 545.9,510.8 545.2,510.7 544.5,509.8 543.8,509.6 543.1,510.1 542.5,510.7 541.8,510 541.1,509.6 540.4,509.1 539.7,509.1 539,508.9 538.4,508.6 537.7,508.7 537,509.4 536.3,509.2 535.6,509.2 534.9,509.1 534.3,508.4 533.6,508.7 532.9,509.4 532.2,509.1 531.5,508.8 530.9,508.7 530.2,509 529.5,508.8 528.8,509.2 528.1,509.3 527.4,509.2 526.8,509 526.1,509.6 525.4,508.9 524.7,508.6 524,509 523.4,509.7 522.7,510.3 522,510.2 521.3,509.7 520.6,509.8 519.9,509.9 519.3,509.9 518.6,509.7 517.9,509.8 517.2,510.1 516.5,510.3 515.9,510.9 515.2,511.4 514.5,510.6 513.8,511.3 513.1,511.8 512.4,511.2 511.8,512 511.1,511.7 510.4,512.2 509.7,512.1 509,512.4 508.4,512.3 507.7,512.5 507,513.3 506.3,513.3 505.6,513 504.9,513.5 504.3,513.1 503.6,512.3 502.9,512.4 502.2,513.4 501.5,513.4 500.8,513.2 500.2,513.4 499.5,513.5 498.8,513.5 498.1,513.8 497.4,514.7 496.8,514.9 496.1,514.3 495.4,514.8 494.7,514.7 494,514.6 493.3,515.4 492.7,516 492,515.8 491.3,515.5 490.6,516.4 489.9,517 489.3,517.5 488.6,517.1 487.9,516.3 487.2,517.5 486.5,518 485.8,517.8 485.2,517 484.5,517.2 483.8,516.8 483.1,516.4 482.4,516.9 481.8,516.4 481.1,515.8 480.4,516.1 479.7,515.6 479,514.6 478.3,515.1 477.7,515.6 477,514.7 476.3,515.4 475.6,516.4 474.9,516.1 474.2,516.3 473.6,516.3 472.9,516.3 472.2,516.7 471.5,517.2 470.8,517.1 470.2,518.3 469.5,518.4 468.8,519.2 468.1,519.4 467.4,518.9 466.7,520 466.1,519.7 465.4,520.7 464.7,521.2 464,520.7 463.3,521.3 462.7,520.4 462,521.2 461.3,522.2 460.6,522.3 459.9,522.1 459.2,522.8 458.6,523.3 457.9,522.4 457.2,522.8 456.5,523 455.8,523.3 455.2,524.9 454.5,524.9 453.8,525.8 453.1,525 452.4,525.5 451.7,525.1 451.1,525.2 450.4,525.5 449.7,527 449,527.8 448.3,528.4 447.7,528.5 447,529.5 446.3,529.7 445.6,530.9 444.9,531.1 444.2,532 443.6,533.7 442.9,534.2 442.2,534.9 441.5,535.7 440.8,534.5 440.1,533.7 439.5,535.8 438.8,535.9 438.1,534.9 437.4,535.3 436.7,533.3 436.4,534.6 436.1,533.8 435.7,534.2 435.4,535.1 435,534.5 434.7,535.4 434.4,534.3 434,535 433.7,536.1 433.3,537.3 433,537.6 432.6,537 432.3,539 432,537.9 431.6,537.9 431.3,537.3 430.9,536.3 430.6,535.5 430.3,536 429.9,536.4 429.6,535.8 429.2,536 428.9,536.3 428.6,534.6 428.2,535.4 427.9,534.5 427.5,535.6 427.2,534.5 426.9,532.9 426.5,532.9 426.2,532.9 425.8,533.3 425.5,533 425.1,533.5 424.8,531.2 424.5,532.6 424.1,534.4 423.8,534.5 423.4,534.1 423.1,534.6 422.8,533.6 422.4,533.7 422.1,533.8 421.7,533.1 421.4,534.7 421.1,535.7 420.7,534.5 420.4,534.6 420,535.9 419.7,537.2 419.3,535.7 419,536.1 418.7,535.7 418.3,536.8 418,536.8 417.6,537.6 417.3,539.1 417,541.5 416.6,541.2 416.3,540.8 415.9,541.2 415.6,542.5 415.3,542.5 414.9,545.6 414.6,545.1 414.2,544.5 413.9,545 413.6,546.2 413.2,546.5 412.9,547.1 412.5,549 412.2,549.1 411.8,551.3 411.5,550.3 411.2,550.7 410.8,554 410.5,554 410.1,552.6 409.8,554.3 409.5,553.2 409.1,554 408.8,555.2 408.4,555.8 408.1,556.4 407.8,557.8 407.4,560.2 407.1,561.5 406.7,562.9 406.4,560.7 406.1,564.1 405.7,563.3 405.4,564.8 405,565.4 404.7,566.3 404.3,565.6 404,565.9 403.7,566 403.3,565.3 403,564.7 402.6,564.2" fill="#000000" fill-opacity="0.15"/>
<polyline points="396.2,613 396.5,515.5 396.8,548 397.2,564.25 397.5,574 397.9,548 398.2,557.29 398.5,564.25 398.9,569.67 399.2,554.5 399.6,559.82 399.9,564.25 400.3,568 400.6,557.29 400.9,561 401.3,564.25 401.6,567.12 402,558.83 402.3,561.68 402.6,564.25 403,566.67 403.3,568.72 403.7,570.46 404,571.93 404.3,573.18 404.7,574.25 405,575.15 405.4,575.91 405.7,576.56 406.1,577.12 406.4,577.59 406.7,577.99 407.1,578.33 407.4,578.63 407.8,578.88 408.1,579.09 408.4,579.27 408.8,579.43 409.1,579.57 409.5,579.69 409.8,579.79 410.1,579.88 410.5,579.95 410.8,580.02 411.2,580.08 411.5,580.13 411.8,580.18 412.2,580.22 412.5,580.25 412.9,580.29 413.2,580.32 413.6,580.34 413.9,580.37 414.2,580.39 414.6,580.41 414.9,580.43 415.3,580.45 415.6,580.47 415.9,580.48 416.3,580.5 417,580.53 417.6,580.55 418.3,580.58 419,580.6 419.7,580.62 420.4,580.64 421.1,580.66 421.7,580.68 422.4,580.7 423.1,580.72 423.8,580.73 424.5,580.75 425.1,580.76 425.8,580.78 426.5,580.79 427.2,580.81 427.9,580.82 428.6,580.83 429.2,580.85 429.9,580.86 430.6,580.87 431.3,580.88 432,580.89 432.6,580.9 433.3,580.91 434,580.92 434.7,580.93 435.4,580.94 436.1,580.95 436.7,580.96 437.4,580.97 438.1,580.98 438.8,580.98 439.5,580.99 440.1,581 440.8,581.01 441.5,581.01 442.2,581.02 442.9,581.03 443.6,581.03 445.3,581.05 447,581.06 448.7,581.07 450.4,581.08 452.1,581.09 453.8,581.1 455.5,581.11 457.2,581.12 458.9,581.13 460.6,581.14 462.3,581.14 464,581.15 465.7,581.15 467.4,581.16 469.1,581.16 470.8,581.17 472.5,581.17 474.2,581.17 476,581.18 477.7,581.18 479.4,581.18 481.1,581.19 482.8,581.19 484.5,581.19 486.2,581.19 487.9,581.19 489.6,581.2 491.3,581.2 493,581.2 494.7,581.2 496.4,581.2 498.1,581.2 499.8,581.2 501.5,581.2 503.2,581.21 504.9,581.21 506.6,581.21 508.4,581.21 510.1,581.21 511.8,581.21 513.5,581.21 515.2,581.21 516.9,581.21 518.6,581.21 520.3,581.21 522,581.21 523.7,581.21 525.4,581.21 527.1,581.21 528.8,581.21 530.5,581.21 532.2,581.21 533.9,581.21 535.6,581.21 537.3,581.21 539,581.21 540.7,581.21 542.5,581.21 544.2,581.21 545.9,581.21 547.6,581.21 549.3,581.21 551,581.21 552.7,581.21 554.4,581.21 556.1,581.21 557.8,581.21 559.5,581.21 561.2,581.21 562.9,581.21 564.6,581.21 566.3,581.21" fill="none" stroke="#DF536B" stroke-width="2.75" stroke-linecap="round" stroke-linejoin="round"/>
<polygon points="402.6,564.2 403,560 403.3,555.8 403.7,551.5 404,546.9 404.3,542.9 404.7,542.1 405,541.1 405.4,539.3 405.7,539.4 406.1,538.1 406.4,536.3 406.7,535.2 407.1,534.9 407.4,534.7 407.8,535.6 408.1,534.5 408.4,534.8 408.8,533.1 409.1,533.1 409.5,533.4 409.8,533.5 410.1,533.9 410.5,534.3 410.8,535.2 411.2,535.8 411.5,535.4 411.8,536.8 412.2,536.9 412.5,537.1 412.9,539 413.2,539.3 413.6,540.9 413.9,541.4 414.2,540.4 414.6,539.6 414.9,540.2 415.3,542.4 415.6,541.7 415.9,541.7 416.3,542.8 416.6,542.5 417,543 417.3,542.3 417.6,542.4 418,544 418.3,543.1 418.7,543.1 419,543.6 419.3,545.9 419.7,544.8 420,545.2 420.4,546 420.7,546.4 421.1,547.1 421.4,547.7 421.7,547.8 422.1,548.1 422.4,548.6 422.8,549.4 423.1,547.7 423.4,549.5 423.8,549.5 424.1,547.5 424.5,548.4 424.8,548 425.1,548.1 425.5,547.8 425.8,546.6 426.2,545.9 426.5,546.6 426.9,545.4 427.2,545.2 427.5,543.7 427.9,544.7 428.2,544.8 428.6,544.3 428.9,545.3 429.2,544.5 429.6,545.2 429.9,546.8 430.3,545.5 430.6,546.6 430.9,546.7 431.3,547.4 431.6,546.8 432,548.9 432.3,548.5 432.6,548.5 433,548.6 433.3,548.4 433.7,548.5 434,548.9 434.4,550.1 434.7,549.9 435,550.1 435.4,550.3 435.7,551.3 436.1,551.3 436.4,552 436.7,551.7 437.4,550.7 438.1,552.6 438.8,552.5 439.5,550.9 440.1,551.6 440.8,552.2 441.5,553.7 442.2,554 442.9,553.2 443.6,553.3 444.2,553.3 444.9,554 445.6,555.1 446.3,555.1 447,555.2 447.7,555.6 448.3,555.5 449,556.3 449.7,557.3 450.4,557.3 451.1,557.6 451.7,557.2 452.4,558.2 453.1,558.3 453.8,558.4 454.5,559.1 455.2,558.1 455.8,558.5 456.5,558.9 457.2,559.2 457.9,559.1 458.6,559.4 459.2,559.8 459.9,560.1 460.6,560.5 461.3,560.2 462,560.8 462.7,560.5 463.3,560.8 464,561.1 464.7,561.4 465.4,562 466.1,561.3 466.7,561.3 467.4,561.2 468.1,561.6 468.8,562 469.5,562.2 470.2,562.7 470.8,562 471.5,562.8 472.2,562.6 472.9,563.1 473.6,562.8 474.2,562.9 474.9,563.2 475.6,562.7 476.3,562.4 477,562.4 477.7,562.2 478.3,562.5 479,562.4 479.7,562.2 480.4,563.1 481.1,563.1 481.8,562.9 482.4,562.4 483.1,562.6 483.8,562.6 484.5,562.9 485.2,563.2 485.8,562.9 486.5,563.1 487.2,562.7 487.9,563.3 488.6,563.7 489.3,563.7 489.9,563.6 490.6,563.7 491.3,562.8 492,563.9 492.7,563.5 493.3,563.7 494,564.1 494.7,564.7 495.4,565 496.1,564.6 496.8,565 497.4,565.3 498.1,565.3 498.8,566.3 499.5,566.2 500.2,566.6 500.8,566.8 501.5,566.1 502.2,566.1 502.9,566.1 503.6,565.7 504.3,566.1 504.9,566.4 505.6,565.7 506.3,565.7 507,565.8 507.7,565.6 508.4,565.9 509,565.9 509.7,565.7 510.4,565.6 511.1,565.6 511.8,565.5 512.4,565.9 513.1,566.2 513.8,566.2 514.5,566.2 515.2,566.2 515.9,565.7 516.5,566.4 517.2,566.4 517.9,566.8 518.6,566.6 519.3,566.9 519.9,566.6 520.6,566.8 521.3,567.3 522,567.5 522.7,567.7 523.4,567.5 524,567.5 524.7,567 525.4,567.2 526.1,567.3 526.8,567.3 527.4,567.5 528.1,567.2 528.8,566.7 529.5,566.8 530.2,566.8 530.9,566.9 531.5,566.8 532.2,567 532.9,567.5 533.6,566.7 534.3,567 534.9,566.8 535.6,566.5 536.3,566.6 537,567 537.7,567.3 538.4,567.2 539,567.4 539.7,567.4 540.4,567.4 541.1,567.5 541.8,568 542.5,568.2 543.1,568.3 543.8,567.9 544.5,567.8 545.2,568.4 545.9,568.4 546.5,568.8 547.2,568.7 547.9,568.6 548.6,568.7 549.3,568.6 550,568.4 550.6,568 551.3,567.6 552,567.4 552.7,567.2 553.4,567.2 554,567.1 554.7,566.8 555.4,566.4 556.1,566.1 556.8,565.9 557.5,566.5 558.1,566.4 558.8,566.3 559.5,566.2 560.2,566.2 560.9,566.3 561.5,566.6 562.2,566.2 562.9,566.7 563.6,566.6 564.3,567.1 565,566.6 565.6,566.9 566.3,567 566.3,593.5 565.6,593.5 565,593.4 564.3,593.5 563.6,593.5 562.9,593.4 562.2,593.4 561.5,593.4 560.9,593.3 560.2,593.3 559.5,593.6 558.8,593.7 558.1,593.6 557.5,593.5 556.8,593.7 556.1,593.6 555.4,593.6 554.7,593.4 554,593.7 553.4,593.8 552.7,593.7 552,593.6 551.3,593.7 550.6,593.6 550,593.7 549.3,593.6 548.6,593.5 547.9,593.6 547.2,593.8 546.5,593.7 545.9,593.5 545.2,593.5 544.5,593.5 543.8,593.6 543.1,593.4 542.5,593.8 541.8,593.6 541.1,593.6 540.4,593.8 539.7,593.7 539,593.7 538.4,593.6 537.7,593.7 537,594 536.3,593.8 535.6,593.7 534.9,593.7 534.3,594 533.6,593.9 532.9,593.8 532.2,593.7 531.5,593.6 530.9,593.6 530.2,593.9 529.5,593.9 528.8,593.7 528.1,593.8 527.4,593.7 526.8,593.8 526.1,593.8 525.4,594 524.7,593.9 524,594.1 523.4,594.1 522.7,594.1 522,593.9 521.3,594 520.6,593.8 519.9,594 519.3,594.1 518.6,594 517.9,594.2 517.2,594.2 516.5,594.1 515.9,593.9 515.2,594 514.5,593.9 513.8,594 513.1,594.2 512.4,593.9 511.8,594 511.1,594.2 510.4,594.2 509.7,594.5 509,594.3 508.4,594.2 507.7,594.5 507,594.5 506.3,594.5 505.6,594.6 504.9,594.5 504.3,594.6 503.6,594.6 502.9,594.7 502.2,595.1 501.5,594.6 500.8,594.9 500.2,594.9 499.5,594.9 498.8,595.1 498.1,595 497.4,595.2 496.8,595.1 496.1,595.3 495.4,595.1 494.7,595.4 494,595.2 493.3,595.2 492.7,595.6 492,595.6 491.3,595.6 490.6,595.5 489.9,595.8 489.3,595.9 488.6,596 487.9,595.9 487.2,595.7 486.5,595.9 485.8,595.9 485.2,596.2 484.5,595.9 483.8,596.3 483.1,596.5 482.4,596.3 481.8,596.2 481.1,596.5 480.4,596.4 479.7,596.2 479,596.6 478.3,596.7 477.7,596.8 477,596.6 476.3,597 475.6,596.3 474.9,596.4 474.2,596.7 473.6,596.8 472.9,596.7 472.2,596.9 471.5,596.9 470.8,597 470.2,597 469.5,597.3 468.8,597 468.1,596.8 467.4,596.7 466.7,596.9 466.1,597.2 465.4,597.1 464.7,596.9 464,597.2 463.3,597.6 462.7,597.5 462,597.4 461.3,597.9 460.6,598.3 459.9,598.4 459.2,598.5 458.6,598.5 457.9,598.5 457.2,598.6 456.5,599 455.8,599.2 455.2,599.3 454.5,599.2 453.8,599.3 453.1,599.7 452.4,600.2 451.7,600.4 451.1,600.6 450.4,600.7 449.7,600.9 449,601.5 448.3,601.8 447.7,601.5 447,602.4 446.3,602.9 445.6,602.7 444.9,601.8 444.2,602 443.6,601.6 442.9,602.3 442.2,602.7 441.5,602.7 440.8,602.7 440.1,601.8 439.5,601.9 438.8,602.5 438.1,601.9 437.4,602.1 436.7,601.9 436.4,601.2 436.1,601.8 435.7,601.5 435.4,601.8 435,602.3 434.7,601.9 434.4,601.7 434,601.6 433.7,601.1 433.3,601.3 433,601 432.6,601.2 432.3,601.5 432,601.7 431.6,601.7 431.3,601.7 430.9,602.2 430.6,601.4 430.3,601.5 429.9,602.1 429.6,601.6 429.2,601.5 428.9,601.3 428.6,601.3 428.2,601.2 427.9,601.1 427.5,600.8 427.2,601.2 426.9,600.9 426.5,600.1 426.2,599.9 425.8,599.9 425.5,600.5 425.1,600.7 424.8,600.2 424.5,600.3 424.1,599.7 423.8,599.6 423.4,600 423.1,600.3 422.8,600 422.4,599.1 422.1,598.9 421.7,598.8 421.4,599.1 421.1,598.2 420.7,598.7 420.4,598.2 420,598.5 419.7,598 419.3,597.4 419,598.4 418.7,597.4 418.3,598 418,598.1 417.6,597.7 417.3,597 417,596.6 416.6,596.2 416.3,595.8 415.9,595.2 415.6,595.6 415.3,594.8 414.9,595 414.6,595.1 414.2,595.1 413.9,594.6 413.6,594.7 413.2,593.6 412.9,592.5 412.5,592.6 412.2,592.3 411.8,592.4 411.5,592.9 411.2,592.4 410.8,592.8 410.5,592.3 410.1,590.6 409.8,590 409.5,588.8 409.1,587.3 408.8,586.9 408.4,586.7 408.1,584.7 407.8,584 407.4,583.4 407.1,582.3 406.7,581.1 406.4,581 406.1,580.1 405.7,578.4 405.4,576.6 405,575.3 404.7,573.9 404.3,572.1 404,570.6 403.7,568.9 403.3,567.4 403,565.8 402.6,564.2" fill="#DF536B" fill-opacity="0.15"/>
<polyline points="396.2,613 396.5,613 396.8,548 397.2,564.25 397.5,574 397.9,580.5 398.2,557.29 398.5,564.25 398.9,569.67 399.2,574 399.6,559.82 399.9,564.25 400.3,568 400.6,571.21 400.9,561 401.3,564.25 401.6,567.12 402,569.67 402.3,561.68 402.6,564.25 403,566.64 403.3,568.86 403.7,570.92 404,572.83 404.3,574.61 404.7,576.26 405,577.79 405.4,579.21 405.7,580.52 406.1,581.75 406.4,582.89 406.7,583.94 407.1,584.92 407.4,585.83 407.8,586.68 408.1,587.47 408.4,588.2 408.8,588.88 409.1,589.51 409.5,590.1 409.8,590.65 410.1,591.16 410.5,591.63 410.8,592.07 411.2,592.48 411.5,592.87 411.8,593.22 412.2,593.55 412.5,593.86 412.9,594.15 413.2,594.42 413.6,594.67 413.9,594.9 414.2,595.12 414.6,595.32 414.9,595.51 415.3,595.69 415.6,595.85 415.9,596.01 416.3,596.15 417,596.41 417.6,596.64 418.3,596.84 419,597.01 419.7,597.17 420.4,597.3 421.1,597.42 421.7,597.53 422.4,597.62 423.1,597.7 423.8,597.78 424.5,597.84 425.1,597.9 425.8,597.95 426.5,598 427.2,598.04 427.9,598.08 428.6,598.11 429.2,598.14 429.9,598.17 430.6,598.19 431.3,598.22 432,598.24 432.6,598.25 433.3,598.27 434,598.29 434.7,598.3 435.4,598.31 436.1,598.33 436.7,598.34 437.4,598.35 438.1,598.36 438.8,598.36 439.5,598.37 440.1,598.38 440.8,598.39 441.5,598.39 442.2,598.4 442.9,598.4 443.6,598.41 445.3,598.42 447,598.43 448.7,598.43 450.4,598.44 452.1,598.44 453.8,598.45 455.5,598.45 457.2,598.46 458.9,598.46 460.6,598.46 462.3,598.46 464,598.46 465.7,598.47 467.4,598.47 469.1,598.47 470.8,598.47 472.5,598.47 474.2,598.47 476,598.47 477.7,598.47 479.4,598.47 481.1,598.47 482.8,598.47 484.5,598.47 486.2,598.47 487.9,598.47 489.6,598.47 491.3,598.47 493,598.47 494.7,598.47 496.4,598.47 498.1,598.47 499.8,598.47 501.5,598.47 503.2,598.47 504.9,598.47 506.6,598.47 508.4,598.47 510.1,598.47 511.8,598.47 513.5,598.47 515.2,598.47 516.9,598.47 518.6,598.47 520.3,598.47 522,598.47 523.7,598.47 525.4,598.47 527.1,598.47 528.8,598.47 530.5,598.47 532.2,598.47 533.9,598.47 535.6,598.47 537.3,598.47 539,598.47 540.7,598.47 542.5,598.47 544.2,598.47 545.9,598.47 547.6,598.47 549.3,598.47 551,598.47 552.7,598.47 554.4,598.47 556.1,598.47 557.8,598.47 559.5,598.47 561.2,598.47 562.9,598.47 564.6,598.47 566.3,598.47" fill="none" stroke="#61D04F" stroke-width="2.75" stroke-linecap="round" stroke-linejoin="round"/>
<polygon points="402.6,564.2 403,563.8 403.3,563.3 403.7,562.9 404,562.8 404.3,562.4 404.7,561.7 405,561.6 405.4,561.6 405.7,560.8 406.1,560.8 406.4,561.5 406.7,561.9 407.1,561.9 407.4,562.5 407.8,564 408.1,564 408.4,564.2 408.8,565.5 409.1,566.3 409.5,567.3 409.8,567.3 410.1,567.4 410.5,566.9 410.8,567.1 411.2,567.8 411.5,568 411.8,568.7 412.2,569.3 412.5,569.8 412.9,569.8 413.2,570.5 413.6,572.2 413.9,571.4 414.2,572.4 414.6,572.7 414.9,574.1 415.3,573.9 415.6,575.2 415.9,574.8 416.3,575.2 416.6,575.4 417,576.1 417.3,576.5 417.6,576.6 418,576.6 418.3,576.9 418.7,577.1 419,577.7 419.3,578.4 419.7,578.4 420,578.4 420.4,579.1 420.7,579 421.1,579.6 421.4,579.2 421.7,579.6 422.1,579.8 422.4,581.2 422.8,580.7 423.1,580.7 423.4,581 423.8,581.3 424.1,582.1 424.5,582.2 424.8,582.4 425.1,582.8 425.5,582.9 425.8,583 426.2,583.4 426.5,583.2 426.9,583.2 427.2,583.4 427.5,583.4 427.9,584.2 428.2,584.1 428.6,584.2 428.9,584 429.2,584.2 429.6,585.1 429.9,585.2 430.3,584.9 430.6,584.9 430.9,584.9 431.3,585.2 431.6,584.7 432,585.1 432.3,585 432.6,585.1 433,584.9 433.3,585 433.7,584.9 434,585.2 434.4,584.8 434.7,585.2 435,585.9 435.4,586.4 435.7,586.5 436.1,586.3 436.4,586.3 436.7,586.6 437.4,586.7 438.1,586.4 438.8,586.7 439.5,586.5 440.1,587.1 440.8,586.7 441.5,587.3 442.2,586.5 442.9,586.3 443.6,586.7 444.2,586.8 444.9,587.3 445.6,587.5 446.3,587.8 447,587.9 447.7,587.8 448.3,587.9 449,587.9 449.7,587.6 450.4,588 451.1,588.2 451.7,588.4 452.4,588.1 453.1,587.9 453.8,588.3 454.5,587.9 455.2,588 455.8,588.7 456.5,588.3 457.2,588.5 457.9,588.7 458.6,589 459.2,588.7 459.9,588.7 460.6,588.5 461.3,588.7 462,588.9 462.7,589.5 463.3,589.3 464,589.3 464.7,589.2 465.4,589.2 466.1,589.2 466.7,589.7 467.4,589.4 468.1,589.2 468.8,589.7 469.5,589.8 470.2,589.8 470.8,589.5 471.5,589.5 472.2,589.5 472.9,589.5 473.6,589.3 474.2,589.4 474.9,589.7 475.6,589.8 476.3,589.8 477,589.7 477.7,589.8 478.3,589.9 479,589.8 479.7,590 480.4,590.1 481.1,589.8 481.8,589.7 482.4,589.9 483.1,589.8 483.8,589.7 484.5,589.6 485.2,589.7 485.8,589.9 486.5,589.8 487.2,589.6 487.9,589.7 488.6,590.1 489.3,590.3 489.9,590.1 490.6,590.1 491.3,590.4 492,590.3 492.7,590 493.3,590.1 494,590.2 494.7,590 495.4,590.3 496.1,590.2 496.8,590.2 497.4,590.1 498.1,590.2 498.8,590.1 499.5,590.2 500.2,590.4 500.8,590.1 501.5,590 502.2,590 502.9,590.1 503.6,590.1 504.3,589.9 504.9,590 505.6,590.1 506.3,590.1 507,590 507.7,590 508.4,590.2 509,590 509.7,590 510.4,590.1 511.1,590 511.8,590.2 512.4,590.3 513.1,590.5 513.8,590.3 514.5,590.3 515.2,589.9 515.9,590.3 516.5,590.1 517.2,590.3 517.9,590.3 518.6,590.2 519.3,589.9 519.9,589.9 520.6,590.3 521.3,590.2 522,590.3 522.7,590.4 523.4,590.1 524,590.2 524.7,590.2 525.4,590.2 526.1,590.2 526.8,590.2 527.4,590.3 528.1,590 528.8,590 529.5,590 530.2,590.1 530.9,590 531.5,590 532.2,590.1 532.9,590.1 533.6,590.1 534.3,590.3 534.9,590.3 535.6,590.2 536.3,590.2 537,590.3 537.7,590.2 538.4,590.2 539,590.3 539.7,590.4 540.4,590.2 541.1,590.1 541.8,590.4 542.5,590.4 543.1,590.4 543.8,590.1 544.5,590.4 545.2,590.2 545.9,590.3 546.5,590.4 547.2,590.2 547.9,590.3 548.6,590.2 549.3,590.1 550,590.1 550.6,590.1 551.3,590.2 552,590.2 552.7,590.2 553.4,590.3 554,590.3 554.7,590.4 555.4,590.3 556.1,590.3 556.8,590.4 557.5,590.3 558.1,590 558.8,590.2 559.5,590.1 560.2,590 560.9,590.2 561.5,590.1 562.2,590.3 562.9,590.4 563.6,590.1 564.3,590.1 565,590.1 565.6,590.1 566.3,590.2 566.3,605.6 565.6,605.6 565,605.6 564.3,605.6 563.6,605.6 562.9,605.6 562.2,605.7 561.5,605.7 560.9,605.6 560.2,605.6 559.5,605.6 558.8,605.6 558.1,605.5 557.5,605.5 556.8,605.6 556.1,605.6 555.4,605.6 554.7,605.6 554,605.7 553.4,605.7 552.7,605.7 552,605.6 551.3,605.7 550.6,605.6 550,605.6 549.3,605.6 548.6,605.7 547.9,605.7 547.2,605.7 546.5,605.7 545.9,605.7 545.2,605.6 544.5,605.6 543.8,605.6 543.1,605.6 542.5,605.7 541.8,605.7 541.1,605.6 540.4,605.6 539.7,605.8 539,605.7 538.4,605.7 537.7,605.6 537,605.7 536.3,605.7 535.6,605.6 534.9,605.8 534.3,605.7 533.6,605.7 532.9,605.7 532.2,605.7 531.5,605.7 530.9,605.8 530.2,605.9 529.5,605.8 528.8,605.9 528.1,605.9 527.4,605.9 526.8,605.7 526.1,605.7 525.4,605.7 524.7,605.7 524,605.6 523.4,605.7 522.7,605.6 522,605.8 521.3,605.6 520.6,605.8 519.9,605.9 519.3,605.9 518.6,605.8 517.9,605.8 517.2,605.7 516.5,605.7 515.9,605.6 515.2,605.8 514.5,605.7 513.8,605.7 513.1,605.8 512.4,605.7 511.8,605.9 511.1,605.8 510.4,605.7 509.7,605.6 509,605.8 508.4,605.6 507.7,605.6 507,605.7 506.3,605.7 505.6,605.7 504.9,605.7 504.3,605.7 503.6,605.6 502.9,605.8 502.2,605.8 501.5,605.7 500.8,605.7 500.2,605.8 499.5,605.9 498.8,605.7 498.1,605.7 497.4,605.6 496.8,605.8 496.1,605.8 495.4,605.8 494.7,605.7 494,605.7 493.3,605.7 492.7,605.9 492,605.8 491.3,605.8 490.6,605.8 489.9,605.7 489.3,605.7 488.6,605.7 487.9,605.8 487.2,605.8 486.5,606 485.8,606 485.2,606.1 484.5,606 483.8,605.8 483.1,606 482.4,606.1 481.8,606 481.1,606.1 480.4,606.1 479.7,606.2 479,606.1 478.3,606.1 477.7,606.4 477,606.3 476.3,606.2 475.6,606.3 474.9,606.4 474.2,606.5 473.6,606.6 472.9,606.5 472.2,606.5 471.5,606.7 470.8,606.5 470.2,606.6 469.5,606.7 468.8,606.8 468.1,606.6 467.4,606.7 466.7,606.7 466.1,606.5 465.4,606.5 464.7,606.8 464,606.6 463.3,606.7 462.7,606.7 462,606.9 461.3,606.9 460.6,607.1 459.9,607 459.2,607 458.6,606.9 457.9,606.7 457.2,606.8 456.5,606.7 455.8,606.7 455.2,606.8 454.5,606.8 453.8,606.8 453.1,606.5 452.4,606.5 451.7,606.7 451.1,606.7 450.4,606.4 449.7,606.6 449,606.5 448.3,606.6 447.7,606.7 447,606.6 446.3,606.7 445.6,606.5 444.9,606.5 444.2,606.5 443.6,606.2 442.9,605.8 442.2,605.9 441.5,605.9 440.8,605.7 440.1,605.4 439.5,605.6 438.8,605.6 438.1,605.4 437.4,605.4 436.7,605.1 436.4,605.3 436.1,604.9 435.7,604.9 435.4,605 435,605 434.7,605 434.4,605 434,605 433.7,605 433.3,604.9 433,604.7 432.6,604.6 432.3,604.5 432,604.6 431.6,604.2 431.3,604.2 430.9,604.1 430.6,604.1 430.3,604.1 429.9,603.8 429.6,603.9 429.2,603.8 428.9,603.7 428.6,603.5 428.2,603.5 427.9,603.4 427.5,603.4 427.2,603.6 426.9,603.4 426.5,603.6 426.2,603.7 425.8,603.1 425.5,603.2 425.1,602.9 424.8,602.9 424.5,602.6 424.1,602.4 423.8,602.5 423.4,602.4 423.1,602 422.8,601.9 422.4,602.1 422.1,601.8 421.7,601.8 421.4,601.3 421.1,601.5 420.7,601.1 420.4,601.5 420,601.4 419.7,601.1 419.3,600.9 419,600.7 418.7,600.7 418.3,600.3 418,600.2 417.6,600 417.3,599.6 417,599.3 416.6,599.1 416.3,598.7 415.9,598.7 415.6,598.5 415.3,598 414.9,598 414.6,597.7 414.2,597.3 413.9,596.9 413.6,596.9 413.2,596.6 412.9,596.3 412.5,595.8 412.2,595.4 411.8,595.2 411.5,595.4 411.2,595 410.8,594.9 410.5,594.3 410.1,593.5 409.8,593.1 409.5,592.1 409.1,591.4 408.8,590.3 408.4,589.4 408.1,588.5 407.8,588 407.4,587.1 407.1,586.3 406.7,585.7 406.4,584.5 406.1,583.6 405.7,581.8 405.4,579.6 405,577.8 404.7,575.9 404.3,574 404,572.1 403.7,570.1 403.3,568.1 403,566.2 402.6,564.2" fill="#61D04F" fill-opacity="0.15"/>
<polyline points="396.2,613 396.5,613 396.8,613 397.2,564.25 397.5,574 397.9,580.5 398.2,585.14 398.5,564.25 398.9,569.67 399.2,574 399.6,577.55 399.9,564.25 400.3,568 400.6,571.21 400.9,574 401.3,564.25 401.6,567.12 402,569.67 402.3,571.95 402.6,564.25 403,566.57 403.3,568.65 403.7,570.53 404,572.22 404.3,573.75 404.7,575.12 405,576.36 405.4,577.48 405.7,578.49 406.1,579.41 406.4,580.23 406.7,580.98 407.1,581.66 407.4,582.28 407.8,582.84 408.1,583.34 408.4,583.81 408.8,584.23 409.1,584.61 409.5,584.96 409.8,585.28 410.1,585.57 410.5,585.83 410.8,586.08 411.2,586.3 411.5,586.51 411.8,586.7 412.2,586.88 412.5,587.04 412.9,587.19 413.2,587.32 413.6,587.45 413.9,587.57 414.2,587.68 414.6,587.79 414.9,587.88 415.3,587.97 415.6,588.06 415.9,588.13 416.3,588.21 417,588.34 417.6,588.46 418.3,588.57 419,588.66 419.7,588.75 420.4,588.83 421.1,588.9 421.7,588.96 422.4,589.02 423.1,589.08 423.8,589.13 424.5,589.17 425.1,589.22 425.8,589.25 426.5,589.29 427.2,589.32 427.9,589.36 428.6,589.38 429.2,589.41 429.9,589.44 430.6,589.46 431.3,589.48 432,589.5 432.6,589.52 433.3,589.54 434,589.56 434.7,589.57 435.4,589.59 436.1,589.6 436.7,589.61 437.4,589.62 438.1,589.64 438.8,589.65 439.5,589.66 440.1,589.66 440.8,589.67 441.5,589.68 442.2,589.69 442.9,589.69 443.6,589.7 445.3,589.72 447,589.73 448.7,589.74 450.4,589.75 452.1,589.75 453.8,589.76 455.5,589.77 457.2,589.77 458.9,589.77 460.6,589.78 462.3,589.78 464,589.78 465.7,589.78 467.4,589.79 469.1,589.79 470.8,589.79 472.5,589.79 474.2,589.79 476,589.79 477.7,589.79 479.4,589.79 481.1,589.79 482.8,589.79 484.5,589.79 486.2,589.79 487.9,589.79 489.6,589.79 491.3,589.79 493,589.79 494.7,589.79 496.4,589.79 498.1,589.79 499.8,589.79 501.5,589.79 503.2,589.79 504.9,589.79 506.6,589.79 508.4,589.79 510.1,589.79 511.8,589.79 513.5,589.79 515.2,589.79 516.9,589.79 518.6,589.79 520.3,589.79 522,589.79 523.7,589.79 525.4,589.79 527.1,589.79 528.8,589.79 530.5,589.79 532.2,589.79 533.9,589.79 535.6,589.79 537.3,589.79 539,589.79 540.7,589.79 542.5,589.79 544.2,589.79 545.9,589.79 547.6,589.79 549.3,589.79 551,589.79 552.7,589.79 554.4,589.79 556.1,589.79 557.8,589.79 559.5,589.79 561.2,589.79 562.9,589.79 564.6,589.79 566.3,589.79" fill="none" stroke="#2297E6" stroke-width="2.75" stroke-linecap="round" stroke-linejoin="round"/>
<polygon points="402.6,564.2 403,562 403.3,559.7 403.7,557.6 404,556 404.3,553.6 404.7,551.1 405,549.5 405.4,548.5 405.7,545.8 406.1,545.5 406.4,545 406.7,542.3 407.1,539.8 407.4,540.8 407.8,538.3 408.1,538.5 408.4,536.6 408.8,536.8 409.1,536.8 409.5,536.3 409.8,535.6 410.1,535.6 410.5,535.3 410.8,535.4 411.2,534.2 411.5,534.4 411.8,533.4 412.2,533.9 412.5,534.7 412.9,535.7 413.2,536.7 413.6,537 413.9,537.8 414.2,539.9 414.6,540.2 414.9,540.5 415.3,542.5 415.6,544.1 415.9,543.1 416.3,544.5 416.6,545.7 417,546.5 417.3,547.8 417.6,550 418,549.8 418.3,551.6 418.7,551.5 419,550.8 419.3,549.5 419.7,549.5 420,549.4 420.4,547.7 420.7,549 421.1,548 421.4,547.3 421.7,547.6 422.1,546.9 422.4,547.2 422.8,546.1 423.1,547 423.4,546.7 423.8,547.9 424.1,546.8 424.5,546 424.8,547 425.1,546 425.5,546.7 425.8,548 426.2,547.4 426.5,548.2 426.9,549.5 427.2,550.7 427.5,551 427.9,550.6 428.2,551.2 428.6,551.7 428.9,551.6 429.2,552.5 429.6,552.2 429.9,552.6 430.3,553.2 430.6,552.9 430.9,553.3 431.3,554.5 431.6,553.9 432,555.3 432.3,554.4 432.6,556.3 433,557.3 433.3,557.3 433.7,557.9 434,558.1 434.4,558.9 434.7,558.7 435,560.4 435.4,559.6 435.7,561.2 436.1,561.9 436.4,561.4 436.7,561.2 437.4,559.4 438.1,558.6 438.8,558.2 439.5,559.2 440.1,559.9 440.8,559.4 441.5,560.3 442.2,559.6 442.9,560.3 443.6,560.6 444.2,561.5 444.9,561 445.6,563 446.3,562.6 447,562.9 447.7,563 448.3,564.4 449,564.8 449.7,565.7 450.4,566 451.1,565.3 451.7,566.6 452.4,566 453.1,566.9 453.8,566.6 454.5,566.9 455.2,567.8 455.8,568.2 456.5,569.2 457.2,567.6 457.9,569.1 458.6,569.3 459.2,569.1 459.9,569.5 460.6,570.3 461.3,569.6 462,569.4 462.7,569.7 463.3,571 464,570.5 464.7,570.7 465.4,570.4 466.1,570.2 466.7,570.7 467.4,570.6 468.1,571.2 468.8,571.9 469.5,571.6 470.2,570.7 470.8,571.3 471.5,570.6 472.2,571.3 472.9,571.5 473.6,571 474.2,570.6 474.9,570.5 475.6,570.7 476.3,570.9 477,571.1 477.7,571.2 478.3,571.6 479,571.1 479.7,571.1 480.4,571.6 481.1,571 481.8,570.9 482.4,570.9 483.1,570.9 483.8,571.2 484.5,570.7 485.2,570.8 485.8,571.1 486.5,571.5 487.2,571.8 487.9,572.1 488.6,571 489.3,572.3 489.9,572.4 490.6,572.4 491.3,572.1 492,571.7 492.7,572 493.3,572.2 494,572.3 494.7,572.8 495.4,572.9 496.1,572.6 496.8,572.3 497.4,573.2 498.1,572.9 498.8,573.7 499.5,573.8 500.2,573.9 500.8,573.6 501.5,573.4 502.2,573.6 502.9,573.2 503.6,572.8 504.3,572.6 504.9,572.6 505.6,572.5 506.3,572.6 507,572.7 507.7,572.4 508.4,572.6 509,572.4 509.7,572.2 510.4,572.3 511.1,573 511.8,572.9 512.4,573.2 513.1,573 513.8,573.1 514.5,573.7 515.2,573.4 515.9,573.4 516.5,573.2 517.2,573.6 517.9,573.2 518.6,573.5 519.3,573.4 519.9,573.5 520.6,573.5 521.3,573.2 522,573.4 522.7,573.8 523.4,574.3 524,574 524.7,573.7 525.4,574.4 526.1,574 526.8,574 527.4,574.1 528.1,573.8 528.8,574 529.5,574.1 530.2,574.2 530.9,573.6 531.5,573.3 532.2,573.5 532.9,573.6 533.6,573.6 534.3,573.2 534.9,573.2 535.6,573.3 536.3,573.3 537,573.3 537.7,573.3 538.4,573.3 539,572.8 539.7,573 540.4,573.1 541.1,573.6 541.8,573.7 542.5,573.5 543.1,573.4 543.8,573.7 544.5,574 545.2,573.9 545.9,574 546.5,573.5 547.2,573.9 547.9,574.2 548.6,573.7 549.3,574.1 550,574.1 550.6,574.1 551.3,574.6 552,574.7 552.7,574.5 553.4,574.6 554,574.3 554.7,574.6 555.4,574.6 556.1,575.1 556.8,575.2 557.5,575.2 558.1,575 558.8,574.7 559.5,574.7 560.2,574.6 560.9,574.5 561.5,574.7 562.2,574.7 562.9,575.3 563.6,575.3 564.3,575.3 565,575.2 565.6,574.8 566.3,575.1 566.3,604.3 565.6,604.3 565,604.5 564.3,604.5 563.6,604.6 562.9,604.4 562.2,604.5 561.5,604.5 560.9,604.7 560.2,604.5 559.5,604.7 558.8,604.5 558.1,604.5 557.5,604.6 556.8,604.6 556.1,604.5 555.4,604.6 554.7,604.6 554,604.6 553.4,604.5 552.7,604.8 552,604.6 551.3,604.7 550.6,604.6 550,604.6 549.3,604.6 548.6,604.7 547.9,604.9 547.2,604.8 546.5,604.9 545.9,605 545.2,604.8 544.5,605 543.8,604.8 543.1,604.8 542.5,604.9 541.8,605 541.1,604.8 540.4,604.7 539.7,604.7 539,604.9 538.4,604.8 537.7,604.8 537,604.8 536.3,605 535.6,605 534.9,604.9 534.3,604.8 533.6,604.7 532.9,604.8 532.2,604.8 531.5,605.1 530.9,605 530.2,605 529.5,605 528.8,605.3 528.1,605.1 527.4,605.1 526.8,605.2 526.1,605.3 525.4,605.3 524.7,605.2 524,605.3 523.4,605.4 522.7,605.3 522,605.2 521.3,605 520.6,605.1 519.9,605.3 519.3,605.3 518.6,605.3 517.9,605.1 517.2,605.1 516.5,604.9 515.9,605.2 515.2,605.4 514.5,605.1 513.8,605.3 513.1,605.1 512.4,605 511.8,604.8 511.1,604.8 510.4,605 509.7,604.9 509,604.8 508.4,604.7 507.7,604.8 507,605 506.3,604.9 505.6,605 504.9,604.9 504.3,605 503.6,605 502.9,605 502.2,605 501.5,605 500.8,605.2 500.2,605.1 499.5,604.9 498.8,604.8 498.1,604.9 497.4,604.9 496.8,604.9 496.1,604.7 495.4,604.5 494.7,604.5 494,604.8 493.3,604.5 492.7,604.7 492,604.9 491.3,604.4 490.6,604.4 489.9,604.6 489.3,604.7 488.6,604.5 487.9,604.3 487.2,604.2 486.5,604.5 485.8,604.5 485.2,604.5 484.5,604.5 483.8,604.5 483.1,604.5 482.4,604.3 481.8,604.2 481.1,604.5 480.4,604.3 479.7,604.2 479,604.4 478.3,604.7 477.7,604.6 477,604.7 476.3,604.7 475.6,604.5 474.9,604.8 474.2,604.5 473.6,604.5 472.9,604.1 472.2,604 471.5,604.4 470.8,604.4 470.2,604.8 469.5,604.8 468.8,604.4 468.1,604.4 467.4,604.5 466.7,604.5 466.1,604.2 465.4,604.4 464.7,604.3 464,604 463.3,603.9 462.7,603.9 462,603.9 461.3,603.8 460.6,604 459.9,604 459.2,604.4 458.6,604.7 457.9,604.4 457.2,604.1 456.5,604.4 455.8,604.2 455.2,604.3 454.5,604.1 453.8,604.4 453.1,604.1 452.4,604 451.7,603.7 451.1,604 450.4,604.1 449.7,604.2 449,603.9 448.3,603.9 447.7,604.2 447,604.3 446.3,604.6 445.6,604.3 444.9,603.9 444.2,604.2 443.6,604.4 442.9,603.8 442.2,604.1 441.5,603.9 440.8,604 440.1,604.1 439.5,603.4 438.8,603.3 438.1,603.2 437.4,603.3 436.7,603 436.4,603 436.1,602.8 435.7,603.1 435.4,602.9 435,602.9 434.7,603.2 434.4,603.1 434,603.1 433.7,602.6 433.3,602.9 433,602.5 432.6,603.5 432.3,602.9 432,602.6 431.6,602.5 431.3,602.2 430.9,601.9 430.6,602.4 430.3,602.5 429.9,602.5 429.6,602.6 429.2,602.4 428.9,602.5 428.6,602.3 428.2,602.5 427.9,602.8 427.5,602.3 427.2,601.9 426.9,602.4 426.5,601.8 426.2,602.2 425.8,602.4 425.5,602.3 425.1,602.1 424.8,602.2 424.5,602.1 424.1,601.9 423.8,601.1 423.4,601 423.1,600.6 422.8,600.5 422.4,600.8 422.1,600.4 421.7,600.8 421.4,599.9 421.1,599.7 420.7,600.1 420.4,599.6 420,600.1 419.7,599.5 419.3,599.4 419,598.8 418.7,598.2 418.3,599 418,599.4 417.6,598.5 417.3,599 417,598.3 416.6,597.2 416.3,597.6 415.9,597.9 415.6,597.6 415.3,597.2 414.9,596.6 414.6,596.4 414.2,596.1 413.9,595.5 413.6,595.3 413.2,594.5 412.9,594.1 412.5,593.7 412.2,593.7 411.8,593.6 411.5,593.3 411.2,592.1 410.8,593 410.5,592.4 410.1,591.1 409.8,590.5 409.5,589.4 409.1,588.3 408.8,587.4 408.4,586.9 408.1,586.1 407.8,585.9 407.4,585.1 407.1,584.9 406.7,583.4 406.4,582.5 406.1,581.4 405.7,579.8 405.4,578 405,576.4 404.7,574.4 404.3,572.9 404,571.1 403.7,569.5 403.3,567.7 403,566 402.6,564.2" fill="#2297E6" fill-opacity="0.15"/>
</g>
<rect x="389" y="410.2" width="184.1" height="210.6" fill="none" stroke="#000" stroke-width="1.75" stroke-linejoin="round"/>
<line x1="389" y1="613" x2="378.2" y2="613" class="tkl"/>
<text x="367.8" y="619.1" text-anchor="end" class="tk">0.0</text>
<line x1="389" y1="574" x2="378.2" y2="574" class="tkl"/>
<text x="367.8" y="580.1" text-anchor="end" class="tk">0.2</text>
<line x1="389" y1="535" x2="378.2" y2="535" class="tkl"/>
<text x="367.8" y="541.1" text-anchor="end" class="tk">0.4</text>
<line x1="389" y1="496" x2="378.2" y2="496" class="tkl"/>
<text x="367.8" y="502.1" text-anchor="end" class="tk">0.6</text>
<line x1="389" y1="457" x2="378.2" y2="457" class="tkl"/>
<text x="367.8" y="463.1" text-anchor="end" class="tk">0.8</text>
<line x1="389" y1="418" x2="378.2" y2="418" class="tkl"/>
<text x="367.8" y="424.1" text-anchor="end" class="tk">1.0</text>
<line x1="395.8" y1="620.8" x2="395.8" y2="631.6" class="tkl"/>
<text transform="translate(402.3,642.8) rotate(-90)" text-anchor="end" class="tk">0</text>
<line x1="429.9" y1="620.8" x2="429.9" y2="631.6" class="tkl"/>
<text transform="translate(436.4,642.8) rotate(-90)" text-anchor="end" class="tk">100</text>
<line x1="464" y1="620.8" x2="464" y2="631.6" class="tkl"/>
<text transform="translate(470.5,642.8) rotate(-90)" text-anchor="end" class="tk">200</text>
<line x1="498.1" y1="620.8" x2="498.1" y2="631.6" class="tkl"/>
<text transform="translate(504.6,642.8) rotate(-90)" text-anchor="end" class="tk">300</text>
<line x1="532.2" y1="620.8" x2="532.2" y2="631.6" class="tkl"/>
<text transform="translate(538.7,642.8) rotate(-90)" text-anchor="end" class="tk">400</text>
<line x1="566.3" y1="620.8" x2="566.3" y2="631.6" class="tkl"/>
<text transform="translate(572.8,642.8) rotate(-90)" text-anchor="end" class="tk">500</text>
<text x="481.1" y="396.2" text-anchor="middle" class="ti">WE(1,1)</text>
<text x="481.1" y="703" text-anchor="middle" class="ax">Patients recruited</text>
<text transform="translate(319.6,515.5) rotate(-90)" text-anchor="middle" class="ax">Allocation ratio</text>
</g>
<g>
<clipPath id="cp5"><rect x="681" y="410.2" width="184.1" height="210.6"/></clipPath>
<g clip-path="url(#cp5)">
<polyline points="688.2,418 688.5,515.5 688.8,548 689.2,564.25 689.5,535 689.9,548 690.2,557.29 690.5,564.25 690.9,548 691.2,554.5 691.6,559.82 691.9,564.25 692.3,553 692.6,557.29 692.9,561 693.3,564.25 693.6,555.65 694,558.83 694.3,561.68 694.6,564.25 695,556.8 695.3,550.35 695.7,544.76 696,539.9 696.3,535.67 696.7,531.97 697,528.74 697.4,525.9 697.7,523.4 698.1,521.19 698.4,519.24 698.7,517.51 699.1,515.96 699.4,514.58 699.8,513.35 700.1,512.24 700.4,511.23 700.8,510.33 701.1,509.51 701.5,508.76 701.8,508.08 702.1,507.46 702.5,506.88 702.8,506.36 703.2,505.87 703.5,505.43 703.8,505.01 704.2,504.63 704.5,504.28 704.9,503.94 705.2,503.64 705.6,503.35 705.9,503.08 706.2,502.83 706.6,502.59 706.9,502.37 707.3,502.17 707.6,501.97 707.9,501.79 708.3,501.62 709,501.31 709.6,501.03 710.3,500.78 711,500.56 711.7,500.36 712.4,500.19 713.1,500.03 713.7,499.89 714.4,499.76 715.1,499.64 715.8,499.54 716.5,499.45 717.1,499.36 717.8,499.28 718.5,499.21 719.2,499.15 719.9,499.09 720.6,499.04 721.2,498.99 721.9,498.94 722.6,498.9 723.3,498.86 724,498.83 724.6,498.79 725.3,498.76 726,498.73 726.7,498.71 727.4,498.68 728.1,498.65 728.7,498.63 729.4,498.61 730.1,498.58 730.8,498.56 731.5,498.54 732.2,498.52 732.8,498.5 733.5,498.48 734.2,498.46 734.9,498.44 735.6,498.43 737.3,498.38 739,498.34 740.7,498.29 742.4,498.25 744.1,498.21 745.8,498.17 747.5,498.13 749.2,498.09 750.9,498.05 752.6,498.01 754.3,497.97 756,497.94 757.7,497.9 759.4,497.87 761.1,497.83 762.8,497.8 764.5,497.77 766.2,497.74 768,497.72 769.7,497.69 771.4,497.66 773.1,497.64 774.8,497.62 776.5,497.6 778.2,497.58 779.9,497.56 781.6,497.54 783.3,497.52 785,497.51 786.7,497.5 788.4,497.48 790.1,497.47 791.8,497.46 793.5,497.45 795.2,497.44 796.9,497.43 798.6,497.43 800.4,497.42 802.1,497.41 803.8,497.41 805.5,497.4 807.2,497.4 808.9,497.39 810.6,497.39 812.3,497.39 814,497.38 815.7,497.38 817.4,497.38 819.1,497.38 820.8,497.38 822.5,497.37 824.2,497.37 825.9,497.37 827.6,497.37 829.3,497.37 831,497.37 832.7,497.37 834.5,497.37 836.2,497.37 837.9,497.37 839.6,497.37 841.3,497.37 843,497.37 844.7,497.37 846.4,497.37 848.1,497.37 849.8,497.37 851.5,497.37 853.2,497.37 854.9,497.37 856.6,497.37 858.3,497.37" fill="none" stroke="#000000" stroke-width="2.75" stroke-linecap="round" stroke-linejoin="round"/>
<polygon points="694.6,564.2 695,559 695.3,553.7 695.7,548.4 696,543.2 696.3,538.4 696.7,534.6 697,529.9 697.4,525.9 697.7,521.5 698.1,518.4 698.4,514.6 698.7,512 699.1,510.6 699.4,507.6 699.8,505.3 700.1,504.8 700.4,502.5 700.8,500.2 701.1,496.3 701.5,493 701.8,489.9 702.1,491.3 702.5,487.5 702.8,484.7 703.2,483.7 703.5,482.3 703.8,481.7 704.2,478.9 704.5,476.6 704.9,475 705.2,473.4 705.6,473.6 705.9,472.4 706.2,467.8 706.6,468.4 706.9,466.2 707.3,465.3 707.6,464.8 707.9,462.7 708.3,462.1 708.6,461.9 709,462.7 709.3,462.5 709.6,458.9 710,461.6 710.3,460.8 710.7,461 711,461.7 711.3,458.9 711.7,457.9 712,456.2 712.4,456.6 712.7,457.6 713.1,455.7 713.4,456.5 713.7,457.9 714.1,455.7 714.4,455.3 714.8,458.6 715.1,455.8 715.4,456.1 715.8,456.7 716.1,455.5 716.5,455.6 716.8,454.8 717.1,457.8 717.5,456.4 717.8,457.1 718.2,456.1 718.5,454.8 718.9,454.8 719.2,457.1 719.5,457.9 719.9,456.6 720.2,455.3 720.6,455.4 720.9,456.1 721.2,454.9 721.6,455 721.9,453.9 722.3,453.6 722.6,453 722.9,452.4 723.3,452.9 723.6,453.1 724,452.1 724.3,452.1 724.6,452.2 725,452.4 725.3,452.6 725.7,453.2 726,454.8 726.4,454.8 726.7,456.3 727,457.5 727.4,456.3 727.7,456.3 728.1,456.7 728.4,456 728.7,455.7 729.4,456.4 730.1,455.5 730.8,456.5 731.5,456.8 732.2,457.5 732.8,459.3 733.5,462 734.2,460.8 734.9,461.4 735.6,462.8 736.2,464.3 736.9,464.9 737.6,465.2 738.3,464.7 739,464.1 739.7,464.1 740.3,464 741,463.4 741.7,463.2 742.4,462.9 743.1,464.2 743.7,464.3 744.4,463.6 745.1,464.1 745.8,464.1 746.5,463.6 747.2,464.5 747.8,464 748.5,465 749.2,464.7 749.9,465.1 750.6,466.1 751.2,466.5 751.9,465.6 752.6,465.7 753.3,466.3 754,466.1 754.7,465.7 755.3,465.8 756,466 756.7,465 757.4,465.8 758.1,466.5 758.7,465.1 759.4,465.9 760.1,465.4 760.8,465.3 761.5,465 762.2,465.5 762.8,464.8 763.5,465.4 764.2,465 764.9,464.6 765.6,464.2 766.2,464.3 766.9,464.7 767.6,465.4 768.3,464.2 769,465.5 769.7,464.7 770.3,464.4 771,464.1 771.7,464.5 772.4,463.5 773.1,463.8 773.8,463.8 774.4,463.9 775.1,465.1 775.8,464.5 776.5,464.6 777.2,464.2 777.8,465.1 778.5,464.4 779.2,464.8 779.9,464.6 780.6,464.2 781.3,464.4 781.9,465.1 782.6,465.3 783.3,464.9 784,466 784.7,466.6 785.3,467 786,467.8 786.7,467.8 787.4,468.5 788.1,470 788.8,470.4 789.4,471.1 790.1,470.4 790.8,470.8 791.5,471.6 792.2,470.8 792.8,472 793.5,472.1 794.2,471.5 794.9,472.4 795.6,472.2 796.3,472.8 796.9,473 797.6,472.5 798.3,473 799,473.7 799.7,473.7 800.4,473.1 801,473.3 801.7,473.9 802.4,473.6 803.1,474.4 803.8,473.9 804.4,474.4 805.1,474 805.8,474.8 806.5,475 807.2,475.1 807.9,474.9 808.5,474.7 809.2,475.6 809.9,476.2 810.6,475.5 811.3,476.2 811.9,477 812.6,476.9 813.3,476 814,476 814.7,475.6 815.4,475.9 816,475.5 816.7,475.9 817.4,475.4 818.1,475.5 818.8,474.6 819.4,474.5 820.1,474.6 820.8,474.1 821.5,474.5 822.2,474.4 822.9,474.5 823.5,474.4 824.2,474.2 824.9,474.2 825.6,474.7 826.3,475.1 826.9,475.7 827.6,475 828.3,475.1 829,475.6 829.7,475 830.4,475.6 831,475.6 831.7,476.1 832.4,475.8 833.1,476.4 833.8,476.6 834.5,476.2 835.1,476.2 835.8,477 836.5,476.9 837.2,476.6 837.9,477.2 838.5,476.5 839.2,477 839.9,477.7 840.6,477.3 841.3,477.2 842,477.4 842.6,476.9 843.3,477.4 844,477.9 844.7,478.5 845.4,478.2 846,478.2 846.7,478.5 847.4,478.4 848.1,479.1 848.8,478.9 849.5,478.9 850.1,478.6 850.8,478.1 851.5,478 852.2,478.6 852.9,478.6 853.5,478.8 854.2,478.2 854.9,477.8 855.6,478.1 856.3,478 857,478.1 857.6,478 858.3,477.6 858.3,514.3 857.6,514.6 857,514.7 856.3,514.8 855.6,514.5 854.9,514.6 854.2,515.5 853.5,515.9 852.9,515.8 852.2,515.9 851.5,515.9 850.8,515.9 850.1,515.8 849.5,516.3 848.8,516.3 848.1,516.8 847.4,517.2 846.7,516.9 846,516.7 845.4,517.1 844.7,517.4 844,517 843.3,517.1 842.6,517.5 842,517.9 841.3,517.7 840.6,517.6 839.9,517.7 839.2,518.1 838.5,518 837.9,518.8 837.2,519.4 836.5,518.9 835.8,519.2 835.1,518.9 834.5,519.1 833.8,519.6 833.1,519.8 832.4,519.7 831.7,519.9 831,520.1 830.4,520.3 829.7,519.4 829,519.5 828.3,520.2 827.6,520.5 826.9,519.8 826.3,520.1 825.6,520.2 824.9,520.4 824.2,520.3 823.5,520.7 822.9,521.4 822.2,521.4 821.5,521.5 820.8,521.7 820.1,521.8 819.4,522 818.8,521.9 818.1,521.5 817.4,522.1 816.7,521.6 816,521 815.4,521.2 814.7,521.4 814,520.6 813.3,521.4 812.6,520.7 811.9,520.7 811.3,520.9 810.6,521.1 809.9,519.7 809.2,519.7 808.5,519.7 807.9,520.6 807.2,520.6 806.5,520.3 805.8,520.7 805.1,520.2 804.4,520.7 803.8,520.2 803.1,520.1 802.4,520 801.7,519.9 801,519.9 800.4,519.7 799.7,519.5 799,519.4 798.3,519.8 797.6,519.4 796.9,519.2 796.3,519.8 795.6,520.5 794.9,521.3 794.2,521.5 793.5,522 792.8,522.2 792.2,522 791.5,522.4 790.8,522.8 790.1,524.1 789.4,523.9 788.8,523.8 788.1,524.4 787.4,524.7 786.7,525.1 786,524.7 785.3,524.1 784.7,523.7 784,523.8 783.3,523.5 782.6,522.8 781.9,523.6 781.3,524 780.6,523.5 779.9,523.7 779.2,523.3 778.5,522.7 777.8,523 777.2,522.8 776.5,522.9 775.8,523.6 775.1,524 774.4,524 773.8,525.1 773.1,524.8 772.4,525.7 771.7,525.7 771,526.1 770.3,526.7 769.7,527.5 769,527.8 768.3,527.7 767.6,527 766.9,526.7 766.2,525.5 765.6,525.7 764.9,526.2 764.2,525.3 763.5,524.7 762.8,525.4 762.2,526.6 761.5,526.7 760.8,525.8 760.1,526.5 759.4,528.1 758.7,529.1 758.1,529.4 757.4,530 756.7,528.8 756,529.4 755.3,530.8 754.7,531.1 754,532.6 753.3,533 752.6,532.5 751.9,532.4 751.2,533.4 750.6,533.9 749.9,534.8 749.2,534.1 748.5,533.7 747.8,533.8 747.2,534.5 746.5,533.3 745.8,533.6 745.1,532.3 744.4,533.1 743.7,532.1 743.1,531 742.4,532.3 741.7,532.6 741,531.9 740.3,531.8 739.7,530.9 739,532.6 738.3,531.3 737.6,530.8 736.9,532.3 736.2,531.4 735.6,530.8 734.9,532.1 734.2,531.6 733.5,531.4 732.8,532.8 732.2,533.2 731.5,535.2 730.8,536.2 730.1,538.3 729.4,539 728.7,540.8 728.4,541.3 728.1,539.9 727.7,540.2 727.4,539.8 727,539.5 726.7,541.4 726.4,541.9 726,541.6 725.7,542.4 725.3,542.6 725,543.9 724.6,543.2 724.3,541.6 724,543.2 723.6,542.9 723.3,542.7 722.9,544.4 722.6,541.8 722.3,544.2 721.9,543.9 721.6,543.7 721.2,542.3 720.9,543.9 720.6,543.9 720.2,544.8 719.9,544.9 719.5,545.9 719.2,545.4 718.9,545.5 718.5,544.7 718.2,546.9 717.8,547.2 717.5,548 717.1,549.7 716.8,549.3 716.5,548 716.1,550 715.8,549.5 715.4,551.9 715.1,552.2 714.8,551.5 714.4,554.2 714.1,555.1 713.7,555.9 713.4,554.8 713.1,555.3 712.7,556.4 712.4,557.1 712,559.5 711.7,558 711.3,556.9 711,559.4 710.7,560.7 710.3,559.6 710,562.3 709.6,562.3 709.3,563.1 709,563.5 708.6,561.7 708.3,564.3 707.9,563.7 707.6,565.7 707.3,566.5 706.9,567.6 706.6,568.6 706.2,568.7 705.9,569.3 705.6,568.6 705.2,567.9 704.9,570.3 704.5,570.3 704.2,569 703.8,570 703.5,571.5 703.2,572 702.8,571.9 702.5,572.7 702.1,573.1 701.8,573.4 701.5,572.6 701.1,572.1 700.8,571.2 700.4,570.4 700.1,569.7 699.8,568.9 699.4,567.9 699.1,569.5 698.7,569.4 698.4,571.6 698.1,572.5 697.7,570.8 697.4,569.8 697,568.3 696.7,568.1 696.3,567.4 696,567.1 695.7,566.4 695.3,566.1 695,565 694.6,564.2" fill="#000000" fill-opacity="0.15"/>
<polyline points="688.2,613 688.5,515.5 688.8,548 689.2,564.25 689.5,574 689.9,548 690.2,557.29 690.5,564.25 690.9,569.67 691.2,554.5 691.6,559.82 691.9,564.25 692.3,568 692.6,557.29 692.9,561 693.3,564.25 693.6,567.12 694,558.83 694.3,561.68 694.6,564.25 695,566.82 695.3,569.02 695.7,570.9 696,572.51 696.3,573.88 696.7,575.07 697,576.08 697.4,576.96 697.7,577.71 698.1,578.37 698.4,578.93 698.7,579.42 699.1,579.85 699.4,580.22 699.8,580.55 700.1,580.83 700.4,581.08 700.8,581.3 701.1,581.5 701.5,581.67 701.8,581.83 702.1,581.96 702.5,582.09 702.8,582.2 703.2,582.3 703.5,582.39 703.8,582.47 704.2,582.55 704.5,582.62 704.9,582.68 705.2,582.74 705.6,582.79 705.9,582.84 706.2,582.89 706.6,582.93 706.9,582.97 707.3,583.01 707.6,583.04 707.9,583.08 708.3,583.11 709,583.16 709.6,583.21 710.3,583.26 711,583.3 711.7,583.33 712.4,583.36 713.1,583.39 713.7,583.42 714.4,583.44 715.1,583.46 715.8,583.48 716.5,583.49 717.1,583.51 717.8,583.52 718.5,583.54 719.2,583.55 719.9,583.56 720.6,583.57 721.2,583.57 721.9,583.58 722.6,583.59 723.3,583.59 724,583.6 724.6,583.6 725.3,583.61 726,583.61 726.7,583.62 727.4,583.62 728.1,583.62 728.7,583.63 729.4,583.63 730.1,583.63 730.8,583.63 731.5,583.63 732.2,583.64 732.8,583.64 733.5,583.64 734.2,583.64 734.9,583.64 735.6,583.64 737.3,583.65 739,583.65 740.7,583.65 742.4,583.65 744.1,583.65 745.8,583.65 747.5,583.65 749.2,583.65 750.9,583.65 752.6,583.65 754.3,583.65 756,583.65 757.7,583.65 759.4,583.65 761.1,583.65 762.8,583.65 764.5,583.65 766.2,583.65 768,583.65 769.7,583.65 771.4,583.65 773.1,583.65 774.8,583.65 776.5,583.65 778.2,583.65 779.9,583.65 781.6,583.65 783.3,583.65 785,583.65 786.7,583.65 788.4,583.65 790.1,583.65 791.8,583.65 793.5,583.65 795.2,583.65 796.9,583.65 798.6,583.65 800.4,583.65 802.1,583.65 803.8,583.65 805.5,583.65 807.2,583.65 808.9,583.65 810.6,583.65 812.3,583.65 814,583.65 815.7,583.65 817.4,583.65 819.1,583.65 820.8,583.65 822.5,583.65 824.2,583.65 825.9,583.65 827.6,583.65 829.3,583.65 831,583.65 832.7,583.65 834.5,583.65 836.2,583.65 837.9,583.65 839.6,583.65 841.3,583.65 843,583.65 844.7,583.65 846.4,583.65 848.1,583.65 849.8,583.65 851.5,583.65 853.2,583.65 854.9,583.65 856.6,583.65 858.3,583.65" fill="none" stroke="#DF536B" stroke-width="2.75" stroke-linecap="round" stroke-linejoin="round"/>
<polygon points="694.6,564.2 695,558.5 695.3,552.7 695.7,546.8 696,541.6 696.3,536.4 696.7,530.5 697,524.7 697.4,525 697.7,524.8 698.1,526 698.4,526.5 698.7,527.7 699.1,528.6 699.4,528 699.8,529 700.1,529.8 700.4,529.4 700.8,530.8 701.1,531.6 701.5,532.3 701.8,533 702.1,535.2 702.5,533.4 702.8,535.6 703.2,535.6 703.5,536.5 703.8,537.2 704.2,537.7 704.5,538.4 704.9,539.3 705.2,539 705.6,539.8 705.9,540.6 706.2,541.4 706.6,544.1 706.9,543.6 707.3,546.2 707.6,545.7 707.9,547.1 708.3,548.2 708.6,549.6 709,550.3 709.3,549.4 709.6,550.6 710,551.5 710.3,552.5 710.7,552 711,552.2 711.3,553.1 711.7,552.9 712,553.2 712.4,555.4 712.7,556.9 713.1,556.2 713.4,555.4 713.7,554.9 714.1,554.2 714.4,554.8 714.8,553.6 715.1,554.3 715.4,554.7 715.8,555.5 716.1,556.2 716.5,556.1 716.8,556.1 717.1,555.7 717.5,555.6 717.8,555.1 718.2,553.9 718.5,553.3 718.9,553 719.2,553.1 719.5,553.1 719.9,552 720.2,553.7 720.6,551.5 720.9,550.8 721.2,552 721.6,552.8 721.9,551.7 722.3,552.1 722.6,552.6 722.9,552 723.3,552.1 723.6,552.7 724,552.2 724.3,552.3 724.6,552.5 725,551.4 725.3,552 725.7,552.8 726,552.9 726.4,552.7 726.7,555 727,554 727.4,554.2 727.7,555 728.1,554.5 728.4,555 728.7,554.9 729.4,555.7 730.1,556.7 730.8,557.4 731.5,556.6 732.2,558 732.8,556.8 733.5,556.9 734.2,557.7 734.9,557.2 735.6,558.1 736.2,559 736.9,557.9 737.6,558.6 738.3,558.3 739,558.6 739.7,559.5 740.3,559.3 741,559.6 741.7,560.4 742.4,560.2 743.1,560.1 743.7,559.8 744.4,559.6 745.1,559.9 745.8,561 746.5,560.6 747.2,560.1 747.8,560.8 748.5,560.4 749.2,560.7 749.9,561.1 750.6,562.1 751.2,561.2 751.9,561.2 752.6,561.5 753.3,561.8 754,561.8 754.7,561.8 755.3,562.2 756,562.5 756.7,563.7 757.4,563.9 758.1,563.6 758.7,563.5 759.4,564.1 760.1,564.8 760.8,564.7 761.5,564.2 762.2,564.9 762.8,564.8 763.5,565.5 764.2,564.6 764.9,565.1 765.6,565.1 766.2,565.6 766.9,565.9 767.6,565.8 768.3,565.8 769,565.8 769.7,566.7 770.3,565.8 771,565.7 771.7,566.4 772.4,567.2 773.1,566.9 773.8,566.7 774.4,567 775.1,566.2 775.8,566 776.5,566.2 777.2,566 777.8,566.3 778.5,566.4 779.2,565.8 779.9,566.3 780.6,565.5 781.3,565 781.9,565.9 782.6,565.5 783.3,566.1 784,566.2 784.7,566.3 785.3,565.7 786,566.5 786.7,566.4 787.4,566.5 788.1,566.5 788.8,566.7 789.4,566.7 790.1,566.4 790.8,566.8 791.5,566.8 792.2,566.6 792.8,567.2 793.5,567.4 794.2,567.4 794.9,567.5 795.6,568.3 796.3,567.6 796.9,568.1 797.6,568.5 798.3,568.1 799,568.7 799.7,569 800.4,568.6 801,568.7 801.7,569.1 802.4,569.2 803.1,569.2 803.8,569.3 804.4,569.5 805.1,569 805.8,569 806.5,569.5 807.2,569.3 807.9,568.4 808.5,569.2 809.2,569 809.9,569.4 810.6,569.3 811.3,569.3 811.9,569 812.6,568.9 813.3,568.9 814,569.5 814.7,569.5 815.4,569.7 816,569.6 816.7,569.3 817.4,569.4 818.1,569.5 818.8,569.8 819.4,570 820.1,570.5 820.8,570.1 821.5,570 822.2,569.9 822.9,570 823.5,570.3 824.2,570.4 824.9,570.5 825.6,570.8 826.3,570.4 826.9,570.5 827.6,570.2 828.3,570.3 829,570.3 829.7,570.5 830.4,570.7 831,570.8 831.7,570.9 832.4,570.6 833.1,570.5 833.8,570.2 834.5,569.9 835.1,570.1 835.8,569.7 836.5,569.6 837.2,570 837.9,570.4 838.5,569.9 839.2,570.3 839.9,570.3 840.6,570.9 841.3,571.1 842,571.1 842.6,571.1 843.3,570.7 844,571 844.7,571 845.4,570.8 846,571 846.7,571.5 847.4,571.5 848.1,571.9 848.8,571.8 849.5,571.8 850.1,572.2 850.8,571.6 851.5,571.6 852.2,572 852.9,572.2 853.5,572.2 854.2,572.4 854.9,572.1 855.6,572.5 856.3,572.8 857,572.8 857.6,573.1 858.3,573 858.3,598.1 857.6,598.1 857,598.2 856.3,598.2 855.6,598.2 854.9,598.1 854.2,598 853.5,598.2 852.9,598.1 852.2,598.2 851.5,598.1 850.8,598.2 850.1,598.3 849.5,598.2 848.8,598.2 848.1,598.2 847.4,598.3 846.7,598.3 846,598.2 845.4,598.3 844.7,598.4 844,598.5 843.3,598.4 842.6,598.3 842,598.4 841.3,598.6 840.6,598.3 839.9,598.3 839.2,598.3 838.5,598.5 837.9,598.6 837.2,598.4 836.5,598.3 835.8,598.7 835.1,598.8 834.5,598.8 833.8,598.7 833.1,598.7 832.4,598.6 831.7,598.7 831,598.8 830.4,598.7 829.7,598.7 829,598.8 828.3,598.7 827.6,599 826.9,598.9 826.3,599 825.6,598.7 824.9,598.8 824.2,598.9 823.5,598.9 822.9,598.8 822.2,598.9 821.5,599 820.8,599.1 820.1,599.1 819.4,599.1 818.8,599.1 818.1,599 817.4,598.8 816.7,599.3 816,599.2 815.4,599.1 814.7,599.2 814,599.4 813.3,599.1 812.6,599.3 811.9,599.5 811.3,599.5 810.6,599.2 809.9,599 809.2,599.2 808.5,599.1 807.9,599.4 807.2,599.3 806.5,599.3 805.8,599.6 805.1,599.4 804.4,599.4 803.8,599.5 803.1,599.5 802.4,599.5 801.7,599.5 801,599.7 800.4,599.7 799.7,599.6 799,599.9 798.3,599.7 797.6,599.7 796.9,600.2 796.3,600.2 795.6,600.3 794.9,600.2 794.2,600.2 793.5,600.2 792.8,600 792.2,600.3 791.5,600.3 790.8,600.5 790.1,600.1 789.4,600.5 788.8,600.5 788.1,600.6 787.4,600.6 786.7,600.8 786,600.6 785.3,600.7 784.7,600.6 784,600.3 783.3,600.6 782.6,600.9 781.9,600.6 781.3,601.1 780.6,601.1 779.9,601.1 779.2,601 778.5,601.2 777.8,601.1 777.2,601.1 776.5,601 775.8,601 775.1,601 774.4,601.2 773.8,601.1 773.1,600.9 772.4,601 771.7,601.3 771,601.4 770.3,601 769.7,601.6 769,601.3 768.3,601.6 767.6,601.6 766.9,601.4 766.2,601.4 765.6,601.5 764.9,601.7 764.2,601.4 763.5,601.5 762.8,601.6 762.2,601.8 761.5,601.8 760.8,601.8 760.1,601.9 759.4,602.4 758.7,602.4 758.1,602.3 757.4,602.3 756.7,602 756,602.3 755.3,602.2 754.7,602.2 754,602.3 753.3,602.5 752.6,602.9 751.9,602.8 751.2,602.7 750.6,602.7 749.9,602.3 749.2,602.6 748.5,602.8 747.8,603 747.2,602.8 746.5,602.6 745.8,602.7 745.1,603 744.4,603 743.7,603 743.1,603.1 742.4,603.3 741.7,603.3 741,602.9 740.3,603.5 739.7,603.7 739,603.3 738.3,603.8 737.6,603.4 736.9,603.3 736.2,603.4 735.6,603.2 734.9,602.5 734.2,602.6 733.5,602.1 732.8,602.7 732.2,602.6 731.5,602 730.8,601.8 730.1,601.5 729.4,601.4 728.7,602.2 728.4,601.8 728.1,601.9 727.7,601.7 727.4,601.6 727,601.7 726.7,602.3 726.4,602 726,601.6 725.7,601.5 725.3,601.4 725,601.3 724.6,601.5 724.3,601.8 724,601.6 723.6,601.9 723.3,601 722.9,601 722.6,600.3 722.3,600.6 721.9,601 721.6,601 721.2,601.2 720.9,601.7 720.6,601.5 720.2,601.3 719.9,600.8 719.5,600.8 719.2,600.2 718.9,600.5 718.5,600.3 718.2,600.4 717.8,600.2 717.5,600.9 717.1,600.1 716.8,600.5 716.5,600.3 716.1,600 715.8,600.1 715.4,600.5 715.1,600.3 714.8,600 714.4,599.9 714.1,599 713.7,599.1 713.4,599.1 713.1,598 712.7,598.3 712.4,598.4 712,598 711.7,597.7 711.3,597.2 711,597.7 710.7,597.6 710.3,597.8 710,597.2 709.6,597.1 709.3,597.1 709,597.2 708.6,597 708.3,596.8 707.9,596.3 707.6,595.9 707.3,595.9 706.9,596.1 706.6,595.8 706.2,595.8 705.9,595.2 705.6,595.1 705.2,595.2 704.9,595.4 704.5,595.6 704.2,594.8 703.8,595 703.5,594.3 703.2,594 702.8,594.2 702.5,593.6 702.1,592.5 701.8,592.6 701.5,592 701.1,591.1 700.8,589.9 700.4,589.4 700.1,588.2 699.8,587.5 699.4,587.4 699.1,586 698.7,585.6 698.4,584.1 698.1,584.3 697.7,581.8 697.4,579.5 697,578 696.7,576 696.3,573.8 696,572 695.7,570 695.3,568 695,566.2 694.6,564.2" fill="#DF536B" fill-opacity="0.15"/>
<polyline points="688.2,613 688.5,613 688.8,548 689.2,564.25 689.5,574 689.9,580.5 690.2,557.29 690.5,564.25 690.9,569.67 691.2,574 691.6,559.82 691.9,564.25 692.3,568 692.6,571.21 692.9,561 693.3,564.25 693.6,567.12 694,569.67 694.3,561.68 694.6,564.25 695,566.5 695.3,568.6 695.7,570.56 696,572.4 696.3,574.12 696.7,575.73 697,577.23 697.4,578.64 697.7,579.95 698.1,581.19 698.4,582.34 698.7,583.42 699.1,584.43 699.4,585.37 699.8,586.26 700.1,587.08 700.4,587.86 700.8,588.59 701.1,589.27 701.5,589.9 701.8,590.5 702.1,591.06 702.5,591.59 702.8,592.08 703.2,592.54 703.5,592.97 703.8,593.38 704.2,593.76 704.5,594.11 704.9,594.45 705.2,594.76 705.6,595.05 705.9,595.33 706.2,595.59 706.6,595.83 706.9,596.06 707.3,596.28 707.6,596.48 707.9,596.67 708.3,596.85 709,597.18 709.6,597.47 710.3,597.72 711,597.95 711.7,598.15 712.4,598.33 713.1,598.49 713.7,598.63 714.4,598.76 715.1,598.87 715.8,598.98 716.5,599.07 717.1,599.15 717.8,599.22 718.5,599.29 719.2,599.35 719.9,599.4 720.6,599.45 721.2,599.5 721.9,599.54 722.6,599.58 723.3,599.61 724,599.64 724.6,599.67 725.3,599.69 726,599.72 726.7,599.74 727.4,599.76 728.1,599.78 728.7,599.79 729.4,599.81 730.1,599.82 730.8,599.84 731.5,599.85 732.2,599.86 732.8,599.87 733.5,599.88 734.2,599.89 734.9,599.9 735.6,599.91 737.3,599.93 739,599.94 740.7,599.95 742.4,599.96 744.1,599.97 745.8,599.98 747.5,599.99 749.2,599.99 750.9,600 752.6,600 754.3,600.01 756,600.01 757.7,600.01 759.4,600.02 761.1,600.02 762.8,600.02 764.5,600.02 766.2,600.02 768,600.02 769.7,600.03 771.4,600.03 773.1,600.03 774.8,600.03 776.5,600.03 778.2,600.03 779.9,600.03 781.6,600.03 783.3,600.03 785,600.03 786.7,600.03 788.4,600.03 790.1,600.03 791.8,600.03 793.5,600.03 795.2,600.03 796.9,600.03 798.6,600.03 800.4,600.03 802.1,600.03 803.8,600.03 805.5,600.03 807.2,600.03 808.9,600.03 810.6,600.03 812.3,600.03 814,600.03 815.7,600.03 817.4,600.03 819.1,600.03 820.8,600.03 822.5,600.03 824.2,600.03 825.9,600.03 827.6,600.03 829.3,600.03 831,600.03 832.7,600.03 834.5,600.03 836.2,600.03 837.9,600.03 839.6,600.03 841.3,600.03 843,600.03 844.7,600.03 846.4,600.03 848.1,600.03 849.8,600.03 851.5,600.03 853.2,600.03 854.9,600.03 856.6,600.03 858.3,600.03" fill="none" stroke="#61D04F" stroke-width="2.75" stroke-linecap="round" stroke-linejoin="round"/>
<polygon points="694.6,564.2 695,564.1 695.3,563.9 695.7,563.7 696,563.4 696.3,563.5 696.7,563.5 697,563.2 697.4,563 697.7,562.3 698.1,562.3 698.4,562.8 698.7,564.3 699.1,564.2 699.4,564.8 699.8,564.9 700.1,565.8 700.4,565.8 700.8,566.3 701.1,567.4 701.5,568.5 701.8,568.8 702.1,569.1 702.5,569.6 702.8,570.3 703.2,570.6 703.5,571.3 703.8,571.4 704.2,572.3 704.5,573.2 704.9,573.6 705.2,574.1 705.6,574.1 705.9,574.6 706.2,575.1 706.6,576 706.9,576.1 707.3,576.6 707.6,577.3 707.9,577.1 708.3,578 708.6,578.4 709,579.1 709.3,579 709.6,580.5 710,580.4 710.3,580 710.7,579.9 711,580.5 711.3,581 711.7,581.1 712,581.9 712.4,582.1 712.7,582.9 713.1,583.1 713.4,583.4 713.7,583.6 714.1,583.8 714.4,583 714.8,583.9 715.1,583.3 715.4,583.8 715.8,583.8 716.1,584.6 716.5,583.6 716.8,584.1 717.1,584.3 717.5,585 717.8,584.5 718.2,584.7 718.5,585.1 718.9,585.3 719.2,585.5 719.5,585 719.9,585 720.2,585.1 720.6,585.3 720.9,585.8 721.2,586 721.6,585.8 721.9,585.3 722.3,586.1 722.6,586 722.9,586.5 723.3,586.5 723.6,586.7 724,586.3 724.3,586.1 724.6,586.6 725,587.3 725.3,587.6 725.7,587.7 726,587.7 726.4,588 726.7,587.7 727,587.6 727.4,587.3 727.7,587.7 728.1,588.3 728.4,588.3 728.7,587.8 729.4,588.5 730.1,588.5 730.8,588.9 731.5,588.4 732.2,588.8 732.8,588.5 733.5,588.7 734.2,588.5 734.9,588.9 735.6,588.5 736.2,589.1 736.9,589 737.6,588.6 738.3,588.8 739,589 739.7,588.8 740.3,588.9 741,589.2 741.7,589.4 742.4,589.3 743.1,589.4 743.7,589.7 744.4,589.4 745.1,589.8 745.8,589.7 746.5,589.4 747.2,589.7 747.8,589.7 748.5,589.8 749.2,589.7 749.9,589.4 750.6,589.6 751.2,589.9 751.9,590 752.6,590.3 753.3,590.1 754,590.3 754.7,590.2 755.3,589.8 756,590 756.7,590.1 757.4,590.1 758.1,590.3 758.7,590.2 759.4,590.5 760.1,590.2 760.8,590.4 761.5,590.2 762.2,590.5 762.8,589.8 763.5,590 764.2,590.1 764.9,590 765.6,589.9 766.2,590.2 766.9,590.1 767.6,590.2 768.3,590.4 769,589.9 769.7,590.2 770.3,590.2 771,590 771.7,590 772.4,590.2 773.1,590.3 773.8,590.2 774.4,590.5 775.1,590.3 775.8,590.4 776.5,590.1 777.2,590.1 777.8,590.4 778.5,590.1 779.2,590.5 779.9,590.5 780.6,590.3 781.3,590.3 781.9,590.3 782.6,590.5 783.3,590.5 784,590.2 784.7,590.3 785.3,590.6 786,590.7 786.7,590.8 787.4,590.7 788.1,590.4 788.8,590.7 789.4,590.6 790.1,590.8 790.8,590.8 791.5,590.8 792.2,590.9 792.8,591.1 793.5,590.8 794.2,590.8 794.9,590.6 795.6,590.7 796.3,590.9 796.9,590.9 797.6,591.1 798.3,591.3 799,591.3 799.7,591.4 800.4,591.4 801,591.3 801.7,591.1 802.4,591 803.1,591.2 803.8,591.2 804.4,591.2 805.1,591.2 805.8,591.4 806.5,591.5 807.2,591.5 807.9,591.4 808.5,591.4 809.2,591.4 809.9,591.4 810.6,591.3 811.3,591.4 811.9,591.4 812.6,591.4 813.3,591.6 814,591.3 814.7,591.7 815.4,591.5 816,591.6 816.7,591.7 817.4,591.9 818.1,591.9 818.8,591.6 819.4,591.7 820.1,592 820.8,592.2 821.5,592.2 822.2,592.2 822.9,592.1 823.5,592.2 824.2,592.1 824.9,592.4 825.6,592.6 826.3,592.5 826.9,592.6 827.6,592.6 828.3,592.5 829,592.5 829.7,592.7 830.4,592.6 831,592.7 831.7,592.8 832.4,592.6 833.1,592.7 833.8,592.8 834.5,592.9 835.1,592.7 835.8,592.9 836.5,593.1 837.2,593.1 837.9,593.2 838.5,593.1 839.2,593.1 839.9,593.3 840.6,593.5 841.3,593.4 842,593.5 842.6,593.7 843.3,593.5 844,593.4 844.7,593.6 845.4,593.6 846,593.6 846.7,593.7 847.4,593.6 848.1,593.7 848.8,593.8 849.5,594 850.1,593.9 850.8,593.9 851.5,594 852.2,593.9 852.9,594 853.5,594.4 854.2,594.4 854.9,594.2 855.6,594.2 856.3,594.4 857,594.3 857.6,594.5 858.3,594.5 858.3,605.1 857.6,605.2 857,605.1 856.3,605.2 855.6,605.2 854.9,605.3 854.2,605.4 853.5,605.4 852.9,605.2 852.2,605.3 851.5,605.2 850.8,605.3 850.1,605.2 849.5,605.3 848.8,605.3 848.1,605.4 847.4,605.3 846.7,605.3 846,605.3 845.4,605.3 844.7,605.3 844,605.4 843.3,605.4 842.6,605.5 842,605.4 841.3,605.4 840.6,605.4 839.9,605.3 839.2,605.3 838.5,605.3 837.9,605.5 837.2,605.4 836.5,605.3 835.8,605.4 835.1,605.5 834.5,605.5 833.8,605.5 833.1,605.5 832.4,605.5 831.7,605.6 831,605.6 830.4,605.6 829.7,605.5 829,605.6 828.3,605.5 827.6,605.6 826.9,605.6 826.3,605.7 825.6,605.7 824.9,605.7 824.2,605.7 823.5,605.6 822.9,605.5 822.2,605.6 821.5,605.6 820.8,605.5 820.1,605.6 819.4,605.6 818.8,605.7 818.1,605.5 817.4,605.7 816.7,605.7 816,605.8 815.4,605.7 814.7,605.7 814,605.7 813.3,605.8 812.6,605.8 811.9,605.7 811.3,605.6 810.6,605.7 809.9,605.6 809.2,605.7 808.5,605.7 807.9,605.7 807.2,605.8 806.5,605.6 805.8,605.7 805.1,605.7 804.4,605.8 803.8,605.7 803.1,605.8 802.4,605.7 801.7,605.7 801,605.7 800.4,605.7 799.7,605.7 799,605.7 798.3,605.9 797.6,605.7 796.9,605.7 796.3,605.7 795.6,605.7 794.9,605.8 794.2,605.6 793.5,605.6 792.8,605.6 792.2,605.7 791.5,605.6 790.8,605.6 790.1,605.7 789.4,605.6 788.8,605.6 788.1,605.9 787.4,605.8 786.7,605.9 786,605.8 785.3,605.9 784.7,605.7 784,605.8 783.3,605.6 782.6,605.8 781.9,605.8 781.3,605.9 780.6,605.8 779.9,605.9 779.2,605.8 778.5,605.9 777.8,605.9 777.2,605.8 776.5,605.9 775.8,606 775.1,606 774.4,606 773.8,606 773.1,606.1 772.4,606.2 771.7,606.1 771,606.2 770.3,606.3 769.7,606.3 769,606.2 768.3,606.3 767.6,606.2 766.9,606.3 766.2,606.3 765.6,606.4 764.9,606.4 764.2,606.5 763.5,606.7 762.8,606.7 762.2,606.5 761.5,606.6 760.8,606.7 760.1,606.7 759.4,606.7 758.7,606.6 758.1,606.7 757.4,606.6 756.7,606.6 756,606.8 755.3,606.7 754.7,606.8 754,606.9 753.3,607.1 752.6,607 751.9,606.8 751.2,607 750.6,606.8 749.9,606.5 749.2,606.7 748.5,606.4 747.8,606.4 747.2,606.6 746.5,606.3 745.8,606.2 745.1,606.3 744.4,606.4 743.7,606.1 743.1,606.2 742.4,606.1 741.7,606.1 741,606.3 740.3,606 739.7,606 739,605.7 738.3,605.8 737.6,605.4 736.9,605.5 736.2,605.5 735.6,605.3 734.9,605.6 734.2,605.4 733.5,604.9 732.8,605.1 732.2,605.2 731.5,604.7 730.8,604.6 730.1,604.5 729.4,604.6 728.7,604.5 728.4,604.3 728.1,604.2 727.7,604.4 727.4,604.3 727,604.1 726.7,604.2 726.4,604.1 726,604.2 725.7,604.1 725.3,604.1 725,603.9 724.6,603.8 724.3,603.5 724,603.6 723.6,603.6 723.3,603.7 722.9,603.7 722.6,603.6 722.3,603.5 721.9,603.6 721.6,603.6 721.2,603.5 720.9,603.5 720.6,603.4 720.2,603.2 719.9,603 719.5,603.1 719.2,602.9 718.9,602.9 718.5,602.6 718.2,602.1 717.8,602 717.5,602 717.1,602.5 716.8,602.5 716.5,602.3 716.1,601.9 715.8,601.9 715.4,601.8 715.1,601.9 714.8,601.2 714.4,601.3 714.1,601 713.7,601 713.4,600.8 713.1,600.4 712.7,600.1 712.4,600 712,600.3 711.7,600 711.3,600.3 711,599.8 710.7,599.8 710.3,599.9 710,599.7 709.6,599.8 709.3,599.5 709,598.8 708.6,598.8 708.3,598.7 707.9,598.5 707.6,598.5 707.3,598.2 706.9,598.2 706.6,598.2 706.2,597.7 705.9,597.8 705.6,597.4 705.2,597.4 704.9,597.3 704.5,597.2 704.2,597.1 703.8,597 703.5,597.1 703.2,596.7 702.8,596.5 702.5,596.3 702.1,595.9 701.8,595.1 701.5,594.4 701.1,593.8 700.8,593.2 700.4,592.2 700.1,591.7 699.8,591.1 699.4,590.5 699.1,589.7 698.7,589.1 698.4,588.6 698.1,587.8 697.7,585.6 697.4,583.1 697,580.5 696.7,578.1 696.3,575.9 696,573.8 695.7,571.3 695.3,569 695,566.6 694.6,564.2" fill="#61D04F" fill-opacity="0.15"/>
<polyline points="688.2,613 688.5,613 688.8,613 689.2,564.25 689.5,574 689.9,580.5 690.2,585.14 690.5,564.25 690.9,569.67 691.2,574 691.6,577.55 691.9,564.25 692.3,568 692.6,571.21 692.9,574 693.3,564.25 693.6,567.12 694,569.67 694.3,571.95 694.6,564.25 695,565.91 695.3,567.32 695.7,568.51 696,569.52 696.3,570.37 696.7,571.09 697,571.7 697.4,572.22 697.7,572.66 698.1,573.03 698.4,573.34 698.7,573.61 699.1,573.83 699.4,574.02 699.8,574.18 700.1,574.32 700.4,574.44 700.8,574.53 701.1,574.62 701.5,574.69 701.8,574.75 702.1,574.8 702.5,574.84 702.8,574.87 703.2,574.9 703.5,574.93 703.8,574.95 704.2,574.97 704.5,574.99 704.9,575 705.2,575.01 705.6,575.02 705.9,575.03 706.2,575.04 706.6,575.04 706.9,575.05 707.3,575.05 707.6,575.05 707.9,575.06 708.3,575.06 709,575.06 709.6,575.07 710.3,575.07 711,575.07 711.7,575.07 712.4,575.07 713.1,575.07 713.7,575.07 714.4,575.07 715.1,575.07 715.8,575.07 716.5,575.07 717.1,575.07 717.8,575.07 718.5,575.07 719.2,575.07 719.9,575.07 720.6,575.07 721.2,575.07 721.9,575.07 722.6,575.07 723.3,575.07 724,575.07 724.6,575.07 725.3,575.07 726,575.07 726.7,575.07 727.4,575.07 728.1,575.07 728.7,575.07 729.4,575.07 730.1,575.07 730.8,575.07 731.5,575.07 732.2,575.07 732.8,575.07 733.5,575.07 734.2,575.07 734.9,575.07 735.6,575.07 737.3,575.07 739,575.07 740.7,575.07 742.4,575.07 744.1,575.07 745.8,575.07 747.5,575.07 749.2,575.07 750.9,575.07 752.6,575.07 754.3,575.07 756,575.07 757.7,575.07 759.4,575.07 761.1,575.07 762.8,575.07 764.5,575.07 766.2,575.07 768,575.07 769.7,575.07 771.4,575.07 773.1,575.07 774.8,575.07 776.5,575.07 778.2,575.07 779.9,575.07 781.6,575.07 783.3,575.07 785,575.07 786.7,575.07 788.4,575.07 790.1,575.07 791.8,575.07 793.5,575.07 795.2,575.07 796.9,575.07 798.6,575.07 800.4,575.07 802.1,575.07 803.8,575.07 805.5,575.07 807.2,575.07 808.9,575.07 810.6,575.07 812.3,575.07 814,575.07 815.7,575.07 817.4,575.07 819.1,575.07 820.8,575.07 822.5,575.07 824.2,575.07 825.9,575.07 827.6,575.07 829.3,575.07 831,575.07 832.7,575.07 834.5,575.07 836.2,575.07 837.9,575.07 839.6,575.07 841.3,575.07 843,575.07 844.7,575.07 846.4,575.07 848.1,575.07 849.8,575.07 851.5,575.07 853.2,575.07 854.9,575.07 856.6,575.07 858.3,575.07" fill="none" stroke="#2297E6" stroke-width="2.75" stroke-linecap="round" stroke-linejoin="round"/>
<polygon points="694.6,564.2 695,560 695.3,555.9 695.7,552 696,548 696.3,543.9 696.7,539.9 697,537.4 697.4,535 697.7,531.9 698.1,529 698.4,527 698.7,524.5 699.1,523.5 699.4,522.9 699.8,520.1 700.1,519.3 700.4,517.1 700.8,517.3 701.1,517.9 701.5,517.4 701.8,517.6 702.1,518.2 702.5,519.2 702.8,520.2 703.2,521.3 703.5,522.4 703.8,523.4 704.2,526.8 704.5,529 704.9,527.7 705.2,527.6 705.6,527.5 705.9,528.3 706.2,528.2 706.6,528.7 706.9,529.3 707.3,530.9 707.6,530.3 707.9,530.9 708.3,531.4 708.6,531.2 709,530.2 709.3,529.2 709.6,529.5 710,529.2 710.3,529.6 710.7,529.6 711,529.7 711.3,528.9 711.7,528.2 712,528.6 712.4,528.8 712.7,528.6 713.1,528.5 713.4,528.4 713.7,526.9 714.1,529.1 714.4,528.7 714.8,528.9 715.1,527.5 715.4,527.6 715.8,528.3 716.1,528.4 716.5,528.4 716.8,528.9 717.1,529.7 717.5,530.3 717.8,529.7 718.2,529.4 718.5,530.2 718.9,529.9 719.2,529.5 719.5,529.7 719.9,530.1 720.2,530.5 720.6,531.1 720.9,530.3 721.2,529.1 721.6,528.1 721.9,527.4 722.3,527.9 722.6,528.6 722.9,527.8 723.3,528.5 723.6,528.8 724,530.1 724.3,530.3 724.6,530.6 725,530.6 725.3,531.6 725.7,531.5 726,533.1 726.4,534.3 726.7,534.9 727,535.2 727.4,535.6 727.7,536.3 728.1,536.4 728.4,537.1 728.7,536.9 729.4,537.3 730.1,537.7 730.8,540.1 731.5,541.4 732.2,542 732.8,542 733.5,542.7 734.2,544.3 734.9,545.2 735.6,545 736.2,545.8 736.9,548.1 737.6,547.2 738.3,548.2 739,549.1 739.7,548.4 740.3,549 741,549.5 741.7,549.2 742.4,549.8 743.1,550.5 743.7,550.4 744.4,550.2 745.1,550.2 745.8,550.5 746.5,551.3 747.2,551 747.8,551.5 748.5,552.5 749.2,552.3 749.9,552.9 750.6,552 751.2,552.4 751.9,553.7 752.6,553.6 753.3,553.8 754,554.4 754.7,554.1 755.3,554.2 756,554.5 756.7,554.2 757.4,554.5 758.1,554.6 758.7,554.5 759.4,554.8 760.1,554.9 760.8,555 761.5,555.3 762.2,555.5 762.8,555.3 763.5,555.5 764.2,555.2 764.9,555.1 765.6,554.5 766.2,554.2 766.9,554.5 767.6,554.5 768.3,554.1 769,553.7 769.7,553.6 770.3,553.9 771,554.2 771.7,554.5 772.4,554.3 773.1,554.7 773.8,555.2 774.4,555.5 775.1,555.8 775.8,555.5 776.5,556 777.2,556.9 777.8,556.8 778.5,557.6 779.2,557.3 779.9,557.7 780.6,558 781.3,557.3 781.9,557.3 782.6,557.6 783.3,558.1 784,558 784.7,557.6 785.3,557.5 786,558.1 786.7,557.7 787.4,557.7 788.1,557.2 788.8,557.5 789.4,557.1 790.1,557.8 790.8,557.8 791.5,557.6 792.2,557.8 792.8,557.8 793.5,558.6 794.2,558.3 794.9,558.4 795.6,558.6 796.3,558.6 796.9,558.1 797.6,558.1 798.3,558.8 799,559.5 799.7,558.8 800.4,558.9 801,558.7 801.7,559.1 802.4,559.2 803.1,559.8 803.8,559.4 804.4,559.6 805.1,559.8 805.8,559.2 806.5,559.5 807.2,559.2 807.9,559 808.5,559.5 809.2,559.8 809.9,559.4 810.6,559.7 811.3,559.3 811.9,559.6 812.6,559.6 813.3,559.9 814,560.1 814.7,560.3 815.4,560.3 816,559.8 816.7,559.8 817.4,559.4 818.1,560.1 818.8,559.6 819.4,559.5 820.1,559.7 820.8,559.5 821.5,559.3 822.2,559.5 822.9,559.3 823.5,558.7 824.2,559.3 824.9,559.3 825.6,559.6 826.3,559.5 826.9,559 827.6,559.2 828.3,559.6 829,560.1 829.7,559.9 830.4,560.2 831,559.6 831.7,560 832.4,560.2 833.1,560.3 833.8,560.2 834.5,560.6 835.1,560.6 835.8,560.7 836.5,560.3 837.2,560.4 837.9,560.9 838.5,560.9 839.2,561 839.9,561 840.6,561.2 841.3,561.2 842,561.2 842.6,561.1 843.3,561.5 844,561.4 844.7,561.3 845.4,561.8 846,561.8 846.7,561.5 847.4,561.5 848.1,561.7 848.8,561.8 849.5,561.7 850.1,561.8 850.8,561.6 851.5,561.4 852.2,561.4 852.9,561.7 853.5,562.1 854.2,561.9 854.9,561.7 855.6,562 856.3,561.6 857,562.4 857.6,562.2 858.3,562.3 858.3,587.9 857.6,588 857,588 856.3,588.2 855.6,588.3 854.9,588.2 854.2,588.3 853.5,588.4 852.9,588.3 852.2,588.4 851.5,588.4 850.8,588.3 850.1,588.3 849.5,588.2 848.8,588.4 848.1,588.4 847.4,588.5 846.7,588.6 846,588.4 845.4,588.4 844.7,588.6 844,588.7 843.3,588.8 842.6,588.8 842,588.9 841.3,588.9 840.6,588.9 839.9,589 839.2,589.1 838.5,588.9 837.9,589 837.2,589.1 836.5,589 835.8,589.1 835.1,589.3 834.5,589.1 833.8,589.2 833.1,589.3 832.4,589.3 831.7,589.5 831,589.2 830.4,589.6 829.7,589.3 829,589.5 828.3,589.6 827.6,589.5 826.9,589.7 826.3,589.8 825.6,589.5 824.9,589.7 824.2,589.9 823.5,589.8 822.9,589.8 822.2,589.7 821.5,589.8 820.8,589.8 820.1,589.7 819.4,590 818.8,589.9 818.1,589.9 817.4,590.1 816.7,589.9 816,589.8 815.4,589.8 814.7,589.9 814,589.7 813.3,589.6 812.6,589.8 811.9,589.7 811.3,590.1 810.6,590.2 809.9,590 809.2,590 808.5,590.1 807.9,590.2 807.2,590 806.5,590.1 805.8,590.4 805.1,590.4 804.4,590.1 803.8,590 803.1,590.3 802.4,590.1 801.7,590.1 801,590.7 800.4,590.8 799.7,591 799,591.2 798.3,591.5 797.6,592 796.9,592.1 796.3,592.4 795.6,593.1 794.9,593.2 794.2,593.6 793.5,593.6 792.8,594.3 792.2,594.3 791.5,594.8 790.8,594.9 790.1,595.4 789.4,595.5 788.8,595.7 788.1,595.8 787.4,595.9 786.7,595.9 786,596.1 785.3,596.4 784.7,596.6 784,596.8 783.3,596.8 782.6,596.8 781.9,597 781.3,597 780.6,597.3 779.9,597.5 779.2,597.5 778.5,597.8 777.8,597.8 777.2,597.8 776.5,598.1 775.8,598.1 775.1,598.4 774.4,598.5 773.8,598.9 773.1,598.6 772.4,599.1 771.7,599.3 771,599.2 770.3,599.1 769.7,599.2 769,599.2 768.3,599.7 767.6,599.8 766.9,599.7 766.2,599.5 765.6,599.6 764.9,600 764.2,599.8 763.5,600 762.8,599.9 762.2,600 761.5,600 760.8,600.1 760.1,600.3 759.4,600.3 758.7,600.4 758.1,600.3 757.4,600.2 756.7,600.3 756,600.5 755.3,600.5 754.7,600.4 754,600.8 753.3,600.8 752.6,600.7 751.9,600.8 751.2,600.6 750.6,600.1 749.9,600.6 749.2,600.6 748.5,600.4 747.8,600.4 747.2,600.6 746.5,600.8 745.8,600.6 745.1,600.8 744.4,601 743.7,600.9 743.1,600.8 742.4,601.2 741.7,600.8 741,601.2 740.3,601.2 739.7,601 739,601 738.3,601 737.6,601 736.9,600.5 736.2,600.8 735.6,600.7 734.9,600.8 734.2,600.3 733.5,600.5 732.8,600.7 732.2,600.7 731.5,600.4 730.8,600.5 730.1,599.6 729.4,599.9 728.7,599.7 728.4,599.6 728.1,599.2 727.7,599.4 727.4,599.5 727,599.3 726.7,599.4 726.4,599.8 726,599.5 725.7,599.5 725.3,598.9 725,599.4 724.6,599.2 724.3,599.1 724,599.4 723.6,599 723.3,599.5 722.9,599.2 722.6,599.4 722.3,599.1 721.9,599 721.6,599.4 721.2,599.5 720.9,599.5 720.6,599.1 720.2,598.7 719.9,599 719.5,598.7 719.2,598.3 718.9,598.6 718.5,598.1 718.2,598.4 717.8,598.5 717.5,598.2 717.1,598.4 716.8,598.2 716.5,598.1 716.1,598.4 715.8,598.3 715.4,598.2 715.1,598 714.8,597.7 714.4,597.7 714.1,597.2 713.7,596.2 713.4,596.7 713.1,596.5 712.7,595.8 712.4,596.2 712,596.5 711.7,595.8 711.3,595.7 711,596 710.7,595.5 710.3,596 710,595.6 709.6,595.8 709.3,595.4 709,594.9 708.6,594.6 708.3,594.3 707.9,595 707.6,594.6 707.3,593.9 706.9,593.3 706.6,592.9 706.2,592.3 705.9,592.8 705.6,592.5 705.2,592.1 704.9,592.2 704.5,592 704.2,591 703.8,590.9 703.5,591.4 703.2,590.9 702.8,589.7 702.5,589.1 702.1,588.4 701.8,587.6 701.5,586.6 701.1,585.6 700.8,584.9 700.4,584.5 700.1,583.9 699.8,584 699.4,582.6 699.1,581.5 698.7,581.5 698.4,580.5 698.1,579.8 697.7,578.6 697.4,576.5 697,574.9 696.7,573.5 696.3,571.9 696,570.3 695.7,568.9 695.3,567.4 695,565.8 694.6,564.2" fill="#2297E6" fill-opacity="0.15"/>
</g>
<rect x="681" y="410.2" width="184.1" height="210.6" fill="none" stroke="#000" stroke-width="1.75" stroke-linejoin="round"/>
<line x1="681" y1="613" x2="670.2" y2="613" class="tkl"/>
<text x="659.8" y="619.1" text-anchor="end" class="tk">0.0</text>
<line x1="681" y1="574" x2="670.2" y2="574" class="tkl"/>
<text x="659.8" y="580.1" text-anchor="end" class="tk">0.2</text>
<line x1="681" y1="535" x2="670.2" y2="535" class="tkl"/>
<text x="659.8" y="541.1" text-anchor="end" class="tk">0.4</text>
<line x1="681" y1="496" x2="670.2" y2="496" class="tkl"/>
<text x="659.8" y="502.1" text-anchor="end" class="tk">0.6</text>
<line x1="681" y1="457" x2="670.2" y2="457" class="tkl"/>
<text x="659.8" y="463.1" text-anchor="end" class="tk">0.8</text>
<line x1="681" y1="418" x2="670.2" y2="418" class="tkl"/>
<text x="659.8" y="424.1" text-anchor="end" class="tk">1.0</text>
<line x1="687.8" y1="620.8" x2="687.8" y2="631.6" class="tkl"/>
<text transform="translate(694.3,642.8) rotate(-90)" text-anchor="end" class="tk">0</text>
<line x1="721.9" y1="620.8" x2="721.9" y2="631.6" class="tkl"/>
<text transform="translate(728.4,642.8) rotate(-90)" text-anchor="end" class="tk">100</text>
<line x1="756" y1="620.8" x2="756" y2="631.6" class="tkl"/>
<text transform="translate(762.5,642.8) rotate(-90)" text-anchor="end" class="tk">200</text>
<line x1="790.1" y1="620.8" x2="790.1" y2="631.6" class="tkl"/>
<text transform="translate(796.6,642.8) rotate(-90)" text-anchor="end" class="tk">300</text>
<line x1="824.2" y1="620.8" x2="824.2" y2="631.6" class="tkl"/>
<text transform="translate(830.7,642.8) rotate(-90)" text-anchor="end" class="tk">400</text>
<line x1="858.3" y1="620.8" x2="858.3" y2="631.6" class="tkl"/>
<text transform="translate(864.8,642.8) rotate(-90)" text-anchor="end" class="tk">500</text>
<text x="773" y="396.2" text-anchor="middle" class="ti">WE(2,1)</text>
<text x="773" y="703" text-anchor="middle" class="ax">Patients recruited</text>
<text transform="translate(611.6,515.5) rotate(-90)" text-anchor="middle" class="ax">Allocation ratio</text>
<line x1="799.2" y1="423.9" x2="819.6" y2="423.9" stroke="#000000" stroke-width="2.2" stroke-linecap="round"/>
<text x="830.4" y="428" class="lg">arm 1</text>
<line x1="799.2" y1="437.9" x2="819.6" y2="437.9" stroke="#DF536B" stroke-width="2.2" stroke-linecap="round"/>
<text x="830.4" y="442" class="lg">arm 2</text>
<line x1="799.2" y1="451.9" x2="819.6" y2="451.9" stroke="#61D04F" stroke-width="2.2" stroke-linecap="round"/>
<text x="830.4" y="456" class="lg">arm 3</text>
<line x1="799.2" y1="465.9" x2="819.6" y2="465.9" stroke="#2297E6" stroke-width="2.2" stroke-linecap="round"/>
<text x="830.4" y="470" class="lg">arm 4</text>
</g>
</svg>
</body></html>
